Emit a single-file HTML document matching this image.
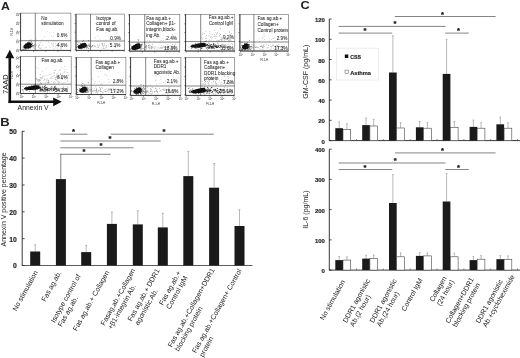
<!DOCTYPE html><html><head><meta charset="utf-8"><title>Figure</title>
<style>html,body{margin:0;padding:0;background:#fff}svg{display:block;filter:blur(0.3px)}text{font-family:"Liberation Sans",sans-serif;fill:#222}</style></head><body>
<svg width="520" height="358" viewBox="0 0 520 358">
<rect width="520" height="358" fill="#fff"/>
<text x="1.0" y="9.8" font-size="11.3" font-weight="bold" text-anchor="start" fill="#111" textLength="8.9" lengthAdjust="spacingAndGlyphs">A</text>
<text x="0.3" y="126.2" font-size="11.3" font-weight="bold" text-anchor="start" fill="#111" textLength="9.4" lengthAdjust="spacingAndGlyphs">B</text>
<text x="300.5" y="9.3" font-size="11.3" font-weight="bold" text-anchor="start" fill="#111" textLength="9.2" lengthAdjust="spacingAndGlyphs">C</text>
<rect x="20.6" y="13.1" width="50.3" height="37.3" fill="#fff" stroke="#666" stroke-width="0.6"/>
<path d="M20.6 13.1V50.4H70.9" fill="none" stroke="#333" stroke-width="0.9"/>
<line x1="35.3" y1="13.1" x2="35.3" y2="50.4" stroke="#333" stroke-width="0.6"/>
<line x1="20.6" y1="40.7" x2="70.9" y2="40.7" stroke="#333" stroke-width="0.6"/>
<ellipse cx="27.9" cy="45.9" rx="4.6" ry="2.5" fill="#0d0d0d" transform="rotate(-16 27.9 45.9)"/>
<ellipse cx="29.0" cy="45.1" rx="2.8" ry="2.3" fill="#0d0d0d" transform="rotate(-24 27.9 45.9)"/>
<circle cx="27.3" cy="47.3" r="0.45" fill="#222"/>
<circle cx="26.9" cy="45.4" r="0.45" fill="#222"/>
<circle cx="24.6" cy="46.3" r="0.45" fill="#222"/>
<circle cx="31.9" cy="45.8" r="0.45" fill="#222"/>
<circle cx="31.5" cy="45.5" r="0.45" fill="#222"/>
<circle cx="29.3" cy="46.0" r="0.45" fill="#222"/>
<circle cx="22.8" cy="49.5" r="0.45" fill="#222"/>
<circle cx="29.9" cy="46.6" r="0.45" fill="#222"/>
<circle cx="24.6" cy="45.7" r="0.45" fill="#222"/>
<circle cx="28.8" cy="45.5" r="0.45" fill="#222"/>
<circle cx="29.2" cy="43.9" r="0.45" fill="#222"/>
<circle cx="29.1" cy="46.5" r="0.45" fill="#222"/>
<circle cx="30.5" cy="48.1" r="0.45" fill="#222"/>
<circle cx="25.3" cy="44.8" r="0.45" fill="#222"/>
<circle cx="26.6" cy="46.0" r="0.45" fill="#222"/>
<circle cx="30.1" cy="45.9" r="0.45" fill="#222"/>
<circle cx="25.7" cy="44.1" r="0.45" fill="#222"/>
<circle cx="26.9" cy="49.2" r="0.45" fill="#222"/>
<circle cx="25.3" cy="47.2" r="0.45" fill="#222"/>
<circle cx="28.3" cy="42.0" r="0.45" fill="#222"/>
<circle cx="28.9" cy="48.9" r="0.45" fill="#222"/>
<circle cx="27.0" cy="44.1" r="0.45" fill="#222"/>
<circle cx="29.5" cy="45.3" r="0.45" fill="#222"/>
<circle cx="23.5" cy="49.2" r="0.45" fill="#222"/>
<circle cx="30.7" cy="47.5" r="0.45" fill="#222"/>
<circle cx="32.9" cy="45.4" r="0.45" fill="#222"/>
<circle cx="27.4" cy="42.8" r="0.45" fill="#222"/>
<circle cx="29.5" cy="43.9" r="0.45" fill="#222"/>
<circle cx="25.5" cy="43.4" r="0.45" fill="#222"/>
<circle cx="24.3" cy="45.6" r="0.45" fill="#222"/>
<circle cx="30.8" cy="39.9" r="0.45" fill="#222"/>
<circle cx="23.1" cy="47.9" r="0.45" fill="#222"/>
<circle cx="33.1" cy="45.9" r="0.45" fill="#222"/>
<circle cx="28.6" cy="43.8" r="0.45" fill="#222"/>
<circle cx="24.8" cy="49.2" r="0.45" fill="#222"/>
<circle cx="31.6" cy="45.2" r="0.45" fill="#222"/>
<circle cx="29.0" cy="46.7" r="0.45" fill="#222"/>
<circle cx="33.6" cy="45.8" r="0.45" fill="#222"/>
<circle cx="29.9" cy="46.7" r="0.45" fill="#222"/>
<circle cx="31.4" cy="46.2" r="0.45" fill="#222"/>
<circle cx="29.5" cy="40.9" r="0.45" fill="#222"/>
<circle cx="27.9" cy="48.4" r="0.45" fill="#222"/>
<circle cx="29.6" cy="45.0" r="0.45" fill="#222"/>
<circle cx="29.4" cy="47.1" r="0.45" fill="#222"/>
<circle cx="29.0" cy="48.4" r="0.45" fill="#222"/>
<circle cx="25.4" cy="45.6" r="0.45" fill="#222"/>
<circle cx="31.4" cy="45.0" r="0.45" fill="#222"/>
<circle cx="25.5" cy="48.9" r="0.45" fill="#222"/>
<circle cx="32.5" cy="43.5" r="0.45" fill="#222"/>
<circle cx="23.1" cy="46.9" r="0.45" fill="#222"/>
<circle cx="27.2" cy="45.4" r="0.45" fill="#222"/>
<circle cx="31.9" cy="42.2" r="0.45" fill="#222"/>
<circle cx="31.2" cy="41.7" r="0.45" fill="#222"/>
<circle cx="25.6" cy="48.1" r="0.45" fill="#222"/>
<circle cx="32.2" cy="46.8" r="0.45" fill="#222"/>
<circle cx="29.1" cy="45.9" r="0.45" fill="#222"/>
<circle cx="28.7" cy="47.1" r="0.45" fill="#222"/>
<circle cx="27.4" cy="46.7" r="0.45" fill="#222"/>
<circle cx="29.8" cy="45.4" r="0.45" fill="#222"/>
<circle cx="30.8" cy="46.5" r="0.45" fill="#222"/>
<circle cx="34.8" cy="44.7" r="0.45" fill="#222"/>
<circle cx="26.2" cy="45.4" r="0.45" fill="#222"/>
<circle cx="28.4" cy="48.1" r="0.45" fill="#222"/>
<circle cx="39.5" cy="48.0" r="0.42" fill="#888"/>
<circle cx="61.1" cy="48.0" r="0.42" fill="#888"/>
<circle cx="42.5" cy="45.3" r="0.42" fill="#888"/>
<circle cx="32.9" cy="46.0" r="0.42" fill="#888"/>
<circle cx="38.9" cy="45.7" r="0.42" fill="#888"/>
<circle cx="34.2" cy="48.8" r="0.42" fill="#888"/>
<circle cx="31.6" cy="47.7" r="0.42" fill="#888"/>
<circle cx="33.9" cy="45.4" r="0.42" fill="#888"/>
<circle cx="45.0" cy="47.8" r="0.42" fill="#888"/>
<circle cx="60.6" cy="46.3" r="0.42" fill="#888"/>
<circle cx="56.2" cy="45.6" r="0.42" fill="#888"/>
<circle cx="39.5" cy="44.8" r="0.42" fill="#888"/>
<circle cx="34.3" cy="46.2" r="0.42" fill="#888"/>
<circle cx="53.1" cy="44.1" r="0.42" fill="#888"/>
<circle cx="38.5" cy="46.4" r="0.42" fill="#888"/>
<circle cx="60.8" cy="48.7" r="0.42" fill="#888"/>
<circle cx="55.8" cy="46.9" r="0.42" fill="#888"/>
<circle cx="51.7" cy="43.3" r="0.42" fill="#888"/>
<circle cx="35.8" cy="44.6" r="0.42" fill="#888"/>
<circle cx="31.7" cy="45.8" r="0.42" fill="#888"/>
<circle cx="31.7" cy="45.7" r="0.42" fill="#888"/>
<circle cx="50.0" cy="47.1" r="0.42" fill="#888"/>
<circle cx="59.7" cy="42.6" r="0.42" fill="#888"/>
<circle cx="60.9" cy="47.1" r="0.42" fill="#888"/>
<circle cx="59.7" cy="45.3" r="0.42" fill="#888"/>
<circle cx="35.8" cy="46.7" r="0.42" fill="#888"/>
<circle cx="35.0" cy="46.5" r="0.42" fill="#888"/>
<circle cx="57.6" cy="48.0" r="0.42" fill="#888"/>
<circle cx="55.3" cy="43.8" r="0.42" fill="#888"/>
<circle cx="53.8" cy="46.2" r="0.42" fill="#888"/>
<circle cx="32.6" cy="44.2" r="0.42" fill="#888"/>
<circle cx="53.2" cy="43.2" r="0.42" fill="#888"/>
<circle cx="52.0" cy="45.0" r="0.42" fill="#888"/>
<circle cx="53.5" cy="46.1" r="0.42" fill="#888"/>
<circle cx="38.6" cy="47.2" r="0.42" fill="#888"/>
<circle cx="40.4" cy="42.1" r="0.42" fill="#888"/>
<circle cx="40.6" cy="48.2" r="0.42" fill="#888"/>
<circle cx="34.4" cy="45.2" r="0.42" fill="#888"/>
<circle cx="33.5" cy="47.8" r="0.42" fill="#888"/>
<circle cx="54.1" cy="48.6" r="0.42" fill="#888"/>
<circle cx="33.9" cy="47.9" r="0.42" fill="#888"/>
<circle cx="48.8" cy="42.2" r="0.42" fill="#888"/>
<circle cx="39.1" cy="45.2" r="0.42" fill="#888"/>
<circle cx="31.5" cy="45.7" r="0.42" fill="#888"/>
<circle cx="60.3" cy="44.9" r="0.42" fill="#888"/>
<circle cx="58.8" cy="44.5" r="0.42" fill="#888"/>
<circle cx="41.5" cy="47.9" r="0.42" fill="#888"/>
<circle cx="35.4" cy="43.9" r="0.42" fill="#888"/>
<circle cx="36.4" cy="45.7" r="0.42" fill="#888"/>
<circle cx="46.4" cy="47.0" r="0.42" fill="#888"/>
<circle cx="44.8" cy="37.0" r="0.38" fill="#999"/>
<circle cx="66.0" cy="38.4" r="0.38" fill="#999"/>
<circle cx="47.8" cy="31.3" r="0.38" fill="#999"/>
<circle cx="65.8" cy="37.8" r="0.38" fill="#999"/>
<circle cx="50.0" cy="33.0" r="0.38" fill="#999"/>
<circle cx="53.6" cy="36.1" r="0.38" fill="#999"/>
<circle cx="53.4" cy="32.7" r="0.38" fill="#999"/>
<circle cx="42.3" cy="39.3" r="0.38" fill="#999"/>
<circle cx="36.4" cy="38.9" r="0.38" fill="#999"/>
<circle cx="51.7" cy="36.1" r="0.38" fill="#999"/>
<text x="41.3" y="19.7" font-size="4.7" font-weight="normal" text-anchor="start" fill="#333" stroke="#333" stroke-width="0.04">No</text>
<text x="41.3" y="24.7" font-size="4.7" font-weight="normal" text-anchor="start" fill="#333" stroke="#333" stroke-width="0.04">stimulation</text>
<text x="67.5" y="36.5" font-size="4.7" font-weight="normal" text-anchor="end" fill="#333" stroke="#333" stroke-width="0.04">0.6%</text>
<text x="67.5" y="46.5" font-size="4.7" font-weight="normal" text-anchor="end" fill="#333" stroke="#333" stroke-width="0.04">4.6%</text>
<line x1="21.2" y1="50.4" x2="21.2" y2="51.9" stroke="#333" stroke-width="0.5"/>
<line x1="19.1" y1="49.8" x2="20.6" y2="49.8" stroke="#333" stroke-width="0.5"/>
<line x1="24.9" y1="50.4" x2="24.9" y2="51.199999999999996" stroke="#777" stroke-width="0.35"/>
<line x1="19.8" y1="47.1" x2="20.6" y2="47.1" stroke="#777" stroke-width="0.35"/>
<line x1="27.1" y1="50.4" x2="27.1" y2="51.199999999999996" stroke="#777" stroke-width="0.35"/>
<line x1="19.8" y1="45.5" x2="20.6" y2="45.5" stroke="#777" stroke-width="0.35"/>
<line x1="29.8" y1="50.4" x2="29.8" y2="51.199999999999996" stroke="#777" stroke-width="0.35"/>
<line x1="19.8" y1="43.5" x2="20.6" y2="43.5" stroke="#777" stroke-width="0.35"/>
<line x1="31.6" y1="50.4" x2="31.6" y2="51.199999999999996" stroke="#777" stroke-width="0.35"/>
<line x1="19.8" y1="42.2" x2="20.6" y2="42.2" stroke="#777" stroke-width="0.35"/>
<text x="18.4" y="51.2" font-size="2.7" text-anchor="middle" fill="#666" transform="rotate(-90 18.4 50.4)">10<tspan dy="-1.1" font-size="1.9">0</tspan></text>
<line x1="33.5" y1="50.4" x2="33.5" y2="51.9" stroke="#333" stroke-width="0.5"/>
<line x1="19.1" y1="40.8" x2="20.6" y2="40.8" stroke="#333" stroke-width="0.5"/>
<line x1="37.2" y1="50.4" x2="37.2" y2="51.199999999999996" stroke="#777" stroke-width="0.35"/>
<line x1="19.8" y1="38.1" x2="20.6" y2="38.1" stroke="#777" stroke-width="0.35"/>
<line x1="39.3" y1="50.4" x2="39.3" y2="51.199999999999996" stroke="#777" stroke-width="0.35"/>
<line x1="19.8" y1="36.5" x2="20.6" y2="36.5" stroke="#777" stroke-width="0.35"/>
<line x1="42.1" y1="50.4" x2="42.1" y2="51.199999999999996" stroke="#777" stroke-width="0.35"/>
<line x1="19.8" y1="34.5" x2="20.6" y2="34.5" stroke="#777" stroke-width="0.35"/>
<line x1="43.8" y1="50.4" x2="43.8" y2="51.199999999999996" stroke="#777" stroke-width="0.35"/>
<line x1="19.8" y1="33.1" x2="20.6" y2="33.1" stroke="#777" stroke-width="0.35"/>
<text x="18.4" y="42.2" font-size="2.7" text-anchor="middle" fill="#666" transform="rotate(-90 18.4 41.4)">10<tspan dy="-1.1" font-size="1.9">1</tspan></text>
<line x1="45.8" y1="50.4" x2="45.8" y2="51.9" stroke="#333" stroke-width="0.5"/>
<line x1="19.1" y1="31.8" x2="20.6" y2="31.8" stroke="#333" stroke-width="0.5"/>
<line x1="49.4" y1="50.4" x2="49.4" y2="51.199999999999996" stroke="#777" stroke-width="0.35"/>
<line x1="19.8" y1="29.0" x2="20.6" y2="29.0" stroke="#777" stroke-width="0.35"/>
<line x1="51.6" y1="50.4" x2="51.6" y2="51.199999999999996" stroke="#777" stroke-width="0.35"/>
<line x1="19.8" y1="27.4" x2="20.6" y2="27.4" stroke="#777" stroke-width="0.35"/>
<line x1="54.3" y1="50.4" x2="54.3" y2="51.199999999999996" stroke="#777" stroke-width="0.35"/>
<line x1="19.8" y1="25.4" x2="20.6" y2="25.4" stroke="#777" stroke-width="0.35"/>
<line x1="56.1" y1="50.4" x2="56.1" y2="51.199999999999996" stroke="#777" stroke-width="0.35"/>
<line x1="19.8" y1="24.1" x2="20.6" y2="24.1" stroke="#777" stroke-width="0.35"/>
<text x="18.4" y="33.1" font-size="2.7" text-anchor="middle" fill="#666" transform="rotate(-90 18.4 32.4)">10<tspan dy="-1.1" font-size="1.9">2</tspan></text>
<line x1="58.0" y1="50.4" x2="58.0" y2="51.9" stroke="#333" stroke-width="0.5"/>
<line x1="19.1" y1="22.7" x2="20.6" y2="22.7" stroke="#333" stroke-width="0.5"/>
<line x1="61.7" y1="50.4" x2="61.7" y2="51.199999999999996" stroke="#777" stroke-width="0.35"/>
<line x1="19.8" y1="20.0" x2="20.6" y2="20.0" stroke="#777" stroke-width="0.35"/>
<line x1="63.9" y1="50.4" x2="63.9" y2="51.199999999999996" stroke="#777" stroke-width="0.35"/>
<line x1="19.8" y1="18.4" x2="20.6" y2="18.4" stroke="#777" stroke-width="0.35"/>
<line x1="66.6" y1="50.4" x2="66.6" y2="51.199999999999996" stroke="#777" stroke-width="0.35"/>
<line x1="19.8" y1="16.4" x2="20.6" y2="16.4" stroke="#777" stroke-width="0.35"/>
<line x1="68.4" y1="50.4" x2="68.4" y2="51.199999999999996" stroke="#777" stroke-width="0.35"/>
<line x1="19.8" y1="15.1" x2="20.6" y2="15.1" stroke="#777" stroke-width="0.35"/>
<text x="18.4" y="24.1" font-size="2.7" text-anchor="middle" fill="#666" transform="rotate(-90 18.4 23.3)">10<tspan dy="-1.1" font-size="1.9">3</tspan></text>
<line x1="70.3" y1="50.4" x2="70.3" y2="51.9" stroke="#333" stroke-width="0.5"/>
<line x1="19.1" y1="13.7" x2="20.6" y2="13.7" stroke="#333" stroke-width="0.5"/>
<text x="18.4" y="15.1" font-size="2.7" text-anchor="middle" fill="#666" transform="rotate(-90 18.4 14.3)">10<tspan dy="-1.1" font-size="1.9">4</tspan></text>
<text x="12.6" y="31.5" font-size="2.8" font-weight="normal" text-anchor="middle" fill="#444" transform="rotate(-90 12.6 31.5)">FL2-H</text>
<rect x="76.0" y="14.1" width="48.6" height="36.3" fill="#fff" stroke="#666" stroke-width="0.6"/>
<path d="M76.0 14.1V50.4H124.6" fill="none" stroke="#333" stroke-width="0.9"/>
<line x1="90.5" y1="14.1" x2="90.5" y2="50.4" stroke="#333" stroke-width="0.6"/>
<line x1="76.0" y1="41.0" x2="124.6" y2="41.0" stroke="#333" stroke-width="0.6"/>
<ellipse cx="82.4" cy="46.1" rx="4.9" ry="2.3" fill="#0d0d0d" transform="rotate(-16 82.4 46.1)"/>
<ellipse cx="83.7" cy="45.5" rx="3.0" ry="2.0" fill="#0d0d0d" transform="rotate(-24 82.4 46.1)"/>
<circle cx="81.0" cy="43.8" r="0.45" fill="#222"/>
<circle cx="81.1" cy="48.9" r="0.45" fill="#222"/>
<circle cx="86.5" cy="46.8" r="0.45" fill="#222"/>
<circle cx="83.0" cy="47.8" r="0.45" fill="#222"/>
<circle cx="82.3" cy="43.6" r="0.45" fill="#222"/>
<circle cx="85.4" cy="44.0" r="0.45" fill="#222"/>
<circle cx="78.8" cy="45.5" r="0.45" fill="#222"/>
<circle cx="76.9" cy="47.5" r="0.45" fill="#222"/>
<circle cx="78.5" cy="48.1" r="0.45" fill="#222"/>
<circle cx="79.0" cy="42.8" r="0.45" fill="#222"/>
<circle cx="84.9" cy="44.8" r="0.45" fill="#222"/>
<circle cx="83.2" cy="44.9" r="0.45" fill="#222"/>
<circle cx="85.7" cy="46.9" r="0.45" fill="#222"/>
<circle cx="85.0" cy="46.1" r="0.45" fill="#222"/>
<circle cx="87.6" cy="46.1" r="0.45" fill="#222"/>
<circle cx="82.8" cy="41.4" r="0.45" fill="#222"/>
<circle cx="86.4" cy="47.9" r="0.45" fill="#222"/>
<circle cx="81.1" cy="45.5" r="0.45" fill="#222"/>
<circle cx="88.3" cy="40.5" r="0.45" fill="#222"/>
<circle cx="79.5" cy="48.5" r="0.45" fill="#222"/>
<circle cx="89.1" cy="44.0" r="0.45" fill="#222"/>
<circle cx="85.0" cy="47.4" r="0.45" fill="#222"/>
<circle cx="79.2" cy="46.9" r="0.45" fill="#222"/>
<circle cx="84.0" cy="47.6" r="0.45" fill="#222"/>
<circle cx="82.2" cy="45.8" r="0.45" fill="#222"/>
<circle cx="78.6" cy="46.4" r="0.45" fill="#222"/>
<circle cx="85.7" cy="45.4" r="0.45" fill="#222"/>
<circle cx="78.9" cy="45.3" r="0.45" fill="#222"/>
<circle cx="92.6" cy="45.8" r="0.45" fill="#222"/>
<circle cx="83.2" cy="40.2" r="0.45" fill="#222"/>
<circle cx="85.0" cy="46.5" r="0.45" fill="#222"/>
<circle cx="88.7" cy="45.3" r="0.45" fill="#222"/>
<circle cx="82.5" cy="47.3" r="0.45" fill="#222"/>
<circle cx="83.2" cy="44.4" r="0.45" fill="#222"/>
<circle cx="88.2" cy="48.5" r="0.45" fill="#222"/>
<circle cx="77.1" cy="46.2" r="0.45" fill="#222"/>
<circle cx="83.6" cy="46.2" r="0.45" fill="#222"/>
<circle cx="80.5" cy="44.6" r="0.45" fill="#222"/>
<circle cx="90.6" cy="46.1" r="0.45" fill="#222"/>
<circle cx="77.4" cy="44.6" r="0.45" fill="#222"/>
<circle cx="89.1" cy="46.4" r="0.45" fill="#222"/>
<circle cx="89.4" cy="46.0" r="0.45" fill="#222"/>
<circle cx="79.5" cy="47.6" r="0.45" fill="#222"/>
<circle cx="82.5" cy="47.3" r="0.45" fill="#222"/>
<circle cx="79.8" cy="46.6" r="0.45" fill="#222"/>
<circle cx="84.3" cy="46.5" r="0.45" fill="#222"/>
<circle cx="84.8" cy="45.9" r="0.45" fill="#222"/>
<circle cx="81.8" cy="48.1" r="0.45" fill="#222"/>
<circle cx="82.1" cy="44.4" r="0.45" fill="#222"/>
<circle cx="80.2" cy="46.8" r="0.45" fill="#222"/>
<circle cx="82.2" cy="46.6" r="0.45" fill="#222"/>
<circle cx="82.6" cy="46.5" r="0.45" fill="#222"/>
<circle cx="81.2" cy="43.7" r="0.45" fill="#222"/>
<circle cx="84.6" cy="47.9" r="0.45" fill="#222"/>
<circle cx="83.9" cy="45.3" r="0.45" fill="#222"/>
<circle cx="83.5" cy="43.7" r="0.45" fill="#222"/>
<circle cx="79.6" cy="48.6" r="0.45" fill="#222"/>
<circle cx="77.0" cy="41.8" r="0.45" fill="#222"/>
<circle cx="80.3" cy="43.7" r="0.45" fill="#222"/>
<circle cx="80.0" cy="48.0" r="0.45" fill="#222"/>
<circle cx="84.3" cy="46.0" r="0.45" fill="#222"/>
<circle cx="87.3" cy="46.0" r="0.42" fill="#888"/>
<circle cx="89.1" cy="44.9" r="0.42" fill="#888"/>
<circle cx="87.5" cy="47.7" r="0.42" fill="#888"/>
<circle cx="104.1" cy="43.6" r="0.42" fill="#888"/>
<circle cx="92.1" cy="46.2" r="0.42" fill="#888"/>
<circle cx="97.2" cy="47.3" r="0.42" fill="#888"/>
<circle cx="89.0" cy="45.0" r="0.42" fill="#888"/>
<circle cx="114.8" cy="46.5" r="0.42" fill="#888"/>
<circle cx="115.2" cy="45.0" r="0.42" fill="#888"/>
<circle cx="115.0" cy="45.8" r="0.42" fill="#888"/>
<circle cx="92.8" cy="46.1" r="0.42" fill="#888"/>
<circle cx="94.9" cy="46.2" r="0.42" fill="#888"/>
<circle cx="97.7" cy="45.1" r="0.42" fill="#888"/>
<circle cx="98.6" cy="46.1" r="0.42" fill="#888"/>
<circle cx="86.3" cy="46.0" r="0.42" fill="#888"/>
<circle cx="95.4" cy="46.7" r="0.42" fill="#888"/>
<circle cx="86.8" cy="47.4" r="0.42" fill="#888"/>
<circle cx="90.8" cy="46.3" r="0.42" fill="#888"/>
<circle cx="101.3" cy="43.6" r="0.42" fill="#888"/>
<circle cx="103.7" cy="45.6" r="0.42" fill="#888"/>
<circle cx="105.7" cy="47.2" r="0.42" fill="#888"/>
<circle cx="93.3" cy="45.1" r="0.42" fill="#888"/>
<circle cx="115.7" cy="47.5" r="0.42" fill="#888"/>
<circle cx="103.2" cy="48.0" r="0.42" fill="#888"/>
<circle cx="86.8" cy="47.7" r="0.42" fill="#888"/>
<circle cx="102.7" cy="43.4" r="0.42" fill="#888"/>
<circle cx="106.4" cy="46.4" r="0.42" fill="#888"/>
<circle cx="99.2" cy="45.3" r="0.42" fill="#888"/>
<circle cx="98.6" cy="47.5" r="0.42" fill="#888"/>
<circle cx="109.7" cy="43.8" r="0.42" fill="#888"/>
<circle cx="101.2" cy="47.9" r="0.42" fill="#888"/>
<circle cx="104.9" cy="44.7" r="0.42" fill="#888"/>
<circle cx="90.7" cy="46.9" r="0.42" fill="#888"/>
<circle cx="94.3" cy="46.3" r="0.42" fill="#888"/>
<circle cx="87.9" cy="47.1" r="0.42" fill="#888"/>
<circle cx="102.7" cy="44.5" r="0.42" fill="#888"/>
<circle cx="102.6" cy="45.4" r="0.42" fill="#888"/>
<circle cx="86.3" cy="44.5" r="0.42" fill="#888"/>
<circle cx="108.7" cy="46.1" r="0.42" fill="#888"/>
<circle cx="99.6" cy="44.3" r="0.42" fill="#888"/>
<circle cx="103.8" cy="48.3" r="0.42" fill="#888"/>
<circle cx="91.3" cy="47.1" r="0.42" fill="#888"/>
<circle cx="87.3" cy="45.9" r="0.42" fill="#888"/>
<circle cx="90.1" cy="48.5" r="0.42" fill="#888"/>
<circle cx="106.6" cy="47.8" r="0.42" fill="#888"/>
<circle cx="94.9" cy="45.8" r="0.42" fill="#888"/>
<circle cx="97.8" cy="45.1" r="0.42" fill="#888"/>
<circle cx="102.3" cy="43.8" r="0.42" fill="#888"/>
<circle cx="103.2" cy="46.8" r="0.42" fill="#888"/>
<circle cx="91.3" cy="46.5" r="0.42" fill="#888"/>
<circle cx="106.7" cy="45.4" r="0.42" fill="#888"/>
<circle cx="86.4" cy="47.9" r="0.42" fill="#888"/>
<circle cx="87.1" cy="45.8" r="0.42" fill="#888"/>
<circle cx="104.9" cy="48.3" r="0.42" fill="#888"/>
<circle cx="104.3" cy="45.6" r="0.42" fill="#888"/>
<circle cx="106.0" cy="32.3" r="0.38" fill="#999"/>
<circle cx="106.0" cy="29.6" r="0.38" fill="#999"/>
<circle cx="97.7" cy="30.5" r="0.38" fill="#999"/>
<circle cx="121.9" cy="39.3" r="0.38" fill="#999"/>
<circle cx="105.8" cy="40.0" r="0.38" fill="#999"/>
<circle cx="117.0" cy="33.0" r="0.38" fill="#999"/>
<circle cx="99.9" cy="39.0" r="0.38" fill="#999"/>
<circle cx="98.0" cy="36.0" r="0.38" fill="#999"/>
<circle cx="109.6" cy="38.9" r="0.38" fill="#999"/>
<circle cx="95.9" cy="23.4" r="0.38" fill="#999"/>
<circle cx="95.6" cy="37.9" r="0.38" fill="#999"/>
<circle cx="117.0" cy="25.9" r="0.38" fill="#999"/>
<text x="96.3" y="19.7" font-size="4.7" font-weight="normal" text-anchor="start" fill="#333" stroke="#333" stroke-width="0.04">Isotype</text>
<text x="96.3" y="25.4" font-size="4.7" font-weight="normal" text-anchor="start" fill="#333" stroke="#333" stroke-width="0.04">control of</text>
<text x="96.3" y="31.2" font-size="4.7" font-weight="normal" text-anchor="start" fill="#333" stroke="#333" stroke-width="0.04">Fas ag.ab.</text>
<text x="121" y="40.0" font-size="4.7" font-weight="normal" text-anchor="end" fill="#333" stroke="#333" stroke-width="0.04">0.9%</text>
<text x="120.5" y="46.7" font-size="4.7" font-weight="normal" text-anchor="end" fill="#333" stroke="#333" stroke-width="0.04">5.1%</text>
<line x1="76.6" y1="50.4" x2="76.6" y2="51.9" stroke="#333" stroke-width="0.5"/>
<line x1="74.5" y1="49.8" x2="76.0" y2="49.8" stroke="#333" stroke-width="0.5"/>
<line x1="80.2" y1="50.4" x2="80.2" y2="51.199999999999996" stroke="#777" stroke-width="0.35"/>
<line x1="75.2" y1="47.2" x2="76.0" y2="47.2" stroke="#777" stroke-width="0.35"/>
<line x1="82.3" y1="50.4" x2="82.3" y2="51.199999999999996" stroke="#777" stroke-width="0.35"/>
<line x1="75.2" y1="45.6" x2="76.0" y2="45.6" stroke="#777" stroke-width="0.35"/>
<line x1="84.9" y1="50.4" x2="84.9" y2="51.199999999999996" stroke="#777" stroke-width="0.35"/>
<line x1="75.2" y1="43.7" x2="76.0" y2="43.7" stroke="#777" stroke-width="0.35"/>
<line x1="86.6" y1="50.4" x2="86.6" y2="51.199999999999996" stroke="#777" stroke-width="0.35"/>
<line x1="75.2" y1="42.4" x2="76.0" y2="42.4" stroke="#777" stroke-width="0.35"/>
<line x1="88.4" y1="50.4" x2="88.4" y2="51.9" stroke="#333" stroke-width="0.5"/>
<line x1="74.5" y1="41.0" x2="76.0" y2="41.0" stroke="#333" stroke-width="0.5"/>
<line x1="92.0" y1="50.4" x2="92.0" y2="51.199999999999996" stroke="#777" stroke-width="0.35"/>
<line x1="75.2" y1="38.4" x2="76.0" y2="38.4" stroke="#777" stroke-width="0.35"/>
<line x1="94.1" y1="50.4" x2="94.1" y2="51.199999999999996" stroke="#777" stroke-width="0.35"/>
<line x1="75.2" y1="36.8" x2="76.0" y2="36.8" stroke="#777" stroke-width="0.35"/>
<line x1="96.7" y1="50.4" x2="96.7" y2="51.199999999999996" stroke="#777" stroke-width="0.35"/>
<line x1="75.2" y1="34.9" x2="76.0" y2="34.9" stroke="#777" stroke-width="0.35"/>
<line x1="98.5" y1="50.4" x2="98.5" y2="51.199999999999996" stroke="#777" stroke-width="0.35"/>
<line x1="75.2" y1="33.6" x2="76.0" y2="33.6" stroke="#777" stroke-width="0.35"/>
<line x1="100.3" y1="50.4" x2="100.3" y2="51.9" stroke="#333" stroke-width="0.5"/>
<line x1="74.5" y1="32.2" x2="76.0" y2="32.2" stroke="#333" stroke-width="0.5"/>
<line x1="103.9" y1="50.4" x2="103.9" y2="51.199999999999996" stroke="#777" stroke-width="0.35"/>
<line x1="75.2" y1="29.6" x2="76.0" y2="29.6" stroke="#777" stroke-width="0.35"/>
<line x1="106.0" y1="50.4" x2="106.0" y2="51.199999999999996" stroke="#777" stroke-width="0.35"/>
<line x1="75.2" y1="28.1" x2="76.0" y2="28.1" stroke="#777" stroke-width="0.35"/>
<line x1="108.6" y1="50.4" x2="108.6" y2="51.199999999999996" stroke="#777" stroke-width="0.35"/>
<line x1="75.2" y1="26.1" x2="76.0" y2="26.1" stroke="#777" stroke-width="0.35"/>
<line x1="110.3" y1="50.4" x2="110.3" y2="51.199999999999996" stroke="#777" stroke-width="0.35"/>
<line x1="75.2" y1="24.8" x2="76.0" y2="24.8" stroke="#777" stroke-width="0.35"/>
<line x1="112.1" y1="50.4" x2="112.1" y2="51.9" stroke="#333" stroke-width="0.5"/>
<line x1="74.5" y1="23.5" x2="76.0" y2="23.5" stroke="#333" stroke-width="0.5"/>
<line x1="115.7" y1="50.4" x2="115.7" y2="51.199999999999996" stroke="#777" stroke-width="0.35"/>
<line x1="75.2" y1="20.8" x2="76.0" y2="20.8" stroke="#777" stroke-width="0.35"/>
<line x1="117.8" y1="50.4" x2="117.8" y2="51.199999999999996" stroke="#777" stroke-width="0.35"/>
<line x1="75.2" y1="19.3" x2="76.0" y2="19.3" stroke="#777" stroke-width="0.35"/>
<line x1="120.4" y1="50.4" x2="120.4" y2="51.199999999999996" stroke="#777" stroke-width="0.35"/>
<line x1="75.2" y1="17.3" x2="76.0" y2="17.3" stroke="#777" stroke-width="0.35"/>
<line x1="122.2" y1="50.4" x2="122.2" y2="51.199999999999996" stroke="#777" stroke-width="0.35"/>
<line x1="75.2" y1="16.1" x2="76.0" y2="16.1" stroke="#777" stroke-width="0.35"/>
<line x1="124.0" y1="50.4" x2="124.0" y2="51.9" stroke="#333" stroke-width="0.5"/>
<line x1="74.5" y1="14.7" x2="76.0" y2="14.7" stroke="#333" stroke-width="0.5"/>
<rect x="129.5" y="14.3" width="50.3" height="36.8" fill="#fff" stroke="#666" stroke-width="0.6"/>
<path d="M129.5 14.3V51.1H179.8" fill="none" stroke="#333" stroke-width="0.9"/>
<line x1="144.7" y1="14.3" x2="144.7" y2="51.1" stroke="#333" stroke-width="0.6"/>
<line x1="129.5" y1="42.1" x2="179.8" y2="42.1" stroke="#333" stroke-width="0.6"/>
<ellipse cx="136.4" cy="47.0" rx="5.2" ry="2.5" fill="#0d0d0d" transform="rotate(-16 136.4 47.0)"/>
<ellipse cx="137.7" cy="46.2" rx="3.1" ry="2.2" fill="#0d0d0d" transform="rotate(-24 136.4 47.0)"/>
<circle cx="135.8" cy="46.7" r="0.45" fill="#222"/>
<circle cx="134.4" cy="49.8" r="0.45" fill="#222"/>
<circle cx="133.9" cy="47.9" r="0.45" fill="#222"/>
<circle cx="135.7" cy="44.5" r="0.45" fill="#222"/>
<circle cx="136.5" cy="46.5" r="0.45" fill="#222"/>
<circle cx="138.0" cy="45.3" r="0.45" fill="#222"/>
<circle cx="139.1" cy="46.3" r="0.45" fill="#222"/>
<circle cx="136.2" cy="47.1" r="0.45" fill="#222"/>
<circle cx="141.9" cy="44.2" r="0.45" fill="#222"/>
<circle cx="138.1" cy="39.6" r="0.45" fill="#222"/>
<circle cx="144.5" cy="42.7" r="0.45" fill="#222"/>
<circle cx="134.0" cy="45.9" r="0.45" fill="#222"/>
<circle cx="138.0" cy="47.6" r="0.45" fill="#222"/>
<circle cx="137.2" cy="47.8" r="0.45" fill="#222"/>
<circle cx="134.2" cy="49.3" r="0.45" fill="#222"/>
<circle cx="135.2" cy="47.1" r="0.45" fill="#222"/>
<circle cx="141.1" cy="46.5" r="0.45" fill="#222"/>
<circle cx="134.6" cy="48.8" r="0.45" fill="#222"/>
<circle cx="130.8" cy="44.9" r="0.45" fill="#222"/>
<circle cx="137.2" cy="42.9" r="0.45" fill="#222"/>
<circle cx="138.0" cy="45.3" r="0.45" fill="#222"/>
<circle cx="139.5" cy="48.0" r="0.45" fill="#222"/>
<circle cx="139.1" cy="45.1" r="0.45" fill="#222"/>
<circle cx="138.9" cy="45.8" r="0.45" fill="#222"/>
<circle cx="141.6" cy="44.5" r="0.45" fill="#222"/>
<circle cx="140.6" cy="44.6" r="0.45" fill="#222"/>
<circle cx="138.0" cy="47.4" r="0.45" fill="#222"/>
<circle cx="139.2" cy="48.6" r="0.45" fill="#222"/>
<circle cx="134.2" cy="48.6" r="0.45" fill="#222"/>
<circle cx="145.1" cy="47.2" r="0.45" fill="#222"/>
<circle cx="136.6" cy="48.0" r="0.45" fill="#222"/>
<circle cx="138.8" cy="48.2" r="0.45" fill="#222"/>
<circle cx="138.7" cy="47.9" r="0.45" fill="#222"/>
<circle cx="137.9" cy="46.4" r="0.45" fill="#222"/>
<circle cx="142.1" cy="48.4" r="0.45" fill="#222"/>
<circle cx="131.8" cy="46.2" r="0.45" fill="#222"/>
<circle cx="137.8" cy="44.3" r="0.45" fill="#222"/>
<circle cx="135.7" cy="46.7" r="0.45" fill="#222"/>
<circle cx="137.3" cy="45.7" r="0.45" fill="#222"/>
<circle cx="146.6" cy="46.1" r="0.45" fill="#222"/>
<circle cx="138.7" cy="43.0" r="0.45" fill="#222"/>
<circle cx="131.1" cy="48.9" r="0.45" fill="#222"/>
<circle cx="139.3" cy="46.2" r="0.45" fill="#222"/>
<circle cx="138.7" cy="40.7" r="0.45" fill="#222"/>
<circle cx="140.3" cy="48.8" r="0.45" fill="#222"/>
<circle cx="130.4" cy="49.3" r="0.45" fill="#222"/>
<circle cx="136.2" cy="45.8" r="0.45" fill="#222"/>
<circle cx="137.9" cy="49.0" r="0.45" fill="#222"/>
<circle cx="138.6" cy="48.0" r="0.45" fill="#222"/>
<circle cx="139.5" cy="43.7" r="0.45" fill="#222"/>
<circle cx="131.1" cy="48.8" r="0.45" fill="#222"/>
<circle cx="132.1" cy="47.6" r="0.45" fill="#222"/>
<circle cx="136.2" cy="47.4" r="0.45" fill="#222"/>
<circle cx="133.7" cy="47.4" r="0.45" fill="#222"/>
<circle cx="138.2" cy="46.4" r="0.45" fill="#222"/>
<circle cx="141.6" cy="45.1" r="0.45" fill="#222"/>
<circle cx="135.4" cy="50.0" r="0.45" fill="#222"/>
<circle cx="158.3" cy="47.8" r="0.42" fill="#888"/>
<circle cx="151.0" cy="47.3" r="0.42" fill="#888"/>
<circle cx="140.6" cy="49.0" r="0.42" fill="#888"/>
<circle cx="148.1" cy="43.3" r="0.42" fill="#888"/>
<circle cx="160.8" cy="47.9" r="0.42" fill="#888"/>
<circle cx="171.2" cy="45.9" r="0.42" fill="#888"/>
<circle cx="146.3" cy="47.2" r="0.42" fill="#888"/>
<circle cx="174.7" cy="46.6" r="0.42" fill="#888"/>
<circle cx="140.7" cy="45.8" r="0.42" fill="#888"/>
<circle cx="155.1" cy="46.3" r="0.42" fill="#888"/>
<circle cx="146.7" cy="45.6" r="0.42" fill="#888"/>
<circle cx="161.8" cy="48.0" r="0.42" fill="#888"/>
<circle cx="140.9" cy="46.5" r="0.42" fill="#888"/>
<circle cx="149.3" cy="45.0" r="0.42" fill="#888"/>
<circle cx="144.9" cy="48.1" r="0.42" fill="#888"/>
<circle cx="167.3" cy="46.9" r="0.42" fill="#888"/>
<circle cx="145.1" cy="45.2" r="0.42" fill="#888"/>
<circle cx="175.1" cy="45.9" r="0.42" fill="#888"/>
<circle cx="145.9" cy="49.6" r="0.42" fill="#888"/>
<circle cx="145.6" cy="47.1" r="0.42" fill="#888"/>
<circle cx="174.3" cy="45.7" r="0.42" fill="#888"/>
<circle cx="155.0" cy="47.4" r="0.42" fill="#888"/>
<circle cx="152.0" cy="48.0" r="0.42" fill="#888"/>
<circle cx="161.7" cy="47.8" r="0.42" fill="#888"/>
<circle cx="151.2" cy="46.7" r="0.42" fill="#888"/>
<circle cx="145.3" cy="47.8" r="0.42" fill="#888"/>
<circle cx="141.3" cy="46.9" r="0.42" fill="#888"/>
<circle cx="141.4" cy="44.5" r="0.42" fill="#888"/>
<circle cx="171.1" cy="49.0" r="0.42" fill="#888"/>
<circle cx="164.5" cy="50.5" r="0.42" fill="#888"/>
<circle cx="149.0" cy="46.9" r="0.42" fill="#888"/>
<circle cx="144.5" cy="49.3" r="0.42" fill="#888"/>
<circle cx="140.9" cy="46.0" r="0.42" fill="#888"/>
<circle cx="161.7" cy="46.0" r="0.42" fill="#888"/>
<circle cx="149.1" cy="48.0" r="0.42" fill="#888"/>
<circle cx="144.1" cy="48.2" r="0.42" fill="#888"/>
<circle cx="149.7" cy="47.0" r="0.42" fill="#888"/>
<circle cx="174.4" cy="49.8" r="0.42" fill="#888"/>
<circle cx="145.2" cy="49.7" r="0.42" fill="#888"/>
<circle cx="149.9" cy="48.2" r="0.42" fill="#888"/>
<circle cx="152.6" cy="44.5" r="0.42" fill="#888"/>
<circle cx="141.2" cy="45.6" r="0.42" fill="#888"/>
<circle cx="172.8" cy="47.2" r="0.42" fill="#888"/>
<circle cx="144.7" cy="44.9" r="0.42" fill="#888"/>
<circle cx="140.9" cy="49.4" r="0.42" fill="#888"/>
<circle cx="151.8" cy="48.0" r="0.42" fill="#888"/>
<circle cx="141.1" cy="44.6" r="0.42" fill="#888"/>
<circle cx="141.0" cy="50.1" r="0.42" fill="#888"/>
<circle cx="146.7" cy="48.3" r="0.42" fill="#888"/>
<circle cx="165.2" cy="48.1" r="0.42" fill="#888"/>
<circle cx="147.1" cy="46.2" r="0.42" fill="#888"/>
<circle cx="174.5" cy="46.1" r="0.42" fill="#888"/>
<circle cx="163.8" cy="46.2" r="0.42" fill="#888"/>
<circle cx="148.6" cy="47.0" r="0.42" fill="#888"/>
<circle cx="165.5" cy="47.1" r="0.42" fill="#888"/>
<circle cx="172.6" cy="44.6" r="0.42" fill="#888"/>
<circle cx="140.8" cy="44.3" r="0.42" fill="#888"/>
<circle cx="145.9" cy="43.3" r="0.42" fill="#888"/>
<circle cx="174.4" cy="47.6" r="0.42" fill="#888"/>
<circle cx="151.0" cy="47.0" r="0.42" fill="#888"/>
<circle cx="154.9" cy="48.6" r="0.42" fill="#888"/>
<circle cx="173.2" cy="48.1" r="0.42" fill="#888"/>
<circle cx="164.8" cy="49.5" r="0.42" fill="#888"/>
<circle cx="168.4" cy="47.3" r="0.42" fill="#888"/>
<circle cx="148.9" cy="45.0" r="0.42" fill="#888"/>
<circle cx="148.7" cy="45.3" r="0.42" fill="#888"/>
<circle cx="141.8" cy="49.0" r="0.42" fill="#888"/>
<circle cx="144.9" cy="47.0" r="0.42" fill="#888"/>
<circle cx="141.5" cy="45.9" r="0.42" fill="#888"/>
<circle cx="140.9" cy="45.7" r="0.42" fill="#888"/>
<circle cx="175.6" cy="46.6" r="0.42" fill="#888"/>
<circle cx="171.1" cy="48.2" r="0.42" fill="#888"/>
<circle cx="141.9" cy="46.9" r="0.42" fill="#888"/>
<circle cx="142.2" cy="44.6" r="0.42" fill="#888"/>
<circle cx="153.1" cy="47.0" r="0.42" fill="#888"/>
<circle cx="146.0" cy="45.2" r="0.42" fill="#888"/>
<circle cx="162.1" cy="48.0" r="0.42" fill="#888"/>
<circle cx="165.2" cy="48.3" r="0.42" fill="#888"/>
<circle cx="142.8" cy="45.2" r="0.42" fill="#888"/>
<circle cx="169.2" cy="46.5" r="0.42" fill="#888"/>
<circle cx="150.5" cy="48.9" r="0.42" fill="#888"/>
<circle cx="164.8" cy="47.4" r="0.42" fill="#888"/>
<circle cx="146.3" cy="48.1" r="0.42" fill="#888"/>
<circle cx="143.6" cy="48.5" r="0.42" fill="#888"/>
<circle cx="148.9" cy="45.7" r="0.42" fill="#888"/>
<circle cx="151.3" cy="48.8" r="0.42" fill="#888"/>
<circle cx="145.9" cy="46.9" r="0.42" fill="#888"/>
<circle cx="167.8" cy="44.4" r="0.42" fill="#888"/>
<circle cx="142.4" cy="43.2" r="0.42" fill="#888"/>
<circle cx="154.2" cy="48.2" r="0.42" fill="#888"/>
<circle cx="172.5" cy="44.4" r="0.42" fill="#888"/>
<circle cx="141.1" cy="46.8" r="0.42" fill="#888"/>
<circle cx="144.6" cy="47.7" r="0.42" fill="#888"/>
<circle cx="175.2" cy="44.0" r="0.42" fill="#888"/>
<circle cx="150.5" cy="45.3" r="0.42" fill="#888"/>
<circle cx="170.4" cy="45.9" r="0.42" fill="#888"/>
<circle cx="166.5" cy="47.4" r="0.42" fill="#888"/>
<circle cx="174.0" cy="48.6" r="0.42" fill="#888"/>
<circle cx="159.8" cy="48.2" r="0.42" fill="#888"/>
<circle cx="145.5" cy="46.4" r="0.42" fill="#888"/>
<circle cx="145.1" cy="47.6" r="0.42" fill="#888"/>
<circle cx="146.6" cy="45.2" r="0.42" fill="#888"/>
<circle cx="145.0" cy="45.7" r="0.42" fill="#888"/>
<circle cx="140.6" cy="45.9" r="0.42" fill="#888"/>
<circle cx="144.5" cy="49.0" r="0.42" fill="#888"/>
<circle cx="148.4" cy="47.8" r="0.42" fill="#888"/>
<circle cx="157.0" cy="49.6" r="0.42" fill="#888"/>
<circle cx="141.5" cy="48.2" r="0.42" fill="#888"/>
<circle cx="157.1" cy="47.9" r="0.42" fill="#888"/>
<circle cx="160.6" cy="47.8" r="0.42" fill="#888"/>
<circle cx="162.9" cy="47.5" r="0.42" fill="#888"/>
<circle cx="151.8" cy="46.7" r="0.42" fill="#888"/>
<circle cx="174.3" cy="48.3" r="0.42" fill="#888"/>
<circle cx="148.4" cy="45.7" r="0.42" fill="#888"/>
<circle cx="152.0" cy="46.4" r="0.42" fill="#888"/>
<circle cx="170.3" cy="48.4" r="0.42" fill="#888"/>
<circle cx="144.9" cy="47.0" r="0.42" fill="#888"/>
<circle cx="164.3" cy="47.0" r="0.42" fill="#888"/>
<circle cx="172.0" cy="47.2" r="0.42" fill="#888"/>
<circle cx="152.3" cy="47.7" r="0.42" fill="#888"/>
<circle cx="174.0" cy="35.1" r="0.38" fill="#999"/>
<circle cx="160.5" cy="41.0" r="0.38" fill="#999"/>
<circle cx="163.4" cy="40.6" r="0.38" fill="#999"/>
<circle cx="166.3" cy="39.0" r="0.38" fill="#999"/>
<circle cx="165.7" cy="40.0" r="0.38" fill="#999"/>
<circle cx="157.6" cy="37.7" r="0.38" fill="#999"/>
<circle cx="154.8" cy="41.5" r="0.38" fill="#999"/>
<circle cx="162.4" cy="38.6" r="0.38" fill="#999"/>
<circle cx="161.4" cy="40.1" r="0.38" fill="#999"/>
<circle cx="171.5" cy="37.1" r="0.38" fill="#999"/>
<circle cx="149.8" cy="40.6" r="0.38" fill="#999"/>
<circle cx="176.0" cy="33.7" r="0.38" fill="#999"/>
<circle cx="147.4" cy="40.4" r="0.38" fill="#999"/>
<circle cx="175.4" cy="30.0" r="0.38" fill="#999"/>
<circle cx="165.6" cy="31.8" r="0.38" fill="#999"/>
<circle cx="172.2" cy="35.0" r="0.38" fill="#999"/>
<circle cx="152.8" cy="31.2" r="0.38" fill="#999"/>
<circle cx="158.7" cy="34.1" r="0.38" fill="#999"/>
<circle cx="151.6" cy="30.8" r="0.38" fill="#999"/>
<circle cx="152.7" cy="34.8" r="0.38" fill="#999"/>
<circle cx="158.0" cy="36.6" r="0.38" fill="#999"/>
<circle cx="149.7" cy="41.4" r="0.38" fill="#999"/>
<circle cx="174.5" cy="30.4" r="0.38" fill="#999"/>
<circle cx="147.0" cy="30.7" r="0.38" fill="#999"/>
<circle cx="146.9" cy="37.1" r="0.38" fill="#999"/>
<circle cx="172.6" cy="34.6" r="0.38" fill="#999"/>
<circle cx="163.4" cy="35.2" r="0.38" fill="#999"/>
<circle cx="165.8" cy="39.1" r="0.38" fill="#999"/>
<text x="146.2" y="19.5" font-size="4.7" font-weight="normal" text-anchor="start" fill="#333" stroke="#333" stroke-width="0.04">Fas ag.ab.+</text>
<text x="146.2" y="25.2" font-size="4.7" font-weight="normal" text-anchor="start" fill="#333" stroke="#333" stroke-width="0.04">Collagen+ β1-</text>
<text x="146.2" y="30.9" font-size="4.7" font-weight="normal" text-anchor="start" fill="#333" stroke="#333" stroke-width="0.04">integrin,block-</text>
<text x="146.2" y="36.6" font-size="4.7" font-weight="normal" text-anchor="start" fill="#333" stroke="#333" stroke-width="0.04">ing Ab.</text>
<text x="177" y="39.6" font-size="4.7" font-weight="normal" text-anchor="end" fill="#333" stroke="#333" stroke-width="0.04">2.4%</text>
<text x="177.5" y="49.6" font-size="4.7" font-weight="normal" text-anchor="end" fill="#333" stroke="#333" stroke-width="0.04">18.9%</text>
<line x1="130.1" y1="51.1" x2="130.1" y2="52.6" stroke="#333" stroke-width="0.5"/>
<line x1="128.0" y1="50.5" x2="129.5" y2="50.5" stroke="#333" stroke-width="0.5"/>
<line x1="133.8" y1="51.1" x2="133.8" y2="51.9" stroke="#777" stroke-width="0.35"/>
<line x1="128.7" y1="47.8" x2="129.5" y2="47.8" stroke="#777" stroke-width="0.35"/>
<line x1="136.0" y1="51.1" x2="136.0" y2="51.9" stroke="#777" stroke-width="0.35"/>
<line x1="128.7" y1="46.3" x2="129.5" y2="46.3" stroke="#777" stroke-width="0.35"/>
<line x1="138.7" y1="51.1" x2="138.7" y2="51.9" stroke="#777" stroke-width="0.35"/>
<line x1="128.7" y1="44.3" x2="129.5" y2="44.3" stroke="#777" stroke-width="0.35"/>
<line x1="140.5" y1="51.1" x2="140.5" y2="51.9" stroke="#777" stroke-width="0.35"/>
<line x1="128.7" y1="43.0" x2="129.5" y2="43.0" stroke="#777" stroke-width="0.35"/>
<line x1="142.4" y1="51.1" x2="142.4" y2="52.6" stroke="#333" stroke-width="0.5"/>
<line x1="128.0" y1="41.6" x2="129.5" y2="41.6" stroke="#333" stroke-width="0.5"/>
<line x1="146.1" y1="51.1" x2="146.1" y2="51.9" stroke="#777" stroke-width="0.35"/>
<line x1="128.7" y1="38.9" x2="129.5" y2="38.9" stroke="#777" stroke-width="0.35"/>
<line x1="148.2" y1="51.1" x2="148.2" y2="51.9" stroke="#777" stroke-width="0.35"/>
<line x1="128.7" y1="37.4" x2="129.5" y2="37.4" stroke="#777" stroke-width="0.35"/>
<line x1="151.0" y1="51.1" x2="151.0" y2="51.9" stroke="#777" stroke-width="0.35"/>
<line x1="128.7" y1="35.4" x2="129.5" y2="35.4" stroke="#777" stroke-width="0.35"/>
<line x1="152.7" y1="51.1" x2="152.7" y2="51.9" stroke="#777" stroke-width="0.35"/>
<line x1="128.7" y1="34.1" x2="129.5" y2="34.1" stroke="#777" stroke-width="0.35"/>
<line x1="154.7" y1="51.1" x2="154.7" y2="52.6" stroke="#333" stroke-width="0.5"/>
<line x1="128.0" y1="32.7" x2="129.5" y2="32.7" stroke="#333" stroke-width="0.5"/>
<line x1="158.3" y1="51.1" x2="158.3" y2="51.9" stroke="#777" stroke-width="0.35"/>
<line x1="128.7" y1="30.0" x2="129.5" y2="30.0" stroke="#777" stroke-width="0.35"/>
<line x1="160.5" y1="51.1" x2="160.5" y2="51.9" stroke="#777" stroke-width="0.35"/>
<line x1="128.7" y1="28.5" x2="129.5" y2="28.5" stroke="#777" stroke-width="0.35"/>
<line x1="163.2" y1="51.1" x2="163.2" y2="51.9" stroke="#777" stroke-width="0.35"/>
<line x1="128.7" y1="26.5" x2="129.5" y2="26.5" stroke="#777" stroke-width="0.35"/>
<line x1="165.0" y1="51.1" x2="165.0" y2="51.9" stroke="#777" stroke-width="0.35"/>
<line x1="128.7" y1="25.2" x2="129.5" y2="25.2" stroke="#777" stroke-width="0.35"/>
<line x1="166.9" y1="51.1" x2="166.9" y2="52.6" stroke="#333" stroke-width="0.5"/>
<line x1="128.0" y1="23.8" x2="129.5" y2="23.8" stroke="#333" stroke-width="0.5"/>
<line x1="170.6" y1="51.1" x2="170.6" y2="51.9" stroke="#777" stroke-width="0.35"/>
<line x1="128.7" y1="21.1" x2="129.5" y2="21.1" stroke="#777" stroke-width="0.35"/>
<line x1="172.8" y1="51.1" x2="172.8" y2="51.9" stroke="#777" stroke-width="0.35"/>
<line x1="128.7" y1="19.6" x2="129.5" y2="19.6" stroke="#777" stroke-width="0.35"/>
<line x1="175.5" y1="51.1" x2="175.5" y2="51.9" stroke="#777" stroke-width="0.35"/>
<line x1="128.7" y1="17.6" x2="129.5" y2="17.6" stroke="#777" stroke-width="0.35"/>
<line x1="177.3" y1="51.1" x2="177.3" y2="51.9" stroke="#777" stroke-width="0.35"/>
<line x1="128.7" y1="16.3" x2="129.5" y2="16.3" stroke="#777" stroke-width="0.35"/>
<line x1="179.2" y1="51.1" x2="179.2" y2="52.6" stroke="#333" stroke-width="0.5"/>
<line x1="128.0" y1="14.9" x2="129.5" y2="14.9" stroke="#333" stroke-width="0.5"/>
<rect x="185.6" y="14.3" width="49.2" height="36.7" fill="#fff" stroke="#666" stroke-width="0.6"/>
<path d="M185.6 14.3V51.0H234.8" fill="none" stroke="#333" stroke-width="0.9"/>
<line x1="200.7" y1="14.3" x2="200.7" y2="51.0" stroke="#333" stroke-width="0.6"/>
<line x1="185.6" y1="41.6" x2="234.8" y2="41.6" stroke="#333" stroke-width="0.6"/>
<ellipse cx="198.8" cy="45.8" rx="8.4" ry="1.9" fill="#0d0d0d" transform="rotate(-4 198.8 45.8)"/>
<ellipse cx="200.8" cy="45.2" rx="5.0" ry="1.7" fill="#0d0d0d" transform="rotate(-12 198.8 45.8)"/>
<circle cx="204.8" cy="43.8" r="0.45" fill="#222"/>
<circle cx="195.4" cy="45.0" r="0.45" fill="#222"/>
<circle cx="193.0" cy="45.9" r="0.45" fill="#222"/>
<circle cx="199.2" cy="44.3" r="0.45" fill="#222"/>
<circle cx="193.8" cy="46.5" r="0.45" fill="#222"/>
<circle cx="209.4" cy="45.5" r="0.45" fill="#222"/>
<circle cx="192.0" cy="47.2" r="0.45" fill="#222"/>
<circle cx="205.2" cy="46.1" r="0.45" fill="#222"/>
<circle cx="200.8" cy="45.0" r="0.45" fill="#222"/>
<circle cx="199.8" cy="43.7" r="0.45" fill="#222"/>
<circle cx="201.6" cy="48.2" r="0.45" fill="#222"/>
<circle cx="201.2" cy="48.3" r="0.45" fill="#222"/>
<circle cx="203.8" cy="45.9" r="0.45" fill="#222"/>
<circle cx="191.5" cy="48.4" r="0.45" fill="#222"/>
<circle cx="201.0" cy="42.5" r="0.45" fill="#222"/>
<circle cx="209.6" cy="47.4" r="0.45" fill="#222"/>
<circle cx="208.3" cy="48.1" r="0.45" fill="#222"/>
<circle cx="198.5" cy="46.3" r="0.45" fill="#222"/>
<circle cx="195.1" cy="48.2" r="0.45" fill="#222"/>
<circle cx="198.2" cy="49.8" r="0.45" fill="#222"/>
<circle cx="195.1" cy="47.7" r="0.45" fill="#222"/>
<circle cx="208.3" cy="45.8" r="0.45" fill="#222"/>
<circle cx="197.6" cy="44.1" r="0.45" fill="#222"/>
<circle cx="207.4" cy="47.3" r="0.45" fill="#222"/>
<circle cx="210.0" cy="44.5" r="0.45" fill="#222"/>
<circle cx="210.3" cy="46.4" r="0.45" fill="#222"/>
<circle cx="204.7" cy="46.5" r="0.45" fill="#222"/>
<circle cx="196.7" cy="45.8" r="0.45" fill="#222"/>
<circle cx="206.2" cy="45.1" r="0.45" fill="#222"/>
<circle cx="200.3" cy="46.2" r="0.45" fill="#222"/>
<circle cx="202.3" cy="48.1" r="0.45" fill="#222"/>
<circle cx="195.1" cy="47.0" r="0.45" fill="#222"/>
<circle cx="196.4" cy="46.2" r="0.45" fill="#222"/>
<circle cx="195.5" cy="43.5" r="0.45" fill="#222"/>
<circle cx="196.9" cy="43.6" r="0.45" fill="#222"/>
<circle cx="208.5" cy="42.9" r="0.45" fill="#222"/>
<circle cx="196.0" cy="46.7" r="0.45" fill="#222"/>
<circle cx="196.9" cy="48.5" r="0.45" fill="#222"/>
<circle cx="198.2" cy="43.3" r="0.45" fill="#222"/>
<circle cx="205.7" cy="44.9" r="0.45" fill="#222"/>
<circle cx="217.8" cy="43.0" r="0.45" fill="#222"/>
<circle cx="196.0" cy="46.2" r="0.45" fill="#222"/>
<circle cx="192.1" cy="47.7" r="0.45" fill="#222"/>
<circle cx="208.3" cy="48.4" r="0.45" fill="#222"/>
<circle cx="202.2" cy="45.5" r="0.45" fill="#222"/>
<circle cx="207.9" cy="47.6" r="0.45" fill="#222"/>
<circle cx="197.9" cy="45.1" r="0.45" fill="#222"/>
<circle cx="194.1" cy="46.7" r="0.45" fill="#222"/>
<circle cx="198.9" cy="47.3" r="0.45" fill="#222"/>
<circle cx="205.6" cy="43.4" r="0.45" fill="#222"/>
<circle cx="201.9" cy="46.4" r="0.45" fill="#222"/>
<circle cx="196.7" cy="46.4" r="0.45" fill="#222"/>
<circle cx="207.8" cy="45.3" r="0.45" fill="#222"/>
<circle cx="198.8" cy="45.3" r="0.45" fill="#222"/>
<circle cx="201.1" cy="44.9" r="0.45" fill="#222"/>
<circle cx="202.1" cy="43.5" r="0.45" fill="#222"/>
<circle cx="194.6" cy="46.9" r="0.45" fill="#222"/>
<circle cx="207.1" cy="44.3" r="0.45" fill="#222"/>
<circle cx="199.4" cy="47.1" r="0.45" fill="#222"/>
<circle cx="197.0" cy="46.5" r="0.45" fill="#222"/>
<circle cx="200.9" cy="43.3" r="0.45" fill="#222"/>
<circle cx="189.0" cy="46.9" r="0.45" fill="#222"/>
<circle cx="192.5" cy="46.3" r="0.45" fill="#222"/>
<circle cx="199.6" cy="44.4" r="0.45" fill="#222"/>
<circle cx="192.2" cy="44.8" r="0.45" fill="#222"/>
<circle cx="205.8" cy="41.3" r="0.45" fill="#222"/>
<circle cx="203.9" cy="45.4" r="0.45" fill="#222"/>
<circle cx="194.0" cy="46.6" r="0.45" fill="#222"/>
<circle cx="197.5" cy="44.1" r="0.45" fill="#222"/>
<circle cx="197.5" cy="46.0" r="0.45" fill="#222"/>
<circle cx="225.5" cy="47.2" r="0.42" fill="#777"/>
<circle cx="206.1" cy="43.3" r="0.42" fill="#777"/>
<circle cx="208.1" cy="45.6" r="0.42" fill="#777"/>
<circle cx="209.3" cy="45.3" r="0.42" fill="#777"/>
<circle cx="221.2" cy="45.6" r="0.42" fill="#777"/>
<circle cx="226.6" cy="47.3" r="0.42" fill="#777"/>
<circle cx="211.7" cy="47.8" r="0.42" fill="#777"/>
<circle cx="206.5" cy="48.7" r="0.42" fill="#777"/>
<circle cx="223.5" cy="45.0" r="0.42" fill="#777"/>
<circle cx="206.0" cy="48.1" r="0.42" fill="#777"/>
<circle cx="216.0" cy="44.6" r="0.42" fill="#777"/>
<circle cx="224.3" cy="45.7" r="0.42" fill="#777"/>
<circle cx="207.4" cy="47.0" r="0.42" fill="#777"/>
<circle cx="210.0" cy="48.0" r="0.42" fill="#777"/>
<circle cx="224.6" cy="47.0" r="0.42" fill="#777"/>
<circle cx="222.8" cy="48.0" r="0.42" fill="#777"/>
<circle cx="210.8" cy="44.7" r="0.42" fill="#777"/>
<circle cx="218.5" cy="44.3" r="0.42" fill="#777"/>
<circle cx="217.6" cy="47.7" r="0.42" fill="#777"/>
<circle cx="210.8" cy="44.3" r="0.42" fill="#777"/>
<circle cx="209.7" cy="43.7" r="0.42" fill="#777"/>
<circle cx="228.9" cy="47.9" r="0.42" fill="#777"/>
<circle cx="210.1" cy="46.8" r="0.42" fill="#777"/>
<circle cx="224.4" cy="49.0" r="0.42" fill="#777"/>
<circle cx="212.3" cy="45.9" r="0.42" fill="#777"/>
<circle cx="228.9" cy="46.2" r="0.42" fill="#777"/>
<circle cx="229.8" cy="47.7" r="0.42" fill="#777"/>
<circle cx="220.8" cy="45.9" r="0.42" fill="#777"/>
<circle cx="232.3" cy="44.6" r="0.42" fill="#777"/>
<circle cx="216.1" cy="47.9" r="0.42" fill="#777"/>
<circle cx="228.1" cy="44.7" r="0.42" fill="#777"/>
<circle cx="215.2" cy="46.4" r="0.42" fill="#777"/>
<circle cx="211.8" cy="44.8" r="0.42" fill="#777"/>
<circle cx="209.6" cy="46.3" r="0.42" fill="#777"/>
<circle cx="229.9" cy="46.3" r="0.42" fill="#777"/>
<circle cx="208.2" cy="47.4" r="0.42" fill="#777"/>
<circle cx="230.5" cy="46.8" r="0.42" fill="#777"/>
<circle cx="212.8" cy="46.9" r="0.42" fill="#777"/>
<circle cx="206.4" cy="47.0" r="0.42" fill="#777"/>
<circle cx="222.7" cy="45.2" r="0.42" fill="#777"/>
<circle cx="224.2" cy="45.0" r="0.42" fill="#777"/>
<circle cx="206.8" cy="45.5" r="0.42" fill="#777"/>
<circle cx="226.8" cy="45.9" r="0.42" fill="#777"/>
<circle cx="226.8" cy="47.1" r="0.42" fill="#777"/>
<circle cx="228.5" cy="46.4" r="0.42" fill="#777"/>
<circle cx="230.0" cy="47.4" r="0.42" fill="#777"/>
<circle cx="209.5" cy="46.5" r="0.42" fill="#777"/>
<circle cx="207.6" cy="49.5" r="0.42" fill="#777"/>
<circle cx="226.6" cy="47.3" r="0.42" fill="#777"/>
<circle cx="220.9" cy="47.7" r="0.42" fill="#777"/>
<circle cx="211.3" cy="44.8" r="0.42" fill="#777"/>
<circle cx="207.4" cy="48.8" r="0.42" fill="#777"/>
<circle cx="209.4" cy="48.2" r="0.42" fill="#777"/>
<circle cx="212.1" cy="46.4" r="0.42" fill="#777"/>
<circle cx="210.6" cy="46.8" r="0.42" fill="#777"/>
<circle cx="211.2" cy="46.4" r="0.42" fill="#777"/>
<circle cx="212.2" cy="45.3" r="0.42" fill="#777"/>
<circle cx="231.7" cy="43.8" r="0.42" fill="#777"/>
<circle cx="220.5" cy="46.6" r="0.42" fill="#777"/>
<circle cx="206.3" cy="45.3" r="0.42" fill="#777"/>
<circle cx="225.3" cy="47.5" r="0.42" fill="#777"/>
<circle cx="212.8" cy="46.2" r="0.42" fill="#777"/>
<circle cx="209.7" cy="44.9" r="0.42" fill="#777"/>
<circle cx="228.3" cy="49.0" r="0.42" fill="#777"/>
<circle cx="208.7" cy="48.2" r="0.42" fill="#777"/>
<circle cx="206.0" cy="47.5" r="0.42" fill="#777"/>
<circle cx="232.2" cy="49.1" r="0.42" fill="#777"/>
<circle cx="206.0" cy="45.0" r="0.42" fill="#777"/>
<circle cx="226.1" cy="46.8" r="0.42" fill="#777"/>
<circle cx="209.0" cy="45.3" r="0.42" fill="#777"/>
<circle cx="227.3" cy="46.7" r="0.42" fill="#777"/>
<circle cx="210.7" cy="47.8" r="0.42" fill="#777"/>
<circle cx="209.7" cy="46.3" r="0.42" fill="#777"/>
<circle cx="223.0" cy="46.0" r="0.42" fill="#777"/>
<circle cx="221.0" cy="46.7" r="0.42" fill="#777"/>
<circle cx="207.0" cy="47.2" r="0.42" fill="#777"/>
<circle cx="225.8" cy="44.4" r="0.42" fill="#777"/>
<circle cx="220.7" cy="45.8" r="0.42" fill="#777"/>
<circle cx="214.1" cy="47.9" r="0.42" fill="#777"/>
<circle cx="229.2" cy="49.4" r="0.42" fill="#777"/>
<circle cx="206.2" cy="48.3" r="0.42" fill="#777"/>
<circle cx="209.5" cy="46.4" r="0.42" fill="#777"/>
<circle cx="217.0" cy="49.9" r="0.42" fill="#777"/>
<circle cx="213.7" cy="47.5" r="0.42" fill="#777"/>
<circle cx="215.9" cy="46.0" r="0.42" fill="#777"/>
<circle cx="217.9" cy="46.8" r="0.42" fill="#777"/>
<circle cx="221.3" cy="44.2" r="0.42" fill="#777"/>
<circle cx="212.9" cy="46.3" r="0.42" fill="#777"/>
<circle cx="227.6" cy="47.5" r="0.42" fill="#777"/>
<circle cx="221.8" cy="46.7" r="0.42" fill="#777"/>
<circle cx="215.3" cy="45.8" r="0.42" fill="#777"/>
<circle cx="225.3" cy="46.0" r="0.42" fill="#777"/>
<circle cx="215.9" cy="46.3" r="0.42" fill="#777"/>
<circle cx="229.0" cy="46.8" r="0.42" fill="#777"/>
<circle cx="211.7" cy="47.7" r="0.42" fill="#777"/>
<circle cx="223.1" cy="47.2" r="0.42" fill="#777"/>
<circle cx="208.4" cy="46.0" r="0.42" fill="#777"/>
<circle cx="210.4" cy="45.9" r="0.42" fill="#777"/>
<circle cx="208.5" cy="48.3" r="0.42" fill="#777"/>
<circle cx="212.3" cy="48.2" r="0.42" fill="#777"/>
<circle cx="207.4" cy="47.4" r="0.42" fill="#777"/>
<circle cx="213.8" cy="46.5" r="0.42" fill="#777"/>
<circle cx="232.4" cy="47.4" r="0.42" fill="#777"/>
<circle cx="215.1" cy="44.4" r="0.42" fill="#777"/>
<circle cx="209.2" cy="46.2" r="0.42" fill="#777"/>
<circle cx="209.5" cy="46.2" r="0.42" fill="#777"/>
<circle cx="213.9" cy="48.2" r="0.42" fill="#777"/>
<circle cx="225.9" cy="47.0" r="0.42" fill="#777"/>
<circle cx="222.8" cy="44.6" r="0.42" fill="#777"/>
<circle cx="215.9" cy="46.7" r="0.42" fill="#777"/>
<circle cx="208.1" cy="45.5" r="0.42" fill="#777"/>
<circle cx="224.3" cy="45.8" r="0.42" fill="#777"/>
<circle cx="229.8" cy="44.9" r="0.42" fill="#777"/>
<circle cx="224.5" cy="47.5" r="0.42" fill="#777"/>
<circle cx="214.8" cy="47.0" r="0.42" fill="#777"/>
<circle cx="228.9" cy="49.1" r="0.42" fill="#777"/>
<circle cx="225.4" cy="45.8" r="0.42" fill="#777"/>
<circle cx="222.3" cy="43.9" r="0.42" fill="#777"/>
<circle cx="221.2" cy="45.5" r="0.42" fill="#777"/>
<circle cx="215.3" cy="46.8" r="0.5" fill="#222"/>
<circle cx="207.5" cy="44.5" r="0.5" fill="#222"/>
<circle cx="216.6" cy="47.6" r="0.5" fill="#222"/>
<circle cx="215.3" cy="46.5" r="0.5" fill="#222"/>
<circle cx="212.8" cy="47.9" r="0.5" fill="#222"/>
<circle cx="215.2" cy="44.9" r="0.5" fill="#222"/>
<circle cx="219.8" cy="47.6" r="0.5" fill="#222"/>
<circle cx="208.7" cy="45.2" r="0.5" fill="#222"/>
<circle cx="211.8" cy="44.6" r="0.5" fill="#222"/>
<circle cx="213.3" cy="46.9" r="0.5" fill="#222"/>
<circle cx="214.1" cy="46.4" r="0.5" fill="#222"/>
<circle cx="208.4" cy="47.1" r="0.5" fill="#222"/>
<circle cx="213.7" cy="43.5" r="0.5" fill="#222"/>
<circle cx="207.5" cy="45.1" r="0.5" fill="#222"/>
<circle cx="216.7" cy="45.8" r="0.5" fill="#222"/>
<circle cx="213.6" cy="44.9" r="0.5" fill="#222"/>
<circle cx="213.7" cy="44.6" r="0.5" fill="#222"/>
<circle cx="212.1" cy="47.3" r="0.5" fill="#222"/>
<circle cx="216.2" cy="46.2" r="0.5" fill="#222"/>
<circle cx="211.8" cy="46.6" r="0.5" fill="#222"/>
<circle cx="220.6" cy="45.8" r="0.5" fill="#222"/>
<circle cx="211.3" cy="47.5" r="0.5" fill="#222"/>
<circle cx="211.9" cy="46.9" r="0.5" fill="#222"/>
<circle cx="206.2" cy="45.3" r="0.5" fill="#222"/>
<circle cx="216.4" cy="47.2" r="0.5" fill="#222"/>
<circle cx="211.2" cy="46.4" r="0.5" fill="#222"/>
<circle cx="217.0" cy="47.4" r="0.5" fill="#222"/>
<circle cx="220.0" cy="45.6" r="0.5" fill="#222"/>
<circle cx="217.9" cy="46.3" r="0.5" fill="#222"/>
<circle cx="211.8" cy="46.7" r="0.5" fill="#222"/>
<circle cx="217.5" cy="47.2" r="0.5" fill="#222"/>
<circle cx="218.0" cy="45.5" r="0.5" fill="#222"/>
<circle cx="214.3" cy="45.4" r="0.5" fill="#222"/>
<circle cx="209.4" cy="47.7" r="0.5" fill="#222"/>
<circle cx="215.5" cy="46.2" r="0.5" fill="#222"/>
<circle cx="218.2" cy="47.1" r="0.5" fill="#222"/>
<circle cx="210.4" cy="45.2" r="0.5" fill="#222"/>
<circle cx="214.1" cy="48.2" r="0.5" fill="#222"/>
<circle cx="211.3" cy="48.2" r="0.5" fill="#222"/>
<circle cx="218.6" cy="46.4" r="0.5" fill="#222"/>
<circle cx="209.8" cy="47.8" r="0.5" fill="#222"/>
<circle cx="212.3" cy="46.5" r="0.5" fill="#222"/>
<circle cx="216.7" cy="46.6" r="0.5" fill="#222"/>
<circle cx="210.2" cy="46.5" r="0.5" fill="#222"/>
<circle cx="213.1" cy="47.6" r="0.5" fill="#222"/>
<circle cx="215.0" cy="35.4" r="0.38" fill="#808080"/>
<circle cx="213.0" cy="34.4" r="0.38" fill="#808080"/>
<circle cx="230.6" cy="39.8" r="0.38" fill="#808080"/>
<circle cx="227.4" cy="39.5" r="0.38" fill="#808080"/>
<circle cx="229.9" cy="40.4" r="0.38" fill="#808080"/>
<circle cx="227.6" cy="37.9" r="0.38" fill="#808080"/>
<circle cx="221.4" cy="40.2" r="0.38" fill="#808080"/>
<circle cx="231.3" cy="41.0" r="0.38" fill="#808080"/>
<circle cx="222.1" cy="41.1" r="0.38" fill="#808080"/>
<circle cx="206.1" cy="38.3" r="0.38" fill="#808080"/>
<circle cx="209.0" cy="40.2" r="0.38" fill="#808080"/>
<circle cx="206.4" cy="35.6" r="0.38" fill="#808080"/>
<circle cx="229.8" cy="40.2" r="0.38" fill="#808080"/>
<circle cx="229.4" cy="37.6" r="0.38" fill="#808080"/>
<circle cx="220.6" cy="39.4" r="0.38" fill="#808080"/>
<circle cx="229.5" cy="32.4" r="0.38" fill="#808080"/>
<circle cx="226.2" cy="39.0" r="0.38" fill="#808080"/>
<circle cx="223.2" cy="37.7" r="0.38" fill="#808080"/>
<circle cx="218.2" cy="40.8" r="0.38" fill="#808080"/>
<circle cx="229.2" cy="34.7" r="0.38" fill="#808080"/>
<circle cx="219.0" cy="40.7" r="0.38" fill="#808080"/>
<circle cx="206.0" cy="36.7" r="0.38" fill="#808080"/>
<circle cx="217.0" cy="34.8" r="0.38" fill="#808080"/>
<circle cx="206.2" cy="38.7" r="0.38" fill="#808080"/>
<circle cx="217.0" cy="33.6" r="0.38" fill="#808080"/>
<circle cx="228.5" cy="41.0" r="0.38" fill="#808080"/>
<circle cx="201.9" cy="37.5" r="0.38" fill="#808080"/>
<circle cx="219.2" cy="35.4" r="0.38" fill="#808080"/>
<circle cx="222.4" cy="38.0" r="0.38" fill="#808080"/>
<circle cx="214.7" cy="36.2" r="0.38" fill="#808080"/>
<circle cx="231.6" cy="33.5" r="0.38" fill="#808080"/>
<circle cx="221.5" cy="37.2" r="0.38" fill="#808080"/>
<circle cx="202.6" cy="34.1" r="0.38" fill="#808080"/>
<circle cx="230.7" cy="35.3" r="0.38" fill="#808080"/>
<circle cx="212.0" cy="34.0" r="0.38" fill="#808080"/>
<circle cx="216.8" cy="40.3" r="0.38" fill="#808080"/>
<circle cx="229.6" cy="31.8" r="0.38" fill="#808080"/>
<circle cx="221.1" cy="39.1" r="0.38" fill="#808080"/>
<circle cx="212.2" cy="37.4" r="0.38" fill="#808080"/>
<circle cx="216.5" cy="36.7" r="0.38" fill="#808080"/>
<circle cx="218.0" cy="40.6" r="0.38" fill="#808080"/>
<circle cx="215.2" cy="37.0" r="0.38" fill="#808080"/>
<circle cx="214.8" cy="30.5" r="0.38" fill="#808080"/>
<circle cx="210.8" cy="37.4" r="0.38" fill="#808080"/>
<circle cx="227.4" cy="35.3" r="0.38" fill="#808080"/>
<circle cx="210.1" cy="37.1" r="0.38" fill="#808080"/>
<circle cx="217.4" cy="32.5" r="0.38" fill="#808080"/>
<circle cx="226.3" cy="39.7" r="0.38" fill="#808080"/>
<circle cx="212.0" cy="39.0" r="0.38" fill="#808080"/>
<circle cx="219.9" cy="36.5" r="0.38" fill="#808080"/>
<circle cx="221.4" cy="40.7" r="0.38" fill="#808080"/>
<circle cx="224.2" cy="39.4" r="0.38" fill="#808080"/>
<circle cx="229.2" cy="39.3" r="0.38" fill="#808080"/>
<circle cx="211.0" cy="40.6" r="0.38" fill="#808080"/>
<circle cx="201.9" cy="36.1" r="0.38" fill="#808080"/>
<circle cx="220.6" cy="28.5" r="0.38" fill="#808080"/>
<circle cx="222.2" cy="37.9" r="0.38" fill="#808080"/>
<circle cx="220.7" cy="28.3" r="0.38" fill="#808080"/>
<circle cx="220.9" cy="34.6" r="0.38" fill="#808080"/>
<circle cx="220.2" cy="34.5" r="0.38" fill="#808080"/>
<circle cx="222.9" cy="39.0" r="0.38" fill="#808080"/>
<circle cx="215.9" cy="32.4" r="0.38" fill="#808080"/>
<circle cx="225.4" cy="38.0" r="0.38" fill="#808080"/>
<circle cx="202.9" cy="38.8" r="0.38" fill="#808080"/>
<circle cx="225.8" cy="33.6" r="0.38" fill="#808080"/>
<circle cx="213.2" cy="36.6" r="0.38" fill="#808080"/>
<circle cx="227.3" cy="39.3" r="0.38" fill="#808080"/>
<circle cx="209.7" cy="33.6" r="0.38" fill="#808080"/>
<circle cx="211.1" cy="36.5" r="0.38" fill="#808080"/>
<circle cx="215.1" cy="38.6" r="0.38" fill="#808080"/>
<circle cx="221.7" cy="39.3" r="0.38" fill="#808080"/>
<circle cx="219.3" cy="40.3" r="0.38" fill="#808080"/>
<circle cx="202.9" cy="33.1" r="0.38" fill="#808080"/>
<circle cx="219.6" cy="33.7" r="0.38" fill="#808080"/>
<circle cx="230.3" cy="40.1" r="0.38" fill="#808080"/>
<circle cx="213.7" cy="40.8" r="0.38" fill="#808080"/>
<circle cx="220.1" cy="25.5" r="0.38" fill="#808080"/>
<circle cx="216.5" cy="34.7" r="0.38" fill="#808080"/>
<circle cx="214.5" cy="34.2" r="0.38" fill="#808080"/>
<circle cx="208.3" cy="35.9" r="0.38" fill="#808080"/>
<circle cx="206.4" cy="40.5" r="0.38" fill="#808080"/>
<circle cx="223.0" cy="41.0" r="0.38" fill="#808080"/>
<circle cx="205.5" cy="38.6" r="0.38" fill="#808080"/>
<circle cx="228.7" cy="40.6" r="0.38" fill="#808080"/>
<circle cx="205.7" cy="31.6" r="0.38" fill="#808080"/>
<circle cx="209.2" cy="40.0" r="0.38" fill="#808080"/>
<circle cx="224.5" cy="40.4" r="0.38" fill="#808080"/>
<circle cx="225.8" cy="39.3" r="0.38" fill="#808080"/>
<circle cx="223.9" cy="35.1" r="0.38" fill="#808080"/>
<circle cx="204.3" cy="33.4" r="0.38" fill="#808080"/>
<circle cx="221.3" cy="39.4" r="0.38" fill="#808080"/>
<circle cx="230.7" cy="34.7" r="0.38" fill="#808080"/>
<circle cx="209.6" cy="31.8" r="0.38" fill="#808080"/>
<circle cx="202.1" cy="39.0" r="0.38" fill="#808080"/>
<circle cx="202.2" cy="34.6" r="0.38" fill="#808080"/>
<text x="208.7" y="19.2" font-size="4.7" font-weight="normal" text-anchor="start" fill="#333" stroke="#333" stroke-width="0.04">Fas ag.ab.+</text>
<text x="208.7" y="24.8" font-size="4.7" font-weight="normal" text-anchor="start" fill="#333" stroke="#333" stroke-width="0.04">Control IgM</text>
<text x="233.8" y="39.2" font-size="4.7" font-weight="normal" text-anchor="end" fill="#333" stroke="#333" stroke-width="0.04">9.2%</text>
<text x="233.8" y="49.8" font-size="4.7" font-weight="normal" text-anchor="end" fill="#333" stroke="#333" stroke-width="0.04">35.6%</text>
<line x1="186.2" y1="51.0" x2="186.2" y2="52.5" stroke="#333" stroke-width="0.5"/>
<line x1="184.1" y1="50.4" x2="185.6" y2="50.4" stroke="#333" stroke-width="0.5"/>
<line x1="189.8" y1="51.0" x2="189.8" y2="51.8" stroke="#777" stroke-width="0.35"/>
<line x1="184.79999999999998" y1="47.7" x2="185.6" y2="47.7" stroke="#777" stroke-width="0.35"/>
<line x1="191.9" y1="51.0" x2="191.9" y2="51.8" stroke="#777" stroke-width="0.35"/>
<line x1="184.79999999999998" y1="46.2" x2="185.6" y2="46.2" stroke="#777" stroke-width="0.35"/>
<line x1="194.6" y1="51.0" x2="194.6" y2="51.8" stroke="#777" stroke-width="0.35"/>
<line x1="184.79999999999998" y1="44.2" x2="185.6" y2="44.2" stroke="#777" stroke-width="0.35"/>
<line x1="196.3" y1="51.0" x2="196.3" y2="51.8" stroke="#777" stroke-width="0.35"/>
<line x1="184.79999999999998" y1="42.9" x2="185.6" y2="42.9" stroke="#777" stroke-width="0.35"/>
<line x1="198.2" y1="51.0" x2="198.2" y2="52.5" stroke="#333" stroke-width="0.5"/>
<line x1="184.1" y1="41.5" x2="185.6" y2="41.5" stroke="#333" stroke-width="0.5"/>
<line x1="201.8" y1="51.0" x2="201.8" y2="51.8" stroke="#777" stroke-width="0.35"/>
<line x1="184.79999999999998" y1="38.9" x2="185.6" y2="38.9" stroke="#777" stroke-width="0.35"/>
<line x1="203.9" y1="51.0" x2="203.9" y2="51.8" stroke="#777" stroke-width="0.35"/>
<line x1="184.79999999999998" y1="37.3" x2="185.6" y2="37.3" stroke="#777" stroke-width="0.35"/>
<line x1="206.6" y1="51.0" x2="206.6" y2="51.8" stroke="#777" stroke-width="0.35"/>
<line x1="184.79999999999998" y1="35.3" x2="185.6" y2="35.3" stroke="#777" stroke-width="0.35"/>
<line x1="208.3" y1="51.0" x2="208.3" y2="51.8" stroke="#777" stroke-width="0.35"/>
<line x1="184.79999999999998" y1="34.0" x2="185.6" y2="34.0" stroke="#777" stroke-width="0.35"/>
<line x1="210.2" y1="51.0" x2="210.2" y2="52.5" stroke="#333" stroke-width="0.5"/>
<line x1="184.1" y1="32.6" x2="185.6" y2="32.6" stroke="#333" stroke-width="0.5"/>
<line x1="213.8" y1="51.0" x2="213.8" y2="51.8" stroke="#777" stroke-width="0.35"/>
<line x1="184.79999999999998" y1="30.0" x2="185.6" y2="30.0" stroke="#777" stroke-width="0.35"/>
<line x1="215.9" y1="51.0" x2="215.9" y2="51.8" stroke="#777" stroke-width="0.35"/>
<line x1="184.79999999999998" y1="28.4" x2="185.6" y2="28.4" stroke="#777" stroke-width="0.35"/>
<line x1="218.6" y1="51.0" x2="218.6" y2="51.8" stroke="#777" stroke-width="0.35"/>
<line x1="184.79999999999998" y1="26.4" x2="185.6" y2="26.4" stroke="#777" stroke-width="0.35"/>
<line x1="220.3" y1="51.0" x2="220.3" y2="51.8" stroke="#777" stroke-width="0.35"/>
<line x1="184.79999999999998" y1="25.1" x2="185.6" y2="25.1" stroke="#777" stroke-width="0.35"/>
<line x1="222.2" y1="51.0" x2="222.2" y2="52.5" stroke="#333" stroke-width="0.5"/>
<line x1="184.1" y1="23.8" x2="185.6" y2="23.8" stroke="#333" stroke-width="0.5"/>
<line x1="225.8" y1="51.0" x2="225.8" y2="51.8" stroke="#777" stroke-width="0.35"/>
<line x1="184.79999999999998" y1="21.1" x2="185.6" y2="21.1" stroke="#777" stroke-width="0.35"/>
<line x1="227.9" y1="51.0" x2="227.9" y2="51.8" stroke="#777" stroke-width="0.35"/>
<line x1="184.79999999999998" y1="19.5" x2="185.6" y2="19.5" stroke="#777" stroke-width="0.35"/>
<line x1="230.6" y1="51.0" x2="230.6" y2="51.8" stroke="#777" stroke-width="0.35"/>
<line x1="184.79999999999998" y1="17.6" x2="185.6" y2="17.6" stroke="#777" stroke-width="0.35"/>
<line x1="232.3" y1="51.0" x2="232.3" y2="51.8" stroke="#777" stroke-width="0.35"/>
<line x1="184.79999999999998" y1="16.3" x2="185.6" y2="16.3" stroke="#777" stroke-width="0.35"/>
<line x1="234.2" y1="51.0" x2="234.2" y2="52.5" stroke="#333" stroke-width="0.5"/>
<line x1="184.1" y1="14.9" x2="185.6" y2="14.9" stroke="#333" stroke-width="0.5"/>
<rect x="239.9" y="14.3" width="48.5" height="36.7" fill="#fff" stroke="#666" stroke-width="0.6"/>
<path d="M239.9 14.3V51.0H288.4" fill="none" stroke="#333" stroke-width="0.9"/>
<line x1="253.9" y1="14.3" x2="253.9" y2="51.0" stroke="#333" stroke-width="0.6"/>
<line x1="239.9" y1="42.0" x2="288.4" y2="42.0" stroke="#333" stroke-width="0.6"/>
<ellipse cx="245.8" cy="46.8" rx="3.9" ry="2.6" fill="#0d0d0d" transform="rotate(-16 245.8 46.8)"/>
<ellipse cx="246.8" cy="46.0" rx="2.4" ry="2.4" fill="#0d0d0d" transform="rotate(-24 245.8 46.8)"/>
<circle cx="242.1" cy="49.8" r="0.45" fill="#222"/>
<circle cx="247.0" cy="46.3" r="0.45" fill="#222"/>
<circle cx="244.7" cy="49.1" r="0.45" fill="#222"/>
<circle cx="244.0" cy="49.7" r="0.45" fill="#222"/>
<circle cx="246.2" cy="44.2" r="0.45" fill="#222"/>
<circle cx="244.3" cy="46.6" r="0.45" fill="#222"/>
<circle cx="244.6" cy="47.9" r="0.45" fill="#222"/>
<circle cx="242.7" cy="45.5" r="0.45" fill="#222"/>
<circle cx="242.1" cy="45.6" r="0.45" fill="#222"/>
<circle cx="247.6" cy="47.7" r="0.45" fill="#222"/>
<circle cx="242.2" cy="47.6" r="0.45" fill="#222"/>
<circle cx="247.9" cy="50.2" r="0.45" fill="#222"/>
<circle cx="245.4" cy="48.0" r="0.45" fill="#222"/>
<circle cx="242.1" cy="42.3" r="0.45" fill="#222"/>
<circle cx="241.5" cy="49.8" r="0.45" fill="#222"/>
<circle cx="242.2" cy="46.8" r="0.45" fill="#222"/>
<circle cx="249.2" cy="47.8" r="0.45" fill="#222"/>
<circle cx="243.7" cy="46.0" r="0.45" fill="#222"/>
<circle cx="242.7" cy="47.7" r="0.45" fill="#222"/>
<circle cx="246.0" cy="46.5" r="0.45" fill="#222"/>
<circle cx="247.7" cy="42.2" r="0.45" fill="#222"/>
<circle cx="243.3" cy="48.1" r="0.45" fill="#222"/>
<circle cx="245.9" cy="49.1" r="0.45" fill="#222"/>
<circle cx="242.0" cy="50.2" r="0.45" fill="#222"/>
<circle cx="242.9" cy="46.9" r="0.45" fill="#222"/>
<circle cx="251.7" cy="46.5" r="0.45" fill="#222"/>
<circle cx="242.4" cy="49.8" r="0.45" fill="#222"/>
<circle cx="245.3" cy="49.8" r="0.45" fill="#222"/>
<circle cx="247.8" cy="46.7" r="0.45" fill="#222"/>
<circle cx="244.0" cy="47.3" r="0.45" fill="#222"/>
<circle cx="249.4" cy="44.5" r="0.45" fill="#222"/>
<circle cx="243.1" cy="48.1" r="0.45" fill="#222"/>
<circle cx="247.9" cy="46.2" r="0.45" fill="#222"/>
<circle cx="240.6" cy="47.2" r="0.45" fill="#222"/>
<circle cx="246.6" cy="48.1" r="0.45" fill="#222"/>
<circle cx="241.4" cy="48.4" r="0.45" fill="#222"/>
<circle cx="250.7" cy="49.7" r="0.45" fill="#222"/>
<circle cx="241.5" cy="45.1" r="0.45" fill="#222"/>
<circle cx="245.0" cy="45.6" r="0.45" fill="#222"/>
<circle cx="245.0" cy="47.6" r="0.45" fill="#222"/>
<circle cx="247.3" cy="45.6" r="0.45" fill="#222"/>
<circle cx="242.6" cy="45.3" r="0.45" fill="#222"/>
<circle cx="244.3" cy="45.8" r="0.45" fill="#222"/>
<circle cx="248.3" cy="45.2" r="0.45" fill="#222"/>
<circle cx="246.0" cy="43.7" r="0.45" fill="#222"/>
<circle cx="242.7" cy="49.7" r="0.45" fill="#222"/>
<circle cx="248.6" cy="44.3" r="0.45" fill="#222"/>
<circle cx="248.9" cy="46.6" r="0.45" fill="#222"/>
<circle cx="244.6" cy="43.8" r="0.45" fill="#222"/>
<circle cx="246.1" cy="46.4" r="0.45" fill="#222"/>
<circle cx="249.3" cy="40.2" r="0.45" fill="#222"/>
<circle cx="249.1" cy="46.4" r="0.45" fill="#222"/>
<circle cx="241.2" cy="50.1" r="0.45" fill="#222"/>
<circle cx="245.8" cy="48.5" r="0.45" fill="#222"/>
<circle cx="246.4" cy="47.1" r="0.45" fill="#222"/>
<circle cx="247.8" cy="49.4" r="0.45" fill="#222"/>
<circle cx="247.5" cy="48.3" r="0.45" fill="#222"/>
<circle cx="244.7" cy="50.4" r="0.45" fill="#222"/>
<circle cx="247.1" cy="45.4" r="0.45" fill="#222"/>
<circle cx="247.2" cy="48.3" r="0.45" fill="#222"/>
<circle cx="244.4" cy="43.8" r="0.45" fill="#222"/>
<circle cx="244.1" cy="45.1" r="0.45" fill="#222"/>
<circle cx="248.7" cy="49.6" r="0.45" fill="#222"/>
<circle cx="284.3" cy="50.2" r="0.42" fill="#888"/>
<circle cx="253.8" cy="48.0" r="0.42" fill="#888"/>
<circle cx="258.0" cy="47.2" r="0.42" fill="#888"/>
<circle cx="280.2" cy="49.3" r="0.42" fill="#888"/>
<circle cx="249.4" cy="45.3" r="0.42" fill="#888"/>
<circle cx="275.0" cy="46.4" r="0.42" fill="#888"/>
<circle cx="284.0" cy="44.8" r="0.42" fill="#888"/>
<circle cx="249.5" cy="48.4" r="0.42" fill="#888"/>
<circle cx="281.9" cy="48.9" r="0.42" fill="#888"/>
<circle cx="270.4" cy="46.3" r="0.42" fill="#888"/>
<circle cx="273.8" cy="48.8" r="0.42" fill="#888"/>
<circle cx="250.6" cy="46.4" r="0.42" fill="#888"/>
<circle cx="251.1" cy="47.9" r="0.42" fill="#888"/>
<circle cx="262.6" cy="47.4" r="0.42" fill="#888"/>
<circle cx="251.6" cy="47.9" r="0.42" fill="#888"/>
<circle cx="270.4" cy="49.3" r="0.42" fill="#888"/>
<circle cx="253.0" cy="47.1" r="0.42" fill="#888"/>
<circle cx="249.2" cy="47.9" r="0.42" fill="#888"/>
<circle cx="281.6" cy="46.4" r="0.42" fill="#888"/>
<circle cx="278.6" cy="47.5" r="0.42" fill="#888"/>
<circle cx="261.3" cy="46.4" r="0.42" fill="#888"/>
<circle cx="250.4" cy="49.5" r="0.42" fill="#888"/>
<circle cx="268.4" cy="45.7" r="0.42" fill="#888"/>
<circle cx="261.5" cy="45.4" r="0.42" fill="#888"/>
<circle cx="262.5" cy="49.3" r="0.42" fill="#888"/>
<circle cx="268.4" cy="47.6" r="0.42" fill="#888"/>
<circle cx="249.6" cy="47.7" r="0.42" fill="#888"/>
<circle cx="271.9" cy="46.1" r="0.42" fill="#888"/>
<circle cx="278.8" cy="46.6" r="0.42" fill="#888"/>
<circle cx="255.1" cy="46.2" r="0.42" fill="#888"/>
<circle cx="255.3" cy="47.4" r="0.42" fill="#888"/>
<circle cx="277.4" cy="46.4" r="0.42" fill="#888"/>
<circle cx="263.0" cy="47.7" r="0.42" fill="#888"/>
<circle cx="256.8" cy="47.5" r="0.42" fill="#888"/>
<circle cx="283.7" cy="46.5" r="0.42" fill="#888"/>
<circle cx="249.6" cy="48.7" r="0.42" fill="#888"/>
<circle cx="253.5" cy="45.5" r="0.42" fill="#888"/>
<circle cx="262.5" cy="46.6" r="0.42" fill="#888"/>
<circle cx="253.2" cy="48.0" r="0.42" fill="#888"/>
<circle cx="281.2" cy="46.6" r="0.42" fill="#888"/>
<circle cx="250.4" cy="46.1" r="0.42" fill="#888"/>
<circle cx="249.6" cy="50.0" r="0.42" fill="#888"/>
<circle cx="272.5" cy="45.8" r="0.42" fill="#888"/>
<circle cx="275.9" cy="46.5" r="0.42" fill="#888"/>
<circle cx="248.7" cy="47.6" r="0.42" fill="#888"/>
<circle cx="277.1" cy="46.0" r="0.42" fill="#888"/>
<circle cx="260.9" cy="46.7" r="0.42" fill="#888"/>
<circle cx="280.6" cy="47.3" r="0.42" fill="#888"/>
<circle cx="251.4" cy="48.8" r="0.42" fill="#888"/>
<circle cx="252.6" cy="47.2" r="0.42" fill="#888"/>
<circle cx="253.0" cy="44.6" r="0.42" fill="#888"/>
<circle cx="250.0" cy="48.7" r="0.42" fill="#888"/>
<circle cx="263.1" cy="48.0" r="0.42" fill="#888"/>
<circle cx="255.4" cy="47.5" r="0.42" fill="#888"/>
<circle cx="271.7" cy="48.9" r="0.42" fill="#888"/>
<circle cx="276.1" cy="46.0" r="0.42" fill="#888"/>
<circle cx="249.7" cy="46.4" r="0.42" fill="#888"/>
<circle cx="272.7" cy="44.9" r="0.42" fill="#888"/>
<circle cx="249.5" cy="48.2" r="0.42" fill="#888"/>
<circle cx="276.1" cy="45.4" r="0.42" fill="#888"/>
<circle cx="278.5" cy="49.4" r="0.42" fill="#888"/>
<circle cx="263.1" cy="50.2" r="0.42" fill="#888"/>
<circle cx="262.4" cy="47.2" r="0.42" fill="#888"/>
<circle cx="278.8" cy="46.8" r="0.42" fill="#888"/>
<circle cx="277.0" cy="47.9" r="0.42" fill="#888"/>
<circle cx="258.5" cy="47.6" r="0.42" fill="#888"/>
<circle cx="267.0" cy="48.1" r="0.42" fill="#888"/>
<circle cx="248.7" cy="45.3" r="0.42" fill="#888"/>
<circle cx="263.9" cy="46.7" r="0.42" fill="#888"/>
<circle cx="251.0" cy="46.3" r="0.42" fill="#888"/>
<circle cx="278.5" cy="44.2" r="0.42" fill="#888"/>
<circle cx="256.9" cy="46.5" r="0.42" fill="#888"/>
<circle cx="273.5" cy="45.5" r="0.42" fill="#888"/>
<circle cx="249.7" cy="49.5" r="0.42" fill="#888"/>
<circle cx="263.1" cy="44.2" r="0.42" fill="#888"/>
<circle cx="263.8" cy="45.1" r="0.42" fill="#888"/>
<circle cx="248.9" cy="46.5" r="0.42" fill="#888"/>
<circle cx="283.2" cy="47.1" r="0.42" fill="#888"/>
<circle cx="250.6" cy="47.8" r="0.42" fill="#888"/>
<circle cx="254.7" cy="47.1" r="0.42" fill="#888"/>
<circle cx="250.4" cy="46.6" r="0.42" fill="#888"/>
<circle cx="271.3" cy="47.0" r="0.42" fill="#888"/>
<circle cx="267.2" cy="47.2" r="0.42" fill="#888"/>
<circle cx="266.3" cy="44.6" r="0.42" fill="#888"/>
<circle cx="250.6" cy="46.6" r="0.42" fill="#888"/>
<circle cx="278.7" cy="46.8" r="0.42" fill="#888"/>
<circle cx="251.1" cy="46.5" r="0.42" fill="#888"/>
<circle cx="263.1" cy="45.7" r="0.42" fill="#888"/>
<circle cx="251.0" cy="46.9" r="0.42" fill="#888"/>
<circle cx="259.8" cy="48.2" r="0.42" fill="#888"/>
<circle cx="278.3" cy="48.4" r="0.42" fill="#888"/>
<circle cx="251.7" cy="44.7" r="0.42" fill="#888"/>
<circle cx="252.1" cy="45.8" r="0.42" fill="#888"/>
<circle cx="276.8" cy="48.3" r="0.42" fill="#888"/>
<circle cx="260.4" cy="46.3" r="0.42" fill="#888"/>
<circle cx="277.4" cy="45.4" r="0.42" fill="#888"/>
<circle cx="282.0" cy="46.7" r="0.42" fill="#888"/>
<circle cx="274.6" cy="46.3" r="0.42" fill="#888"/>
<circle cx="257.4" cy="47.8" r="0.42" fill="#888"/>
<circle cx="260.9" cy="49.6" r="0.42" fill="#888"/>
<circle cx="280.7" cy="46.6" r="0.42" fill="#888"/>
<circle cx="276.3" cy="47.2" r="0.42" fill="#888"/>
<circle cx="264.0" cy="46.5" r="0.42" fill="#888"/>
<circle cx="282.7" cy="47.9" r="0.42" fill="#888"/>
<circle cx="260.4" cy="46.4" r="0.42" fill="#888"/>
<circle cx="268.6" cy="45.7" r="0.42" fill="#888"/>
<circle cx="249.8" cy="48.3" r="0.42" fill="#888"/>
<circle cx="260.8" cy="46.6" r="0.42" fill="#888"/>
<circle cx="259.3" cy="41.5" r="0.38" fill="#999"/>
<circle cx="285.4" cy="38.8" r="0.38" fill="#999"/>
<circle cx="274.8" cy="25.3" r="0.38" fill="#999"/>
<circle cx="280.4" cy="30.6" r="0.38" fill="#999"/>
<circle cx="256.0" cy="31.8" r="0.38" fill="#999"/>
<circle cx="275.1" cy="40.5" r="0.38" fill="#999"/>
<circle cx="263.5" cy="31.0" r="0.38" fill="#999"/>
<circle cx="272.0" cy="32.8" r="0.38" fill="#999"/>
<circle cx="262.8" cy="37.0" r="0.38" fill="#999"/>
<circle cx="271.3" cy="25.8" r="0.38" fill="#999"/>
<circle cx="264.0" cy="34.5" r="0.38" fill="#999"/>
<circle cx="264.5" cy="39.4" r="0.38" fill="#999"/>
<circle cx="273.6" cy="38.7" r="0.38" fill="#999"/>
<circle cx="285.0" cy="36.0" r="0.38" fill="#999"/>
<circle cx="269.6" cy="41.0" r="0.38" fill="#999"/>
<circle cx="271.7" cy="39.4" r="0.38" fill="#999"/>
<circle cx="259.0" cy="38.6" r="0.38" fill="#999"/>
<circle cx="264.1" cy="36.7" r="0.38" fill="#999"/>
<circle cx="262.6" cy="38.3" r="0.38" fill="#999"/>
<circle cx="257.7" cy="28.7" r="0.38" fill="#999"/>
<circle cx="274.1" cy="37.7" r="0.38" fill="#999"/>
<circle cx="272.9" cy="38.8" r="0.38" fill="#999"/>
<circle cx="277.3" cy="37.7" r="0.38" fill="#999"/>
<circle cx="269.4" cy="32.3" r="0.38" fill="#999"/>
<circle cx="269.7" cy="38.6" r="0.38" fill="#999"/>
<text x="257.4" y="20.3" font-size="4.7" font-weight="normal" text-anchor="start" fill="#333" stroke="#333" stroke-width="0.04">Fas ag.ab.+</text>
<text x="257.4" y="26.1" font-size="4.7" font-weight="normal" text-anchor="start" fill="#333" stroke="#333" stroke-width="0.04">Collagen+</text>
<text x="257.4" y="32.0" font-size="4.7" font-weight="normal" text-anchor="start" fill="#333" stroke="#333" stroke-width="0.04">Control protein</text>
<text x="287.4" y="39.6" font-size="4.7" font-weight="normal" text-anchor="end" fill="#333" stroke="#333" stroke-width="0.04">2.9%</text>
<text x="287.6" y="49.8" font-size="4.7" font-weight="normal" text-anchor="end" fill="#333" stroke="#333" stroke-width="0.04">17.3%</text>
<line x1="240.5" y1="51.0" x2="240.5" y2="52.5" stroke="#333" stroke-width="0.5"/>
<line x1="238.4" y1="50.4" x2="239.9" y2="50.4" stroke="#333" stroke-width="0.5"/>
<line x1="244.1" y1="51.0" x2="244.1" y2="51.8" stroke="#777" stroke-width="0.35"/>
<line x1="239.1" y1="47.7" x2="239.9" y2="47.7" stroke="#777" stroke-width="0.35"/>
<line x1="246.1" y1="51.0" x2="246.1" y2="51.8" stroke="#777" stroke-width="0.35"/>
<line x1="239.1" y1="46.2" x2="239.9" y2="46.2" stroke="#777" stroke-width="0.35"/>
<line x1="248.8" y1="51.0" x2="248.8" y2="51.8" stroke="#777" stroke-width="0.35"/>
<line x1="239.1" y1="44.2" x2="239.9" y2="44.2" stroke="#777" stroke-width="0.35"/>
<line x1="250.5" y1="51.0" x2="250.5" y2="51.8" stroke="#777" stroke-width="0.35"/>
<line x1="239.1" y1="42.9" x2="239.9" y2="42.9" stroke="#777" stroke-width="0.35"/>
<text x="240.9" y="55.6" font-size="2.7" text-anchor="middle" fill="#666">10<tspan dy="-1.1" font-size="1.9">0</tspan></text>
<line x1="252.3" y1="51.0" x2="252.3" y2="52.5" stroke="#333" stroke-width="0.5"/>
<line x1="238.4" y1="41.5" x2="239.9" y2="41.5" stroke="#333" stroke-width="0.5"/>
<line x1="255.9" y1="51.0" x2="255.9" y2="51.8" stroke="#777" stroke-width="0.35"/>
<line x1="239.1" y1="38.9" x2="239.9" y2="38.9" stroke="#777" stroke-width="0.35"/>
<line x1="258.0" y1="51.0" x2="258.0" y2="51.8" stroke="#777" stroke-width="0.35"/>
<line x1="239.1" y1="37.3" x2="239.9" y2="37.3" stroke="#777" stroke-width="0.35"/>
<line x1="260.6" y1="51.0" x2="260.6" y2="51.8" stroke="#777" stroke-width="0.35"/>
<line x1="239.1" y1="35.3" x2="239.9" y2="35.3" stroke="#777" stroke-width="0.35"/>
<line x1="262.3" y1="51.0" x2="262.3" y2="51.8" stroke="#777" stroke-width="0.35"/>
<line x1="239.1" y1="34.0" x2="239.9" y2="34.0" stroke="#777" stroke-width="0.35"/>
<text x="252.7" y="55.6" font-size="2.7" text-anchor="middle" fill="#666">10<tspan dy="-1.1" font-size="1.9">1</tspan></text>
<line x1="264.1" y1="51.0" x2="264.1" y2="52.5" stroke="#333" stroke-width="0.5"/>
<line x1="238.4" y1="32.6" x2="239.9" y2="32.6" stroke="#333" stroke-width="0.5"/>
<line x1="267.7" y1="51.0" x2="267.7" y2="51.8" stroke="#777" stroke-width="0.35"/>
<line x1="239.1" y1="30.0" x2="239.9" y2="30.0" stroke="#777" stroke-width="0.35"/>
<line x1="269.8" y1="51.0" x2="269.8" y2="51.8" stroke="#777" stroke-width="0.35"/>
<line x1="239.1" y1="28.4" x2="239.9" y2="28.4" stroke="#777" stroke-width="0.35"/>
<line x1="272.4" y1="51.0" x2="272.4" y2="51.8" stroke="#777" stroke-width="0.35"/>
<line x1="239.1" y1="26.4" x2="239.9" y2="26.4" stroke="#777" stroke-width="0.35"/>
<line x1="274.1" y1="51.0" x2="274.1" y2="51.8" stroke="#777" stroke-width="0.35"/>
<line x1="239.1" y1="25.1" x2="239.9" y2="25.1" stroke="#777" stroke-width="0.35"/>
<text x="264.5" y="55.6" font-size="2.7" text-anchor="middle" fill="#666">10<tspan dy="-1.1" font-size="1.9">2</tspan></text>
<line x1="276.0" y1="51.0" x2="276.0" y2="52.5" stroke="#333" stroke-width="0.5"/>
<line x1="238.4" y1="23.8" x2="239.9" y2="23.8" stroke="#333" stroke-width="0.5"/>
<line x1="279.5" y1="51.0" x2="279.5" y2="51.8" stroke="#777" stroke-width="0.35"/>
<line x1="239.1" y1="21.1" x2="239.9" y2="21.1" stroke="#777" stroke-width="0.35"/>
<line x1="281.6" y1="51.0" x2="281.6" y2="51.8" stroke="#777" stroke-width="0.35"/>
<line x1="239.1" y1="19.5" x2="239.9" y2="19.5" stroke="#777" stroke-width="0.35"/>
<line x1="284.2" y1="51.0" x2="284.2" y2="51.8" stroke="#777" stroke-width="0.35"/>
<line x1="239.1" y1="17.6" x2="239.9" y2="17.6" stroke="#777" stroke-width="0.35"/>
<line x1="286.0" y1="51.0" x2="286.0" y2="51.8" stroke="#777" stroke-width="0.35"/>
<line x1="239.1" y1="16.3" x2="239.9" y2="16.3" stroke="#777" stroke-width="0.35"/>
<text x="276.4" y="55.6" font-size="2.7" text-anchor="middle" fill="#666">10<tspan dy="-1.1" font-size="1.9">3</tspan></text>
<line x1="287.8" y1="51.0" x2="287.8" y2="52.5" stroke="#333" stroke-width="0.5"/>
<line x1="238.4" y1="14.9" x2="239.9" y2="14.9" stroke="#333" stroke-width="0.5"/>
<text x="288.2" y="55.6" font-size="2.7" text-anchor="middle" fill="#666">10<tspan dy="-1.1" font-size="1.9">4</tspan></text>
<text x="264.1" y="60.6" font-size="2.8" font-weight="normal" text-anchor="middle" fill="#444" >FL1-H</text>
<rect x="20.5" y="56.5" width="50.7" height="37.0" fill="#fff" stroke="#666" stroke-width="0.6"/>
<path d="M20.5 56.5V93.5H71.2" fill="none" stroke="#333" stroke-width="0.9"/>
<line x1="35.4" y1="56.5" x2="35.4" y2="93.5" stroke="#333" stroke-width="0.6"/>
<line x1="20.5" y1="84.2" x2="71.2" y2="84.2" stroke="#333" stroke-width="0.6"/>
<ellipse cx="32.5" cy="88.1" rx="8.7" ry="1.8" fill="#0d0d0d" transform="rotate(-3 32.5 88.1)"/>
<ellipse cx="34.6" cy="87.5" rx="5.2" ry="1.6" fill="#0d0d0d" transform="rotate(-11 32.5 88.1)"/>
<circle cx="30.8" cy="89.4" r="0.45" fill="#222"/>
<circle cx="34.0" cy="90.0" r="0.45" fill="#222"/>
<circle cx="26.2" cy="89.9" r="0.45" fill="#222"/>
<circle cx="38.5" cy="87.9" r="0.45" fill="#222"/>
<circle cx="35.5" cy="87.0" r="0.45" fill="#222"/>
<circle cx="25.4" cy="87.8" r="0.45" fill="#222"/>
<circle cx="29.5" cy="91.1" r="0.45" fill="#222"/>
<circle cx="33.8" cy="88.6" r="0.45" fill="#222"/>
<circle cx="37.3" cy="86.5" r="0.45" fill="#222"/>
<circle cx="38.5" cy="88.4" r="0.45" fill="#222"/>
<circle cx="22.7" cy="89.6" r="0.45" fill="#222"/>
<circle cx="36.1" cy="88.7" r="0.45" fill="#222"/>
<circle cx="42.8" cy="86.9" r="0.45" fill="#222"/>
<circle cx="35.9" cy="89.2" r="0.45" fill="#222"/>
<circle cx="26.8" cy="90.4" r="0.45" fill="#222"/>
<circle cx="23.0" cy="86.4" r="0.45" fill="#222"/>
<circle cx="35.8" cy="86.1" r="0.45" fill="#222"/>
<circle cx="31.6" cy="85.3" r="0.45" fill="#222"/>
<circle cx="32.8" cy="86.1" r="0.45" fill="#222"/>
<circle cx="34.6" cy="85.4" r="0.45" fill="#222"/>
<circle cx="35.4" cy="87.5" r="0.45" fill="#222"/>
<circle cx="32.9" cy="88.0" r="0.45" fill="#222"/>
<circle cx="33.2" cy="85.8" r="0.45" fill="#222"/>
<circle cx="26.4" cy="87.6" r="0.45" fill="#222"/>
<circle cx="35.1" cy="84.6" r="0.45" fill="#222"/>
<circle cx="27.5" cy="87.3" r="0.45" fill="#222"/>
<circle cx="25.7" cy="89.0" r="0.45" fill="#222"/>
<circle cx="31.5" cy="86.8" r="0.45" fill="#222"/>
<circle cx="26.2" cy="89.8" r="0.45" fill="#222"/>
<circle cx="28.3" cy="89.3" r="0.45" fill="#222"/>
<circle cx="35.2" cy="84.7" r="0.45" fill="#222"/>
<circle cx="25.5" cy="88.5" r="0.45" fill="#222"/>
<circle cx="34.8" cy="89.3" r="0.45" fill="#222"/>
<circle cx="37.8" cy="89.6" r="0.45" fill="#222"/>
<circle cx="30.1" cy="87.9" r="0.45" fill="#222"/>
<circle cx="37.5" cy="87.1" r="0.45" fill="#222"/>
<circle cx="39.2" cy="85.0" r="0.45" fill="#222"/>
<circle cx="36.7" cy="87.6" r="0.45" fill="#222"/>
<circle cx="34.5" cy="88.0" r="0.45" fill="#222"/>
<circle cx="25.5" cy="87.7" r="0.45" fill="#222"/>
<circle cx="42.2" cy="86.2" r="0.45" fill="#222"/>
<circle cx="24.7" cy="88.3" r="0.45" fill="#222"/>
<circle cx="29.9" cy="86.7" r="0.45" fill="#222"/>
<circle cx="27.1" cy="90.2" r="0.45" fill="#222"/>
<circle cx="23.3" cy="91.9" r="0.45" fill="#222"/>
<circle cx="28.9" cy="86.4" r="0.45" fill="#222"/>
<circle cx="37.7" cy="88.8" r="0.45" fill="#222"/>
<circle cx="25.8" cy="89.7" r="0.45" fill="#222"/>
<circle cx="39.8" cy="87.3" r="0.45" fill="#222"/>
<circle cx="24.1" cy="89.4" r="0.45" fill="#222"/>
<circle cx="38.5" cy="87.8" r="0.45" fill="#222"/>
<circle cx="35.3" cy="89.3" r="0.45" fill="#222"/>
<circle cx="44.5" cy="87.0" r="0.45" fill="#222"/>
<circle cx="29.4" cy="88.2" r="0.45" fill="#222"/>
<circle cx="40.2" cy="86.1" r="0.45" fill="#222"/>
<circle cx="40.7" cy="83.0" r="0.45" fill="#222"/>
<circle cx="37.6" cy="86.7" r="0.45" fill="#222"/>
<circle cx="35.5" cy="89.1" r="0.45" fill="#222"/>
<circle cx="24.8" cy="88.4" r="0.45" fill="#222"/>
<circle cx="34.1" cy="89.0" r="0.45" fill="#222"/>
<circle cx="26.4" cy="86.7" r="0.45" fill="#222"/>
<circle cx="31.2" cy="87.8" r="0.45" fill="#222"/>
<circle cx="22.9" cy="90.2" r="0.45" fill="#222"/>
<circle cx="46.2" cy="89.2" r="0.42" fill="#777"/>
<circle cx="46.2" cy="89.1" r="0.42" fill="#777"/>
<circle cx="63.2" cy="87.3" r="0.42" fill="#777"/>
<circle cx="43.5" cy="88.1" r="0.42" fill="#777"/>
<circle cx="51.7" cy="88.1" r="0.42" fill="#777"/>
<circle cx="56.5" cy="88.9" r="0.42" fill="#777"/>
<circle cx="52.8" cy="91.2" r="0.42" fill="#777"/>
<circle cx="49.1" cy="89.2" r="0.42" fill="#777"/>
<circle cx="41.9" cy="90.6" r="0.42" fill="#777"/>
<circle cx="41.6" cy="91.4" r="0.42" fill="#777"/>
<circle cx="41.5" cy="90.1" r="0.42" fill="#777"/>
<circle cx="62.5" cy="90.9" r="0.42" fill="#777"/>
<circle cx="55.3" cy="89.4" r="0.42" fill="#777"/>
<circle cx="40.1" cy="88.7" r="0.42" fill="#777"/>
<circle cx="60.7" cy="88.2" r="0.42" fill="#777"/>
<circle cx="47.5" cy="91.4" r="0.42" fill="#777"/>
<circle cx="42.9" cy="89.2" r="0.42" fill="#777"/>
<circle cx="65.4" cy="89.9" r="0.42" fill="#777"/>
<circle cx="54.4" cy="88.3" r="0.42" fill="#777"/>
<circle cx="48.4" cy="90.6" r="0.42" fill="#777"/>
<circle cx="40.7" cy="90.8" r="0.42" fill="#777"/>
<circle cx="67.5" cy="88.0" r="0.42" fill="#777"/>
<circle cx="50.0" cy="88.4" r="0.42" fill="#777"/>
<circle cx="40.5" cy="88.5" r="0.42" fill="#777"/>
<circle cx="66.4" cy="90.0" r="0.42" fill="#777"/>
<circle cx="65.2" cy="88.2" r="0.42" fill="#777"/>
<circle cx="62.3" cy="88.6" r="0.42" fill="#777"/>
<circle cx="67.5" cy="91.2" r="0.42" fill="#777"/>
<circle cx="51.6" cy="90.3" r="0.42" fill="#777"/>
<circle cx="48.5" cy="88.9" r="0.42" fill="#777"/>
<circle cx="58.9" cy="89.5" r="0.42" fill="#777"/>
<circle cx="64.4" cy="90.5" r="0.42" fill="#777"/>
<circle cx="51.3" cy="89.5" r="0.42" fill="#777"/>
<circle cx="43.0" cy="88.2" r="0.42" fill="#777"/>
<circle cx="47.6" cy="90.8" r="0.42" fill="#777"/>
<circle cx="53.7" cy="90.6" r="0.42" fill="#777"/>
<circle cx="48.4" cy="90.5" r="0.42" fill="#777"/>
<circle cx="48.9" cy="90.0" r="0.42" fill="#777"/>
<circle cx="62.6" cy="89.6" r="0.42" fill="#777"/>
<circle cx="47.4" cy="89.3" r="0.42" fill="#777"/>
<circle cx="45.6" cy="90.2" r="0.42" fill="#777"/>
<circle cx="44.5" cy="91.4" r="0.42" fill="#777"/>
<circle cx="47.2" cy="89.7" r="0.42" fill="#777"/>
<circle cx="42.6" cy="89.1" r="0.42" fill="#777"/>
<circle cx="45.3" cy="88.6" r="0.42" fill="#777"/>
<circle cx="62.9" cy="90.4" r="0.42" fill="#777"/>
<circle cx="63.0" cy="90.4" r="0.42" fill="#777"/>
<circle cx="61.9" cy="90.0" r="0.42" fill="#777"/>
<circle cx="59.0" cy="90.4" r="0.42" fill="#777"/>
<circle cx="48.2" cy="90.2" r="0.42" fill="#777"/>
<circle cx="67.2" cy="89.0" r="0.42" fill="#777"/>
<circle cx="51.9" cy="89.5" r="0.42" fill="#777"/>
<circle cx="42.1" cy="90.9" r="0.42" fill="#777"/>
<circle cx="58.5" cy="89.0" r="0.42" fill="#777"/>
<circle cx="54.5" cy="92.5" r="0.42" fill="#777"/>
<circle cx="47.9" cy="89.3" r="0.42" fill="#777"/>
<circle cx="43.9" cy="91.3" r="0.42" fill="#777"/>
<circle cx="64.3" cy="90.5" r="0.42" fill="#777"/>
<circle cx="53.1" cy="90.5" r="0.42" fill="#777"/>
<circle cx="45.3" cy="89.5" r="0.42" fill="#777"/>
<circle cx="56.8" cy="87.8" r="0.42" fill="#777"/>
<circle cx="53.9" cy="88.7" r="0.42" fill="#777"/>
<circle cx="41.2" cy="90.6" r="0.42" fill="#777"/>
<circle cx="43.1" cy="90.0" r="0.42" fill="#777"/>
<circle cx="57.0" cy="88.2" r="0.42" fill="#777"/>
<circle cx="41.6" cy="87.9" r="0.42" fill="#777"/>
<circle cx="51.8" cy="88.7" r="0.42" fill="#777"/>
<circle cx="46.0" cy="90.4" r="0.42" fill="#777"/>
<circle cx="44.2" cy="89.8" r="0.42" fill="#777"/>
<circle cx="42.0" cy="89.0" r="0.42" fill="#777"/>
<circle cx="48.9" cy="88.1" r="0.42" fill="#777"/>
<circle cx="65.6" cy="89.7" r="0.42" fill="#777"/>
<circle cx="63.9" cy="86.2" r="0.42" fill="#777"/>
<circle cx="42.1" cy="89.2" r="0.42" fill="#777"/>
<circle cx="57.6" cy="89.6" r="0.42" fill="#777"/>
<circle cx="57.0" cy="88.3" r="0.42" fill="#777"/>
<circle cx="56.9" cy="90.5" r="0.42" fill="#777"/>
<circle cx="58.2" cy="89.3" r="0.42" fill="#777"/>
<circle cx="47.5" cy="92.2" r="0.42" fill="#777"/>
<circle cx="55.9" cy="89.6" r="0.42" fill="#777"/>
<circle cx="65.8" cy="89.9" r="0.42" fill="#777"/>
<circle cx="59.4" cy="89.1" r="0.42" fill="#777"/>
<circle cx="40.4" cy="88.8" r="0.42" fill="#777"/>
<circle cx="42.7" cy="89.7" r="0.42" fill="#777"/>
<circle cx="48.3" cy="90.5" r="0.42" fill="#777"/>
<circle cx="40.4" cy="88.5" r="0.42" fill="#777"/>
<circle cx="43.1" cy="91.2" r="0.42" fill="#777"/>
<circle cx="63.1" cy="87.1" r="0.42" fill="#777"/>
<circle cx="44.9" cy="88.2" r="0.42" fill="#777"/>
<circle cx="49.8" cy="88.7" r="0.42" fill="#777"/>
<circle cx="40.0" cy="88.0" r="0.42" fill="#777"/>
<circle cx="62.9" cy="89.5" r="0.42" fill="#777"/>
<circle cx="40.5" cy="88.0" r="0.42" fill="#777"/>
<circle cx="63.6" cy="88.9" r="0.42" fill="#777"/>
<circle cx="44.6" cy="89.0" r="0.42" fill="#777"/>
<circle cx="41.7" cy="89.5" r="0.42" fill="#777"/>
<circle cx="65.8" cy="88.3" r="0.42" fill="#777"/>
<circle cx="59.9" cy="91.2" r="0.42" fill="#777"/>
<circle cx="48.6" cy="90.4" r="0.42" fill="#777"/>
<circle cx="59.9" cy="89.8" r="0.42" fill="#777"/>
<circle cx="41.3" cy="88.2" r="0.42" fill="#777"/>
<circle cx="67.0" cy="86.2" r="0.42" fill="#777"/>
<circle cx="58.0" cy="90.8" r="0.42" fill="#777"/>
<circle cx="59.6" cy="90.3" r="0.42" fill="#777"/>
<circle cx="50.4" cy="87.4" r="0.42" fill="#777"/>
<circle cx="40.7" cy="88.7" r="0.42" fill="#777"/>
<circle cx="52.1" cy="87.7" r="0.42" fill="#777"/>
<circle cx="66.3" cy="91.0" r="0.42" fill="#777"/>
<circle cx="40.5" cy="91.1" r="0.42" fill="#777"/>
<circle cx="58.3" cy="89.7" r="0.42" fill="#777"/>
<circle cx="53.2" cy="88.2" r="0.42" fill="#777"/>
<circle cx="67.9" cy="88.0" r="0.42" fill="#777"/>
<circle cx="44.8" cy="87.8" r="0.42" fill="#777"/>
<circle cx="40.7" cy="88.3" r="0.42" fill="#777"/>
<circle cx="43.6" cy="90.5" r="0.42" fill="#777"/>
<circle cx="46.3" cy="90.8" r="0.42" fill="#777"/>
<circle cx="57.2" cy="91.0" r="0.42" fill="#777"/>
<circle cx="44.5" cy="89.3" r="0.42" fill="#777"/>
<circle cx="50.1" cy="91.1" r="0.42" fill="#777"/>
<circle cx="66.6" cy="88.5" r="0.42" fill="#777"/>
<circle cx="64.7" cy="90.3" r="0.42" fill="#777"/>
<circle cx="42.3" cy="88.0" r="0.42" fill="#777"/>
<circle cx="62.2" cy="88.7" r="0.42" fill="#777"/>
<circle cx="53.3" cy="89.3" r="0.42" fill="#777"/>
<circle cx="57.1" cy="88.3" r="0.42" fill="#777"/>
<circle cx="54.9" cy="86.8" r="0.42" fill="#777"/>
<circle cx="62.8" cy="89.9" r="0.42" fill="#777"/>
<circle cx="41.7" cy="88.9" r="0.42" fill="#777"/>
<circle cx="43.7" cy="90.6" r="0.42" fill="#777"/>
<circle cx="41.0" cy="88.9" r="0.5" fill="#222"/>
<circle cx="51.2" cy="89.9" r="0.5" fill="#222"/>
<circle cx="47.1" cy="89.9" r="0.5" fill="#222"/>
<circle cx="47.5" cy="89.8" r="0.5" fill="#222"/>
<circle cx="45.8" cy="89.3" r="0.5" fill="#222"/>
<circle cx="40.2" cy="89.5" r="0.5" fill="#222"/>
<circle cx="55.8" cy="89.1" r="0.5" fill="#222"/>
<circle cx="51.4" cy="88.5" r="0.5" fill="#222"/>
<circle cx="55.6" cy="88.5" r="0.5" fill="#222"/>
<circle cx="47.8" cy="88.8" r="0.5" fill="#222"/>
<circle cx="46.9" cy="89.7" r="0.5" fill="#222"/>
<circle cx="40.1" cy="90.6" r="0.5" fill="#222"/>
<circle cx="54.7" cy="87.9" r="0.5" fill="#222"/>
<circle cx="54.9" cy="87.6" r="0.5" fill="#222"/>
<circle cx="50.4" cy="89.0" r="0.5" fill="#222"/>
<circle cx="42.2" cy="90.0" r="0.5" fill="#222"/>
<circle cx="40.4" cy="89.4" r="0.5" fill="#222"/>
<circle cx="44.7" cy="86.6" r="0.5" fill="#222"/>
<circle cx="43.0" cy="87.4" r="0.5" fill="#222"/>
<circle cx="54.8" cy="87.1" r="0.5" fill="#222"/>
<circle cx="42.7" cy="89.6" r="0.5" fill="#222"/>
<circle cx="51.8" cy="86.7" r="0.5" fill="#222"/>
<circle cx="45.2" cy="90.0" r="0.5" fill="#222"/>
<circle cx="45.1" cy="91.3" r="0.5" fill="#222"/>
<circle cx="45.9" cy="87.9" r="0.5" fill="#222"/>
<circle cx="53.3" cy="88.7" r="0.5" fill="#222"/>
<circle cx="43.8" cy="90.7" r="0.5" fill="#222"/>
<circle cx="50.0" cy="89.5" r="0.5" fill="#222"/>
<circle cx="53.1" cy="88.3" r="0.5" fill="#222"/>
<circle cx="55.1" cy="86.3" r="0.5" fill="#222"/>
<circle cx="47.9" cy="88.3" r="0.5" fill="#222"/>
<circle cx="44.8" cy="89.1" r="0.5" fill="#222"/>
<circle cx="49.3" cy="90.8" r="0.5" fill="#222"/>
<circle cx="42.6" cy="90.0" r="0.5" fill="#222"/>
<circle cx="47.1" cy="89.6" r="0.5" fill="#222"/>
<circle cx="40.6" cy="88.9" r="0.5" fill="#222"/>
<circle cx="47.0" cy="89.8" r="0.5" fill="#222"/>
<circle cx="40.0" cy="91.0" r="0.5" fill="#222"/>
<circle cx="53.4" cy="90.5" r="0.5" fill="#222"/>
<circle cx="46.8" cy="87.2" r="0.5" fill="#222"/>
<circle cx="44.5" cy="88.2" r="0.5" fill="#222"/>
<circle cx="46.7" cy="87.7" r="0.5" fill="#222"/>
<circle cx="45.4" cy="87.3" r="0.5" fill="#222"/>
<circle cx="53.2" cy="89.8" r="0.5" fill="#222"/>
<circle cx="54.4" cy="89.6" r="0.5" fill="#222"/>
<circle cx="47.1" cy="90.0" r="0.5" fill="#222"/>
<circle cx="49.0" cy="88.6" r="0.5" fill="#222"/>
<circle cx="41.4" cy="89.7" r="0.5" fill="#222"/>
<circle cx="45.2" cy="85.7" r="0.5" fill="#222"/>
<circle cx="54.5" cy="89.9" r="0.5" fill="#222"/>
<circle cx="64.8" cy="66.0" r="0.38" fill="#808080"/>
<circle cx="56.7" cy="80.8" r="0.38" fill="#808080"/>
<circle cx="63.0" cy="73.9" r="0.38" fill="#808080"/>
<circle cx="56.4" cy="79.8" r="0.38" fill="#808080"/>
<circle cx="46.1" cy="68.1" r="0.38" fill="#808080"/>
<circle cx="52.2" cy="76.2" r="0.38" fill="#808080"/>
<circle cx="57.6" cy="81.7" r="0.38" fill="#808080"/>
<circle cx="65.4" cy="77.6" r="0.38" fill="#808080"/>
<circle cx="37.3" cy="79.7" r="0.38" fill="#808080"/>
<circle cx="51.1" cy="73.9" r="0.38" fill="#808080"/>
<circle cx="39.2" cy="80.1" r="0.38" fill="#808080"/>
<circle cx="55.4" cy="78.0" r="0.38" fill="#808080"/>
<circle cx="50.1" cy="74.8" r="0.38" fill="#808080"/>
<circle cx="49.4" cy="82.0" r="0.38" fill="#808080"/>
<circle cx="40.1" cy="77.5" r="0.38" fill="#808080"/>
<circle cx="54.4" cy="70.4" r="0.38" fill="#808080"/>
<circle cx="40.1" cy="80.2" r="0.38" fill="#808080"/>
<circle cx="39.5" cy="79.6" r="0.38" fill="#808080"/>
<circle cx="53.8" cy="83.6" r="0.38" fill="#808080"/>
<circle cx="54.6" cy="75.6" r="0.38" fill="#808080"/>
<circle cx="43.8" cy="80.6" r="0.38" fill="#808080"/>
<circle cx="53.2" cy="82.2" r="0.38" fill="#808080"/>
<circle cx="55.7" cy="77.4" r="0.38" fill="#808080"/>
<circle cx="38.8" cy="80.2" r="0.38" fill="#808080"/>
<circle cx="50.8" cy="77.9" r="0.38" fill="#808080"/>
<circle cx="59.8" cy="77.0" r="0.38" fill="#808080"/>
<circle cx="61.2" cy="67.6" r="0.38" fill="#808080"/>
<circle cx="60.1" cy="69.6" r="0.38" fill="#808080"/>
<circle cx="39.7" cy="80.3" r="0.38" fill="#808080"/>
<circle cx="42.0" cy="77.6" r="0.38" fill="#808080"/>
<circle cx="67.9" cy="72.5" r="0.38" fill="#808080"/>
<circle cx="40.9" cy="79.0" r="0.38" fill="#808080"/>
<circle cx="61.9" cy="78.9" r="0.38" fill="#808080"/>
<circle cx="48.6" cy="81.9" r="0.38" fill="#808080"/>
<circle cx="36.9" cy="79.7" r="0.38" fill="#808080"/>
<circle cx="46.2" cy="81.0" r="0.38" fill="#808080"/>
<circle cx="59.6" cy="70.6" r="0.38" fill="#808080"/>
<circle cx="56.8" cy="77.1" r="0.38" fill="#808080"/>
<circle cx="65.0" cy="69.3" r="0.38" fill="#808080"/>
<circle cx="65.0" cy="77.7" r="0.38" fill="#808080"/>
<circle cx="41.9" cy="83.5" r="0.38" fill="#808080"/>
<circle cx="61.4" cy="77.3" r="0.38" fill="#808080"/>
<circle cx="58.7" cy="82.1" r="0.38" fill="#808080"/>
<circle cx="48.6" cy="80.5" r="0.38" fill="#808080"/>
<circle cx="60.6" cy="73.1" r="0.38" fill="#808080"/>
<circle cx="37.8" cy="80.1" r="0.38" fill="#808080"/>
<circle cx="56.2" cy="76.5" r="0.38" fill="#808080"/>
<circle cx="62.7" cy="78.5" r="0.38" fill="#808080"/>
<circle cx="40.1" cy="74.3" r="0.38" fill="#808080"/>
<circle cx="44.8" cy="79.0" r="0.38" fill="#808080"/>
<circle cx="42.7" cy="71.1" r="0.38" fill="#808080"/>
<circle cx="55.5" cy="79.3" r="0.38" fill="#808080"/>
<circle cx="40.1" cy="80.3" r="0.38" fill="#808080"/>
<circle cx="62.7" cy="83.3" r="0.38" fill="#808080"/>
<circle cx="42.5" cy="78.2" r="0.38" fill="#808080"/>
<circle cx="58.9" cy="81.8" r="0.38" fill="#808080"/>
<circle cx="48.9" cy="74.9" r="0.38" fill="#808080"/>
<circle cx="54.1" cy="72.5" r="0.38" fill="#808080"/>
<circle cx="59.0" cy="77.6" r="0.38" fill="#808080"/>
<circle cx="36.9" cy="67.8" r="0.38" fill="#808080"/>
<circle cx="47.6" cy="78.9" r="0.38" fill="#808080"/>
<circle cx="65.0" cy="77.0" r="0.38" fill="#808080"/>
<circle cx="62.7" cy="79.4" r="0.38" fill="#808080"/>
<circle cx="63.2" cy="82.7" r="0.38" fill="#808080"/>
<circle cx="58.7" cy="77.5" r="0.38" fill="#808080"/>
<circle cx="41.6" cy="78.7" r="0.38" fill="#808080"/>
<circle cx="64.1" cy="72.6" r="0.38" fill="#808080"/>
<circle cx="56.4" cy="74.9" r="0.38" fill="#808080"/>
<circle cx="38.9" cy="81.4" r="0.38" fill="#808080"/>
<circle cx="65.7" cy="79.4" r="0.38" fill="#808080"/>
<circle cx="55.7" cy="79.6" r="0.38" fill="#808080"/>
<circle cx="48.2" cy="82.5" r="0.38" fill="#808080"/>
<circle cx="51.7" cy="77.6" r="0.38" fill="#808080"/>
<circle cx="48.0" cy="80.5" r="0.38" fill="#808080"/>
<circle cx="36.6" cy="78.2" r="0.38" fill="#808080"/>
<circle cx="37.1" cy="80.7" r="0.38" fill="#808080"/>
<circle cx="51.5" cy="81.6" r="0.38" fill="#808080"/>
<circle cx="41.2" cy="83.5" r="0.38" fill="#808080"/>
<circle cx="58.4" cy="82.9" r="0.38" fill="#808080"/>
<circle cx="52.8" cy="78.2" r="0.38" fill="#808080"/>
<circle cx="45.0" cy="75.9" r="0.38" fill="#808080"/>
<circle cx="67.8" cy="80.1" r="0.38" fill="#808080"/>
<circle cx="68.9" cy="74.9" r="0.38" fill="#808080"/>
<circle cx="61.7" cy="81.8" r="0.38" fill="#808080"/>
<circle cx="65.0" cy="82.2" r="0.38" fill="#808080"/>
<circle cx="57.2" cy="73.9" r="0.38" fill="#808080"/>
<circle cx="48.3" cy="81.2" r="0.38" fill="#808080"/>
<circle cx="65.0" cy="71.5" r="0.38" fill="#808080"/>
<circle cx="67.2" cy="81.2" r="0.38" fill="#808080"/>
<circle cx="61.4" cy="78.3" r="0.38" fill="#808080"/>
<circle cx="60.7" cy="73.8" r="0.38" fill="#808080"/>
<circle cx="47.9" cy="83.1" r="0.38" fill="#808080"/>
<circle cx="54.5" cy="81.6" r="0.38" fill="#808080"/>
<circle cx="47.5" cy="82.3" r="0.38" fill="#808080"/>
<circle cx="47.0" cy="75.7" r="0.38" fill="#808080"/>
<circle cx="48.4" cy="83.1" r="0.38" fill="#808080"/>
<circle cx="44.4" cy="83.1" r="0.38" fill="#808080"/>
<circle cx="40.8" cy="77.2" r="0.38" fill="#808080"/>
<circle cx="36.6" cy="78.4" r="0.38" fill="#808080"/>
<circle cx="51.0" cy="78.1" r="0.38" fill="#808080"/>
<circle cx="55.1" cy="82.3" r="0.38" fill="#808080"/>
<circle cx="38.6" cy="79.7" r="0.38" fill="#808080"/>
<circle cx="46.3" cy="79.6" r="0.38" fill="#808080"/>
<circle cx="54.5" cy="73.2" r="0.38" fill="#808080"/>
<circle cx="67.1" cy="75.2" r="0.38" fill="#808080"/>
<circle cx="55.5" cy="70.4" r="0.38" fill="#808080"/>
<circle cx="39.0" cy="79.7" r="0.38" fill="#808080"/>
<circle cx="68.8" cy="75.4" r="0.38" fill="#808080"/>
<circle cx="48.1" cy="82.6" r="0.38" fill="#808080"/>
<circle cx="64.9" cy="76.4" r="0.38" fill="#808080"/>
<circle cx="38.6" cy="68.8" r="0.38" fill="#808080"/>
<circle cx="45.4" cy="82.2" r="0.38" fill="#808080"/>
<circle cx="44.8" cy="79.5" r="0.38" fill="#808080"/>
<circle cx="45.2" cy="83.1" r="0.38" fill="#808080"/>
<circle cx="59.5" cy="82.3" r="0.38" fill="#808080"/>
<circle cx="43.0" cy="76.8" r="0.38" fill="#808080"/>
<circle cx="56.2" cy="77.1" r="0.38" fill="#808080"/>
<circle cx="42.9" cy="76.1" r="0.38" fill="#808080"/>
<circle cx="60.5" cy="74.5" r="0.38" fill="#808080"/>
<circle cx="39.0" cy="81.5" r="0.38" fill="#808080"/>
<text x="41.5" y="62.3" font-size="4.7" font-weight="normal" text-anchor="start" fill="#333" stroke="#333" stroke-width="0.04">Fas ag.ab.</text>
<text x="67.6" y="79.4" font-size="4.7" font-weight="normal" text-anchor="end" fill="#333" stroke="#333" stroke-width="0.04">8.0%</text>
<text x="68" y="92.0" font-size="4.7" font-weight="normal" text-anchor="end" fill="#333" stroke="#333" stroke-width="0.04">34.2%</text>
<line x1="21.1" y1="93.5" x2="21.1" y2="95.0" stroke="#333" stroke-width="0.5"/>
<line x1="19.0" y1="92.9" x2="20.5" y2="92.9" stroke="#333" stroke-width="0.5"/>
<line x1="24.8" y1="93.5" x2="24.8" y2="94.3" stroke="#777" stroke-width="0.35"/>
<line x1="19.7" y1="90.2" x2="20.5" y2="90.2" stroke="#777" stroke-width="0.35"/>
<line x1="27.0" y1="93.5" x2="27.0" y2="94.3" stroke="#777" stroke-width="0.35"/>
<line x1="19.7" y1="88.6" x2="20.5" y2="88.6" stroke="#777" stroke-width="0.35"/>
<line x1="29.7" y1="93.5" x2="29.7" y2="94.3" stroke="#777" stroke-width="0.35"/>
<line x1="19.7" y1="86.6" x2="20.5" y2="86.6" stroke="#777" stroke-width="0.35"/>
<line x1="31.6" y1="93.5" x2="31.6" y2="94.3" stroke="#777" stroke-width="0.35"/>
<line x1="19.7" y1="85.3" x2="20.5" y2="85.3" stroke="#777" stroke-width="0.35"/>
<text x="21.5" y="98.1" font-size="2.7" text-anchor="middle" fill="#666">10<tspan dy="-1.1" font-size="1.9">0</tspan></text>
<text x="18.3" y="94.3" font-size="2.7" text-anchor="middle" fill="#666" transform="rotate(-90 18.3 93.5)">10<tspan dy="-1.1" font-size="1.9">0</tspan></text>
<line x1="33.5" y1="93.5" x2="33.5" y2="95.0" stroke="#333" stroke-width="0.5"/>
<line x1="19.0" y1="84.0" x2="20.5" y2="84.0" stroke="#333" stroke-width="0.5"/>
<line x1="37.2" y1="93.5" x2="37.2" y2="94.3" stroke="#777" stroke-width="0.35"/>
<line x1="19.7" y1="81.3" x2="20.5" y2="81.3" stroke="#777" stroke-width="0.35"/>
<line x1="39.4" y1="93.5" x2="39.4" y2="94.3" stroke="#777" stroke-width="0.35"/>
<line x1="19.7" y1="79.7" x2="20.5" y2="79.7" stroke="#777" stroke-width="0.35"/>
<line x1="42.1" y1="93.5" x2="42.1" y2="94.3" stroke="#777" stroke-width="0.35"/>
<line x1="19.7" y1="77.7" x2="20.5" y2="77.7" stroke="#777" stroke-width="0.35"/>
<line x1="43.9" y1="93.5" x2="43.9" y2="94.3" stroke="#777" stroke-width="0.35"/>
<line x1="19.7" y1="76.4" x2="20.5" y2="76.4" stroke="#777" stroke-width="0.35"/>
<text x="33.9" y="98.1" font-size="2.7" text-anchor="middle" fill="#666">10<tspan dy="-1.1" font-size="1.9">1</tspan></text>
<text x="18.3" y="85.4" font-size="2.7" text-anchor="middle" fill="#666" transform="rotate(-90 18.3 84.5)">10<tspan dy="-1.1" font-size="1.9">1</tspan></text>
<line x1="45.9" y1="93.5" x2="45.9" y2="95.0" stroke="#333" stroke-width="0.5"/>
<line x1="19.0" y1="75.0" x2="20.5" y2="75.0" stroke="#333" stroke-width="0.5"/>
<line x1="49.6" y1="93.5" x2="49.6" y2="94.3" stroke="#777" stroke-width="0.35"/>
<line x1="19.7" y1="72.3" x2="20.5" y2="72.3" stroke="#777" stroke-width="0.35"/>
<line x1="51.8" y1="93.5" x2="51.8" y2="94.3" stroke="#777" stroke-width="0.35"/>
<line x1="19.7" y1="70.7" x2="20.5" y2="70.7" stroke="#777" stroke-width="0.35"/>
<line x1="54.5" y1="93.5" x2="54.5" y2="94.3" stroke="#777" stroke-width="0.35"/>
<line x1="19.7" y1="68.7" x2="20.5" y2="68.7" stroke="#777" stroke-width="0.35"/>
<line x1="56.3" y1="93.5" x2="56.3" y2="94.3" stroke="#777" stroke-width="0.35"/>
<line x1="19.7" y1="67.4" x2="20.5" y2="67.4" stroke="#777" stroke-width="0.35"/>
<text x="46.2" y="98.1" font-size="2.7" text-anchor="middle" fill="#666">10<tspan dy="-1.1" font-size="1.9">2</tspan></text>
<text x="18.3" y="76.4" font-size="2.7" text-anchor="middle" fill="#666" transform="rotate(-90 18.3 75.6)">10<tspan dy="-1.1" font-size="1.9">2</tspan></text>
<line x1="58.2" y1="93.5" x2="58.2" y2="95.0" stroke="#333" stroke-width="0.5"/>
<line x1="19.0" y1="66.1" x2="20.5" y2="66.1" stroke="#333" stroke-width="0.5"/>
<line x1="62.0" y1="93.5" x2="62.0" y2="94.3" stroke="#777" stroke-width="0.35"/>
<line x1="19.7" y1="63.4" x2="20.5" y2="63.4" stroke="#777" stroke-width="0.35"/>
<line x1="64.1" y1="93.5" x2="64.1" y2="94.3" stroke="#777" stroke-width="0.35"/>
<line x1="19.7" y1="61.8" x2="20.5" y2="61.8" stroke="#777" stroke-width="0.35"/>
<line x1="66.9" y1="93.5" x2="66.9" y2="94.3" stroke="#777" stroke-width="0.35"/>
<line x1="19.7" y1="59.8" x2="20.5" y2="59.8" stroke="#777" stroke-width="0.35"/>
<line x1="68.7" y1="93.5" x2="68.7" y2="94.3" stroke="#777" stroke-width="0.35"/>
<line x1="19.7" y1="58.5" x2="20.5" y2="58.5" stroke="#777" stroke-width="0.35"/>
<text x="58.6" y="98.1" font-size="2.7" text-anchor="middle" fill="#666">10<tspan dy="-1.1" font-size="1.9">3</tspan></text>
<text x="18.3" y="67.5" font-size="2.7" text-anchor="middle" fill="#666" transform="rotate(-90 18.3 66.7)">10<tspan dy="-1.1" font-size="1.9">3</tspan></text>
<line x1="70.6" y1="93.5" x2="70.6" y2="95.0" stroke="#333" stroke-width="0.5"/>
<line x1="19.0" y1="57.1" x2="20.5" y2="57.1" stroke="#333" stroke-width="0.5"/>
<text x="71.0" y="98.1" font-size="2.7" text-anchor="middle" fill="#666">10<tspan dy="-1.1" font-size="1.9">4</tspan></text>
<text x="18.3" y="58.5" font-size="2.7" text-anchor="middle" fill="#666" transform="rotate(-90 18.3 57.7)">10<tspan dy="-1.1" font-size="1.9">4</tspan></text>
<text x="12.6" y="75" font-size="2.8" font-weight="normal" text-anchor="middle" fill="#444" transform="rotate(-90 12.6 75)">FL2-H</text>
<rect x="76.3" y="57.3" width="49.6" height="37.2" fill="#fff" stroke="#666" stroke-width="0.6"/>
<path d="M76.3 57.3V94.5H125.9" fill="none" stroke="#333" stroke-width="0.9"/>
<line x1="91.2" y1="57.3" x2="91.2" y2="94.5" stroke="#333" stroke-width="0.6"/>
<line x1="76.3" y1="85.2" x2="125.9" y2="85.2" stroke="#333" stroke-width="0.6"/>
<ellipse cx="83.5" cy="90.0" rx="4.1" ry="2.5" fill="#0d0d0d" transform="rotate(-16 83.5 90.0)"/>
<ellipse cx="84.5" cy="89.2" rx="2.4" ry="2.2" fill="#0d0d0d" transform="rotate(-24 83.5 90.0)"/>
<circle cx="84.5" cy="85.1" r="0.45" fill="#222"/>
<circle cx="82.9" cy="91.3" r="0.45" fill="#222"/>
<circle cx="85.6" cy="92.2" r="0.45" fill="#222"/>
<circle cx="85.8" cy="86.9" r="0.45" fill="#222"/>
<circle cx="85.1" cy="88.8" r="0.45" fill="#222"/>
<circle cx="81.2" cy="88.7" r="0.45" fill="#222"/>
<circle cx="81.8" cy="88.5" r="0.45" fill="#222"/>
<circle cx="86.6" cy="90.0" r="0.45" fill="#222"/>
<circle cx="87.7" cy="89.8" r="0.45" fill="#222"/>
<circle cx="82.4" cy="92.8" r="0.45" fill="#222"/>
<circle cx="81.4" cy="89.5" r="0.45" fill="#222"/>
<circle cx="83.1" cy="90.2" r="0.45" fill="#222"/>
<circle cx="86.5" cy="87.7" r="0.45" fill="#222"/>
<circle cx="84.5" cy="89.7" r="0.45" fill="#222"/>
<circle cx="79.3" cy="88.7" r="0.45" fill="#222"/>
<circle cx="83.1" cy="91.1" r="0.45" fill="#222"/>
<circle cx="84.7" cy="90.8" r="0.45" fill="#222"/>
<circle cx="83.4" cy="89.0" r="0.45" fill="#222"/>
<circle cx="84.1" cy="87.5" r="0.45" fill="#222"/>
<circle cx="79.5" cy="90.4" r="0.45" fill="#222"/>
<circle cx="79.1" cy="90.0" r="0.45" fill="#222"/>
<circle cx="81.0" cy="89.4" r="0.45" fill="#222"/>
<circle cx="82.9" cy="88.3" r="0.45" fill="#222"/>
<circle cx="81.2" cy="86.6" r="0.45" fill="#222"/>
<circle cx="83.4" cy="88.0" r="0.45" fill="#222"/>
<circle cx="82.9" cy="83.5" r="0.45" fill="#222"/>
<circle cx="81.4" cy="91.2" r="0.45" fill="#222"/>
<circle cx="83.8" cy="90.1" r="0.45" fill="#222"/>
<circle cx="79.4" cy="91.7" r="0.45" fill="#222"/>
<circle cx="83.3" cy="87.8" r="0.45" fill="#222"/>
<circle cx="85.6" cy="89.3" r="0.45" fill="#222"/>
<circle cx="83.3" cy="89.0" r="0.45" fill="#222"/>
<circle cx="85.1" cy="89.8" r="0.45" fill="#222"/>
<circle cx="87.0" cy="90.1" r="0.45" fill="#222"/>
<circle cx="81.6" cy="90.0" r="0.45" fill="#222"/>
<circle cx="85.9" cy="88.5" r="0.45" fill="#222"/>
<circle cx="84.9" cy="90.8" r="0.45" fill="#222"/>
<circle cx="81.5" cy="85.1" r="0.45" fill="#222"/>
<circle cx="84.0" cy="90.4" r="0.45" fill="#222"/>
<circle cx="83.4" cy="88.2" r="0.45" fill="#222"/>
<circle cx="86.9" cy="88.7" r="0.45" fill="#222"/>
<circle cx="81.3" cy="89.0" r="0.45" fill="#222"/>
<circle cx="83.8" cy="87.3" r="0.45" fill="#222"/>
<circle cx="87.9" cy="91.2" r="0.45" fill="#222"/>
<circle cx="87.8" cy="90.2" r="0.45" fill="#222"/>
<circle cx="87.3" cy="90.1" r="0.45" fill="#222"/>
<circle cx="87.1" cy="87.8" r="0.45" fill="#222"/>
<circle cx="84.3" cy="91.6" r="0.45" fill="#222"/>
<circle cx="83.9" cy="92.5" r="0.45" fill="#222"/>
<circle cx="84.2" cy="91.4" r="0.45" fill="#222"/>
<circle cx="82.8" cy="86.7" r="0.45" fill="#222"/>
<circle cx="85.1" cy="92.6" r="0.45" fill="#222"/>
<circle cx="87.8" cy="92.8" r="0.45" fill="#222"/>
<circle cx="84.7" cy="88.2" r="0.45" fill="#222"/>
<circle cx="82.4" cy="85.8" r="0.45" fill="#222"/>
<circle cx="83.5" cy="92.1" r="0.45" fill="#222"/>
<circle cx="77.5" cy="92.2" r="0.45" fill="#222"/>
<circle cx="86.7" cy="92.2" r="0.45" fill="#222"/>
<circle cx="80.5" cy="89.3" r="0.45" fill="#222"/>
<circle cx="77.5" cy="89.3" r="0.45" fill="#222"/>
<circle cx="84.4" cy="88.6" r="0.45" fill="#222"/>
<circle cx="88.2" cy="82.7" r="0.45" fill="#222"/>
<circle cx="93.9" cy="91.0" r="0.42" fill="#888"/>
<circle cx="121.3" cy="90.4" r="0.42" fill="#888"/>
<circle cx="86.6" cy="91.0" r="0.42" fill="#888"/>
<circle cx="110.7" cy="89.8" r="0.42" fill="#888"/>
<circle cx="88.2" cy="91.4" r="0.42" fill="#888"/>
<circle cx="88.1" cy="92.2" r="0.42" fill="#888"/>
<circle cx="95.3" cy="92.3" r="0.42" fill="#888"/>
<circle cx="117.1" cy="89.1" r="0.42" fill="#888"/>
<circle cx="121.6" cy="91.3" r="0.42" fill="#888"/>
<circle cx="113.1" cy="90.5" r="0.42" fill="#888"/>
<circle cx="108.7" cy="92.0" r="0.42" fill="#888"/>
<circle cx="91.9" cy="90.7" r="0.42" fill="#888"/>
<circle cx="98.5" cy="90.5" r="0.42" fill="#888"/>
<circle cx="122.1" cy="90.4" r="0.42" fill="#888"/>
<circle cx="94.6" cy="90.8" r="0.42" fill="#888"/>
<circle cx="100.6" cy="89.7" r="0.42" fill="#888"/>
<circle cx="89.2" cy="89.4" r="0.42" fill="#888"/>
<circle cx="108.5" cy="90.7" r="0.42" fill="#888"/>
<circle cx="89.5" cy="90.1" r="0.42" fill="#888"/>
<circle cx="88.6" cy="88.5" r="0.42" fill="#888"/>
<circle cx="95.8" cy="86.9" r="0.42" fill="#888"/>
<circle cx="95.7" cy="90.3" r="0.42" fill="#888"/>
<circle cx="91.4" cy="93.3" r="0.42" fill="#888"/>
<circle cx="110.5" cy="89.6" r="0.42" fill="#888"/>
<circle cx="93.2" cy="90.8" r="0.42" fill="#888"/>
<circle cx="87.6" cy="91.3" r="0.42" fill="#888"/>
<circle cx="87.1" cy="88.7" r="0.42" fill="#888"/>
<circle cx="103.3" cy="90.2" r="0.42" fill="#888"/>
<circle cx="96.1" cy="92.5" r="0.42" fill="#888"/>
<circle cx="107.2" cy="90.4" r="0.42" fill="#888"/>
<circle cx="102.8" cy="88.1" r="0.42" fill="#888"/>
<circle cx="121.7" cy="89.6" r="0.42" fill="#888"/>
<circle cx="116.7" cy="89.9" r="0.42" fill="#888"/>
<circle cx="94.6" cy="88.8" r="0.42" fill="#888"/>
<circle cx="98.1" cy="91.7" r="0.42" fill="#888"/>
<circle cx="96.9" cy="90.0" r="0.42" fill="#888"/>
<circle cx="97.8" cy="93.6" r="0.42" fill="#888"/>
<circle cx="105.3" cy="91.3" r="0.42" fill="#888"/>
<circle cx="105.5" cy="89.7" r="0.42" fill="#888"/>
<circle cx="96.6" cy="90.3" r="0.42" fill="#888"/>
<circle cx="88.7" cy="91.2" r="0.42" fill="#888"/>
<circle cx="115.3" cy="90.9" r="0.42" fill="#888"/>
<circle cx="87.2" cy="87.0" r="0.42" fill="#888"/>
<circle cx="108.9" cy="89.3" r="0.42" fill="#888"/>
<circle cx="103.0" cy="92.2" r="0.42" fill="#888"/>
<circle cx="94.5" cy="90.3" r="0.42" fill="#888"/>
<circle cx="111.1" cy="90.2" r="0.42" fill="#888"/>
<circle cx="115.8" cy="88.2" r="0.42" fill="#888"/>
<circle cx="122.3" cy="90.1" r="0.42" fill="#888"/>
<circle cx="92.0" cy="88.6" r="0.42" fill="#888"/>
<circle cx="96.7" cy="88.5" r="0.42" fill="#888"/>
<circle cx="109.7" cy="88.8" r="0.42" fill="#888"/>
<circle cx="105.5" cy="91.4" r="0.42" fill="#888"/>
<circle cx="108.2" cy="89.3" r="0.42" fill="#888"/>
<circle cx="102.8" cy="92.1" r="0.42" fill="#888"/>
<circle cx="91.6" cy="89.4" r="0.42" fill="#888"/>
<circle cx="118.3" cy="89.5" r="0.42" fill="#888"/>
<circle cx="100.1" cy="89.9" r="0.42" fill="#888"/>
<circle cx="100.2" cy="88.5" r="0.42" fill="#888"/>
<circle cx="91.6" cy="92.4" r="0.42" fill="#888"/>
<circle cx="102.2" cy="92.9" r="0.42" fill="#888"/>
<circle cx="102.0" cy="87.5" r="0.42" fill="#888"/>
<circle cx="92.1" cy="89.8" r="0.42" fill="#888"/>
<circle cx="90.2" cy="91.0" r="0.42" fill="#888"/>
<circle cx="106.7" cy="88.8" r="0.42" fill="#888"/>
<circle cx="114.6" cy="92.6" r="0.42" fill="#888"/>
<circle cx="87.1" cy="88.4" r="0.42" fill="#888"/>
<circle cx="96.8" cy="91.6" r="0.42" fill="#888"/>
<circle cx="88.9" cy="87.8" r="0.42" fill="#888"/>
<circle cx="89.7" cy="90.2" r="0.42" fill="#888"/>
<circle cx="95.9" cy="90.9" r="0.42" fill="#888"/>
<circle cx="113.6" cy="88.6" r="0.42" fill="#888"/>
<circle cx="88.0" cy="90.0" r="0.42" fill="#888"/>
<circle cx="97.3" cy="92.6" r="0.42" fill="#888"/>
<circle cx="99.2" cy="90.2" r="0.42" fill="#888"/>
<circle cx="100.3" cy="91.0" r="0.42" fill="#888"/>
<circle cx="89.6" cy="87.8" r="0.42" fill="#888"/>
<circle cx="108.3" cy="89.0" r="0.42" fill="#888"/>
<circle cx="92.1" cy="91.6" r="0.42" fill="#888"/>
<circle cx="96.4" cy="89.5" r="0.42" fill="#888"/>
<circle cx="86.7" cy="91.5" r="0.42" fill="#888"/>
<circle cx="91.0" cy="89.8" r="0.42" fill="#888"/>
<circle cx="90.3" cy="90.0" r="0.42" fill="#888"/>
<circle cx="109.9" cy="90.0" r="0.42" fill="#888"/>
<circle cx="92.2" cy="91.6" r="0.42" fill="#888"/>
<circle cx="114.9" cy="92.0" r="0.42" fill="#888"/>
<circle cx="116.0" cy="91.4" r="0.42" fill="#888"/>
<circle cx="91.0" cy="87.9" r="0.42" fill="#888"/>
<circle cx="105.8" cy="91.5" r="0.42" fill="#888"/>
<circle cx="96.4" cy="91.8" r="0.42" fill="#888"/>
<circle cx="96.3" cy="90.7" r="0.42" fill="#888"/>
<circle cx="109.7" cy="89.8" r="0.42" fill="#888"/>
<circle cx="107.0" cy="91.7" r="0.42" fill="#888"/>
<circle cx="113.9" cy="89.4" r="0.42" fill="#888"/>
<circle cx="104.2" cy="91.4" r="0.42" fill="#888"/>
<circle cx="119.0" cy="91.7" r="0.42" fill="#888"/>
<circle cx="96.5" cy="89.6" r="0.42" fill="#888"/>
<circle cx="87.7" cy="89.1" r="0.42" fill="#888"/>
<circle cx="111.5" cy="88.9" r="0.42" fill="#888"/>
<circle cx="101.0" cy="91.5" r="0.42" fill="#888"/>
<circle cx="118.0" cy="90.3" r="0.42" fill="#888"/>
<circle cx="104.7" cy="89.9" r="0.42" fill="#888"/>
<circle cx="99.7" cy="87.5" r="0.42" fill="#888"/>
<circle cx="98.0" cy="90.9" r="0.42" fill="#888"/>
<circle cx="100.1" cy="91.5" r="0.42" fill="#888"/>
<circle cx="100.8" cy="89.2" r="0.42" fill="#888"/>
<circle cx="101.6" cy="91.3" r="0.42" fill="#888"/>
<circle cx="110.9" cy="88.3" r="0.42" fill="#888"/>
<circle cx="104.9" cy="74.5" r="0.38" fill="#999"/>
<circle cx="109.8" cy="82.0" r="0.38" fill="#999"/>
<circle cx="116.6" cy="84.3" r="0.38" fill="#999"/>
<circle cx="99.2" cy="81.2" r="0.38" fill="#999"/>
<circle cx="94.6" cy="83.4" r="0.38" fill="#999"/>
<circle cx="95.0" cy="81.7" r="0.38" fill="#999"/>
<circle cx="116.1" cy="82.5" r="0.38" fill="#999"/>
<circle cx="113.8" cy="83.8" r="0.38" fill="#999"/>
<circle cx="114.7" cy="82.4" r="0.38" fill="#999"/>
<circle cx="114.1" cy="84.4" r="0.38" fill="#999"/>
<circle cx="105.4" cy="63.3" r="0.38" fill="#999"/>
<circle cx="118.1" cy="72.2" r="0.38" fill="#999"/>
<circle cx="119.8" cy="80.8" r="0.38" fill="#999"/>
<circle cx="108.6" cy="79.7" r="0.38" fill="#999"/>
<circle cx="92.4" cy="79.1" r="0.38" fill="#999"/>
<circle cx="100.5" cy="84.3" r="0.38" fill="#999"/>
<circle cx="102.1" cy="84.3" r="0.38" fill="#999"/>
<circle cx="109.8" cy="70.9" r="0.38" fill="#999"/>
<circle cx="108.4" cy="82.7" r="0.38" fill="#999"/>
<circle cx="101.9" cy="83.6" r="0.38" fill="#999"/>
<circle cx="119.7" cy="80.3" r="0.38" fill="#999"/>
<circle cx="100.3" cy="71.6" r="0.38" fill="#999"/>
<circle cx="98.6" cy="76.5" r="0.38" fill="#999"/>
<circle cx="104.0" cy="81.9" r="0.38" fill="#999"/>
<circle cx="106.9" cy="75.5" r="0.38" fill="#999"/>
<text x="95.4" y="63.7" font-size="4.7" font-weight="normal" text-anchor="start" fill="#333" stroke="#333" stroke-width="0.04">Fas ag.ab.+</text>
<text x="95.4" y="69.3" font-size="4.7" font-weight="normal" text-anchor="start" fill="#333" stroke="#333" stroke-width="0.04">Collagen</text>
<text x="123.4" y="82.8" font-size="4.7" font-weight="normal" text-anchor="end" fill="#333" stroke="#333" stroke-width="0.04">2.8%</text>
<text x="123.6" y="92.6" font-size="4.7" font-weight="normal" text-anchor="end" fill="#333" stroke="#333" stroke-width="0.04">17.2%</text>
<line x1="76.9" y1="94.5" x2="76.9" y2="96.0" stroke="#333" stroke-width="0.5"/>
<line x1="74.8" y1="93.9" x2="76.3" y2="93.9" stroke="#333" stroke-width="0.5"/>
<line x1="80.5" y1="94.5" x2="80.5" y2="95.3" stroke="#777" stroke-width="0.35"/>
<line x1="75.5" y1="91.2" x2="76.3" y2="91.2" stroke="#777" stroke-width="0.35"/>
<line x1="82.7" y1="94.5" x2="82.7" y2="95.3" stroke="#777" stroke-width="0.35"/>
<line x1="75.5" y1="89.6" x2="76.3" y2="89.6" stroke="#777" stroke-width="0.35"/>
<line x1="85.4" y1="94.5" x2="85.4" y2="95.3" stroke="#777" stroke-width="0.35"/>
<line x1="75.5" y1="87.6" x2="76.3" y2="87.6" stroke="#777" stroke-width="0.35"/>
<line x1="87.1" y1="94.5" x2="87.1" y2="95.3" stroke="#777" stroke-width="0.35"/>
<line x1="75.5" y1="86.3" x2="76.3" y2="86.3" stroke="#777" stroke-width="0.35"/>
<text x="77.3" y="99.1" font-size="2.7" text-anchor="middle" fill="#666">10<tspan dy="-1.1" font-size="1.9">0</tspan></text>
<line x1="89.0" y1="94.5" x2="89.0" y2="96.0" stroke="#333" stroke-width="0.5"/>
<line x1="74.8" y1="84.9" x2="76.3" y2="84.9" stroke="#333" stroke-width="0.5"/>
<line x1="92.6" y1="94.5" x2="92.6" y2="95.3" stroke="#777" stroke-width="0.35"/>
<line x1="75.5" y1="82.2" x2="76.3" y2="82.2" stroke="#777" stroke-width="0.35"/>
<line x1="94.8" y1="94.5" x2="94.8" y2="95.3" stroke="#777" stroke-width="0.35"/>
<line x1="75.5" y1="80.6" x2="76.3" y2="80.6" stroke="#777" stroke-width="0.35"/>
<line x1="97.5" y1="94.5" x2="97.5" y2="95.3" stroke="#777" stroke-width="0.35"/>
<line x1="75.5" y1="78.6" x2="76.3" y2="78.6" stroke="#777" stroke-width="0.35"/>
<line x1="99.2" y1="94.5" x2="99.2" y2="95.3" stroke="#777" stroke-width="0.35"/>
<line x1="75.5" y1="77.3" x2="76.3" y2="77.3" stroke="#777" stroke-width="0.35"/>
<text x="89.4" y="99.1" font-size="2.7" text-anchor="middle" fill="#666">10<tspan dy="-1.1" font-size="1.9">1</tspan></text>
<line x1="101.1" y1="94.5" x2="101.1" y2="96.0" stroke="#333" stroke-width="0.5"/>
<line x1="74.8" y1="75.9" x2="76.3" y2="75.9" stroke="#333" stroke-width="0.5"/>
<line x1="104.7" y1="94.5" x2="104.7" y2="95.3" stroke="#777" stroke-width="0.35"/>
<line x1="75.5" y1="73.2" x2="76.3" y2="73.2" stroke="#777" stroke-width="0.35"/>
<line x1="106.9" y1="94.5" x2="106.9" y2="95.3" stroke="#777" stroke-width="0.35"/>
<line x1="75.5" y1="71.6" x2="76.3" y2="71.6" stroke="#777" stroke-width="0.35"/>
<line x1="109.6" y1="94.5" x2="109.6" y2="95.3" stroke="#777" stroke-width="0.35"/>
<line x1="75.5" y1="69.6" x2="76.3" y2="69.6" stroke="#777" stroke-width="0.35"/>
<line x1="111.3" y1="94.5" x2="111.3" y2="95.3" stroke="#777" stroke-width="0.35"/>
<line x1="75.5" y1="68.3" x2="76.3" y2="68.3" stroke="#777" stroke-width="0.35"/>
<text x="101.5" y="99.1" font-size="2.7" text-anchor="middle" fill="#666">10<tspan dy="-1.1" font-size="1.9">2</tspan></text>
<line x1="113.2" y1="94.5" x2="113.2" y2="96.0" stroke="#333" stroke-width="0.5"/>
<line x1="74.8" y1="66.9" x2="76.3" y2="66.9" stroke="#333" stroke-width="0.5"/>
<line x1="116.8" y1="94.5" x2="116.8" y2="95.3" stroke="#777" stroke-width="0.35"/>
<line x1="75.5" y1="64.2" x2="76.3" y2="64.2" stroke="#777" stroke-width="0.35"/>
<line x1="119.0" y1="94.5" x2="119.0" y2="95.3" stroke="#777" stroke-width="0.35"/>
<line x1="75.5" y1="62.6" x2="76.3" y2="62.6" stroke="#777" stroke-width="0.35"/>
<line x1="121.7" y1="94.5" x2="121.7" y2="95.3" stroke="#777" stroke-width="0.35"/>
<line x1="75.5" y1="60.6" x2="76.3" y2="60.6" stroke="#777" stroke-width="0.35"/>
<line x1="123.4" y1="94.5" x2="123.4" y2="95.3" stroke="#777" stroke-width="0.35"/>
<line x1="75.5" y1="59.3" x2="76.3" y2="59.3" stroke="#777" stroke-width="0.35"/>
<text x="113.6" y="99.1" font-size="2.7" text-anchor="middle" fill="#666">10<tspan dy="-1.1" font-size="1.9">3</tspan></text>
<line x1="125.3" y1="94.5" x2="125.3" y2="96.0" stroke="#333" stroke-width="0.5"/>
<line x1="74.8" y1="57.9" x2="76.3" y2="57.9" stroke="#333" stroke-width="0.5"/>
<text x="125.7" y="99.1" font-size="2.7" text-anchor="middle" fill="#666">10<tspan dy="-1.1" font-size="1.9">4</tspan></text>
<text x="101.1" y="104.1" font-size="2.8" font-weight="normal" text-anchor="middle" fill="#444" >FL1-H</text>
<rect x="130.6" y="57.3" width="50.3" height="38.1" fill="#fff" stroke="#666" stroke-width="0.6"/>
<path d="M130.6 57.3V95.4H180.9" fill="none" stroke="#333" stroke-width="0.9"/>
<line x1="145.7" y1="57.3" x2="145.7" y2="95.4" stroke="#333" stroke-width="0.6"/>
<line x1="130.6" y1="86.0" x2="180.9" y2="86.0" stroke="#333" stroke-width="0.6"/>
<ellipse cx="137.9" cy="91.0" rx="4.6" ry="2.5" fill="#0d0d0d" transform="rotate(-16 137.9 91.0)"/>
<ellipse cx="139.1" cy="90.2" rx="2.8" ry="2.2" fill="#0d0d0d" transform="rotate(-24 137.9 91.0)"/>
<circle cx="137.5" cy="88.2" r="0.45" fill="#222"/>
<circle cx="142.9" cy="91.3" r="0.45" fill="#222"/>
<circle cx="144.9" cy="88.3" r="0.45" fill="#222"/>
<circle cx="137.3" cy="90.0" r="0.45" fill="#222"/>
<circle cx="141.0" cy="87.5" r="0.45" fill="#222"/>
<circle cx="140.1" cy="89.5" r="0.45" fill="#222"/>
<circle cx="140.5" cy="90.8" r="0.45" fill="#222"/>
<circle cx="135.0" cy="90.8" r="0.45" fill="#222"/>
<circle cx="131.5" cy="90.6" r="0.45" fill="#222"/>
<circle cx="136.6" cy="93.8" r="0.45" fill="#222"/>
<circle cx="136.7" cy="92.0" r="0.45" fill="#222"/>
<circle cx="136.3" cy="88.3" r="0.45" fill="#222"/>
<circle cx="141.1" cy="94.7" r="0.45" fill="#222"/>
<circle cx="140.7" cy="93.1" r="0.45" fill="#222"/>
<circle cx="140.5" cy="92.6" r="0.45" fill="#222"/>
<circle cx="143.7" cy="85.3" r="0.45" fill="#222"/>
<circle cx="134.7" cy="88.3" r="0.45" fill="#222"/>
<circle cx="137.8" cy="90.1" r="0.45" fill="#222"/>
<circle cx="135.8" cy="92.8" r="0.45" fill="#222"/>
<circle cx="145.0" cy="92.3" r="0.45" fill="#222"/>
<circle cx="144.0" cy="89.6" r="0.45" fill="#222"/>
<circle cx="140.4" cy="93.8" r="0.45" fill="#222"/>
<circle cx="141.9" cy="92.3" r="0.45" fill="#222"/>
<circle cx="136.6" cy="90.4" r="0.45" fill="#222"/>
<circle cx="136.6" cy="94.5" r="0.45" fill="#222"/>
<circle cx="135.2" cy="92.2" r="0.45" fill="#222"/>
<circle cx="138.8" cy="90.5" r="0.45" fill="#222"/>
<circle cx="137.3" cy="92.2" r="0.45" fill="#222"/>
<circle cx="135.7" cy="92.0" r="0.45" fill="#222"/>
<circle cx="142.0" cy="88.5" r="0.45" fill="#222"/>
<circle cx="142.7" cy="92.7" r="0.45" fill="#222"/>
<circle cx="143.5" cy="87.3" r="0.45" fill="#222"/>
<circle cx="144.3" cy="91.7" r="0.45" fill="#222"/>
<circle cx="143.5" cy="91.8" r="0.45" fill="#222"/>
<circle cx="138.2" cy="93.3" r="0.45" fill="#222"/>
<circle cx="138.3" cy="89.8" r="0.45" fill="#222"/>
<circle cx="135.8" cy="90.6" r="0.45" fill="#222"/>
<circle cx="136.5" cy="87.6" r="0.45" fill="#222"/>
<circle cx="138.3" cy="87.6" r="0.45" fill="#222"/>
<circle cx="141.0" cy="93.6" r="0.45" fill="#222"/>
<circle cx="143.1" cy="93.5" r="0.45" fill="#222"/>
<circle cx="137.2" cy="89.2" r="0.45" fill="#222"/>
<circle cx="136.9" cy="89.0" r="0.45" fill="#222"/>
<circle cx="141.0" cy="84.5" r="0.45" fill="#222"/>
<circle cx="138.7" cy="93.1" r="0.45" fill="#222"/>
<circle cx="140.6" cy="92.4" r="0.45" fill="#222"/>
<circle cx="134.3" cy="91.0" r="0.45" fill="#222"/>
<circle cx="137.9" cy="92.2" r="0.45" fill="#222"/>
<circle cx="141.0" cy="93.8" r="0.45" fill="#222"/>
<circle cx="134.1" cy="92.9" r="0.45" fill="#222"/>
<circle cx="146.3" cy="91.8" r="0.45" fill="#222"/>
<circle cx="139.4" cy="92.8" r="0.45" fill="#222"/>
<circle cx="138.2" cy="94.3" r="0.45" fill="#222"/>
<circle cx="136.8" cy="93.4" r="0.45" fill="#222"/>
<circle cx="138.4" cy="89.1" r="0.45" fill="#222"/>
<circle cx="138.7" cy="90.7" r="0.45" fill="#222"/>
<circle cx="136.0" cy="92.0" r="0.45" fill="#222"/>
<circle cx="136.0" cy="94.4" r="0.45" fill="#222"/>
<circle cx="140.4" cy="92.8" r="0.45" fill="#222"/>
<circle cx="140.6" cy="91.0" r="0.45" fill="#222"/>
<circle cx="133.4" cy="91.7" r="0.45" fill="#222"/>
<circle cx="137.9" cy="89.9" r="0.45" fill="#222"/>
<circle cx="137.6" cy="90.3" r="0.45" fill="#222"/>
<circle cx="136.0" cy="89.6" r="0.45" fill="#222"/>
<circle cx="135.8" cy="89.1" r="0.45" fill="#222"/>
<circle cx="141.6" cy="90.7" r="0.45" fill="#222"/>
<circle cx="140.2" cy="92.4" r="0.45" fill="#222"/>
<circle cx="137.6" cy="93.8" r="0.45" fill="#222"/>
<circle cx="131.9" cy="91.4" r="0.45" fill="#222"/>
<circle cx="143.2" cy="91.2" r="0.42" fill="#888"/>
<circle cx="171.9" cy="92.4" r="0.42" fill="#888"/>
<circle cx="157.5" cy="92.3" r="0.42" fill="#888"/>
<circle cx="143.7" cy="90.2" r="0.42" fill="#888"/>
<circle cx="157.5" cy="91.3" r="0.42" fill="#888"/>
<circle cx="156.4" cy="90.4" r="0.42" fill="#888"/>
<circle cx="152.6" cy="91.8" r="0.42" fill="#888"/>
<circle cx="146.0" cy="91.9" r="0.42" fill="#888"/>
<circle cx="171.6" cy="91.9" r="0.42" fill="#888"/>
<circle cx="156.2" cy="91.3" r="0.42" fill="#888"/>
<circle cx="174.9" cy="90.9" r="0.42" fill="#888"/>
<circle cx="155.7" cy="91.6" r="0.42" fill="#888"/>
<circle cx="163.7" cy="89.2" r="0.42" fill="#888"/>
<circle cx="146.8" cy="91.1" r="0.42" fill="#888"/>
<circle cx="147.9" cy="90.2" r="0.42" fill="#888"/>
<circle cx="141.9" cy="89.7" r="0.42" fill="#888"/>
<circle cx="148.8" cy="92.2" r="0.42" fill="#888"/>
<circle cx="172.5" cy="92.8" r="0.42" fill="#888"/>
<circle cx="146.9" cy="92.1" r="0.42" fill="#888"/>
<circle cx="159.8" cy="91.6" r="0.42" fill="#888"/>
<circle cx="142.5" cy="88.8" r="0.42" fill="#888"/>
<circle cx="147.3" cy="87.6" r="0.42" fill="#888"/>
<circle cx="142.1" cy="88.6" r="0.42" fill="#888"/>
<circle cx="160.8" cy="90.1" r="0.42" fill="#888"/>
<circle cx="150.4" cy="88.5" r="0.42" fill="#888"/>
<circle cx="168.9" cy="87.8" r="0.42" fill="#888"/>
<circle cx="141.6" cy="91.9" r="0.42" fill="#888"/>
<circle cx="174.7" cy="89.8" r="0.42" fill="#888"/>
<circle cx="143.0" cy="91.9" r="0.42" fill="#888"/>
<circle cx="147.3" cy="90.9" r="0.42" fill="#888"/>
<circle cx="144.6" cy="88.9" r="0.42" fill="#888"/>
<circle cx="150.5" cy="91.7" r="0.42" fill="#888"/>
<circle cx="146.5" cy="91.9" r="0.42" fill="#888"/>
<circle cx="168.1" cy="90.3" r="0.42" fill="#888"/>
<circle cx="155.4" cy="88.5" r="0.42" fill="#888"/>
<circle cx="173.3" cy="91.1" r="0.42" fill="#888"/>
<circle cx="166.3" cy="90.4" r="0.42" fill="#888"/>
<circle cx="161.0" cy="90.3" r="0.42" fill="#888"/>
<circle cx="170.5" cy="91.3" r="0.42" fill="#888"/>
<circle cx="164.9" cy="90.5" r="0.42" fill="#888"/>
<circle cx="150.7" cy="93.1" r="0.42" fill="#888"/>
<circle cx="163.0" cy="94.4" r="0.42" fill="#888"/>
<circle cx="166.1" cy="93.0" r="0.42" fill="#888"/>
<circle cx="174.6" cy="93.2" r="0.42" fill="#888"/>
<circle cx="173.1" cy="91.0" r="0.42" fill="#888"/>
<circle cx="168.5" cy="88.3" r="0.42" fill="#888"/>
<circle cx="159.6" cy="88.5" r="0.42" fill="#888"/>
<circle cx="167.8" cy="92.2" r="0.42" fill="#888"/>
<circle cx="171.6" cy="89.9" r="0.42" fill="#888"/>
<circle cx="157.3" cy="94.7" r="0.42" fill="#888"/>
<circle cx="175.0" cy="94.0" r="0.42" fill="#888"/>
<circle cx="167.9" cy="93.7" r="0.42" fill="#888"/>
<circle cx="147.5" cy="91.7" r="0.42" fill="#888"/>
<circle cx="145.9" cy="90.2" r="0.42" fill="#888"/>
<circle cx="154.5" cy="91.2" r="0.42" fill="#888"/>
<circle cx="173.3" cy="92.8" r="0.42" fill="#888"/>
<circle cx="163.5" cy="90.7" r="0.42" fill="#888"/>
<circle cx="167.7" cy="89.6" r="0.42" fill="#888"/>
<circle cx="168.2" cy="89.6" r="0.42" fill="#888"/>
<circle cx="169.6" cy="87.8" r="0.42" fill="#888"/>
<circle cx="152.7" cy="93.0" r="0.42" fill="#888"/>
<circle cx="170.0" cy="92.2" r="0.42" fill="#888"/>
<circle cx="150.3" cy="88.7" r="0.42" fill="#888"/>
<circle cx="168.1" cy="89.5" r="0.42" fill="#888"/>
<circle cx="141.5" cy="90.8" r="0.42" fill="#888"/>
<circle cx="143.6" cy="91.1" r="0.42" fill="#888"/>
<circle cx="169.0" cy="89.3" r="0.42" fill="#888"/>
<circle cx="154.5" cy="92.1" r="0.42" fill="#888"/>
<circle cx="150.2" cy="91.4" r="0.42" fill="#888"/>
<circle cx="170.4" cy="92.5" r="0.42" fill="#888"/>
<circle cx="160.8" cy="90.9" r="0.42" fill="#888"/>
<circle cx="148.1" cy="91.7" r="0.42" fill="#888"/>
<circle cx="164.2" cy="89.0" r="0.42" fill="#888"/>
<circle cx="168.7" cy="91.9" r="0.42" fill="#888"/>
<circle cx="143.8" cy="90.9" r="0.42" fill="#888"/>
<circle cx="169.4" cy="90.7" r="0.42" fill="#888"/>
<circle cx="145.5" cy="90.6" r="0.42" fill="#888"/>
<circle cx="146.7" cy="92.7" r="0.42" fill="#888"/>
<circle cx="172.6" cy="89.8" r="0.42" fill="#888"/>
<circle cx="152.2" cy="87.4" r="0.42" fill="#888"/>
<circle cx="156.4" cy="91.1" r="0.42" fill="#888"/>
<circle cx="177.0" cy="92.1" r="0.42" fill="#888"/>
<circle cx="144.9" cy="93.7" r="0.42" fill="#888"/>
<circle cx="157.2" cy="92.0" r="0.42" fill="#888"/>
<circle cx="174.9" cy="91.1" r="0.42" fill="#888"/>
<circle cx="154.4" cy="91.5" r="0.42" fill="#888"/>
<circle cx="150.8" cy="90.0" r="0.42" fill="#888"/>
<circle cx="143.3" cy="88.3" r="0.42" fill="#888"/>
<circle cx="156.6" cy="90.1" r="0.42" fill="#888"/>
<circle cx="151.6" cy="94.0" r="0.42" fill="#888"/>
<circle cx="162.7" cy="89.7" r="0.42" fill="#888"/>
<circle cx="142.8" cy="89.9" r="0.42" fill="#888"/>
<circle cx="175.5" cy="90.0" r="0.42" fill="#888"/>
<circle cx="151.1" cy="90.0" r="0.42" fill="#888"/>
<circle cx="151.6" cy="89.3" r="0.42" fill="#888"/>
<circle cx="157.0" cy="89.6" r="0.42" fill="#888"/>
<circle cx="156.0" cy="88.2" r="0.42" fill="#888"/>
<circle cx="151.2" cy="91.6" r="0.42" fill="#888"/>
<circle cx="170.0" cy="91.0" r="0.42" fill="#888"/>
<circle cx="163.5" cy="89.6" r="0.42" fill="#888"/>
<circle cx="166.3" cy="90.5" r="0.42" fill="#888"/>
<circle cx="172.5" cy="90.8" r="0.42" fill="#888"/>
<circle cx="142.0" cy="88.6" r="0.42" fill="#888"/>
<circle cx="149.9" cy="93.5" r="0.42" fill="#888"/>
<circle cx="172.5" cy="93.9" r="0.42" fill="#888"/>
<circle cx="144.4" cy="89.4" r="0.42" fill="#888"/>
<circle cx="142.2" cy="90.1" r="0.42" fill="#888"/>
<circle cx="152.2" cy="91.1" r="0.42" fill="#888"/>
<circle cx="155.7" cy="75.5" r="0.38" fill="#999"/>
<circle cx="171.3" cy="83.3" r="0.38" fill="#999"/>
<circle cx="160.2" cy="77.0" r="0.38" fill="#999"/>
<circle cx="178.2" cy="78.0" r="0.38" fill="#999"/>
<circle cx="168.5" cy="75.3" r="0.38" fill="#999"/>
<circle cx="159.0" cy="74.8" r="0.38" fill="#999"/>
<circle cx="168.9" cy="83.0" r="0.38" fill="#999"/>
<circle cx="155.6" cy="80.7" r="0.38" fill="#999"/>
<circle cx="173.3" cy="77.7" r="0.38" fill="#999"/>
<circle cx="172.3" cy="83.3" r="0.38" fill="#999"/>
<circle cx="163.3" cy="82.4" r="0.38" fill="#999"/>
<circle cx="175.0" cy="79.5" r="0.38" fill="#999"/>
<circle cx="152.2" cy="75.7" r="0.38" fill="#999"/>
<circle cx="156.7" cy="79.9" r="0.38" fill="#999"/>
<circle cx="159.0" cy="83.6" r="0.38" fill="#999"/>
<circle cx="177.8" cy="81.1" r="0.38" fill="#999"/>
<circle cx="156.7" cy="84.4" r="0.38" fill="#999"/>
<circle cx="177.1" cy="83.5" r="0.38" fill="#999"/>
<circle cx="160.8" cy="79.7" r="0.38" fill="#999"/>
<circle cx="150.2" cy="85.1" r="0.38" fill="#999"/>
<text x="153.7" y="62.6" font-size="4.7" font-weight="normal" text-anchor="start" fill="#333" stroke="#333" stroke-width="0.04">Fas ag.ab.+</text>
<text x="153.7" y="68.2" font-size="4.7" font-weight="normal" text-anchor="start" fill="#333" stroke="#333" stroke-width="0.04">DDR1</text>
<text x="153.7" y="73.8" font-size="4.7" font-weight="normal" text-anchor="start" fill="#333" stroke="#333" stroke-width="0.04">agonistic Ab.</text>
<text x="177.4" y="82.8" font-size="4.7" font-weight="normal" text-anchor="end" fill="#333" stroke="#333" stroke-width="0.04">2.1%</text>
<text x="178.4" y="92.6" font-size="4.7" font-weight="normal" text-anchor="end" fill="#333" stroke="#333" stroke-width="0.04">16.6%</text>
<line x1="131.2" y1="95.4" x2="131.2" y2="96.9" stroke="#333" stroke-width="0.5"/>
<line x1="129.1" y1="94.8" x2="130.6" y2="94.8" stroke="#333" stroke-width="0.5"/>
<line x1="134.9" y1="95.4" x2="134.9" y2="96.2" stroke="#777" stroke-width="0.35"/>
<line x1="129.79999999999998" y1="92.0" x2="130.6" y2="92.0" stroke="#777" stroke-width="0.35"/>
<line x1="137.1" y1="95.4" x2="137.1" y2="96.2" stroke="#777" stroke-width="0.35"/>
<line x1="129.79999999999998" y1="90.4" x2="130.6" y2="90.4" stroke="#777" stroke-width="0.35"/>
<line x1="139.8" y1="95.4" x2="139.8" y2="96.2" stroke="#777" stroke-width="0.35"/>
<line x1="129.79999999999998" y1="88.4" x2="130.6" y2="88.4" stroke="#777" stroke-width="0.35"/>
<line x1="141.6" y1="95.4" x2="141.6" y2="96.2" stroke="#777" stroke-width="0.35"/>
<line x1="129.79999999999998" y1="87.0" x2="130.6" y2="87.0" stroke="#777" stroke-width="0.35"/>
<text x="131.6" y="100.0" font-size="2.7" text-anchor="middle" fill="#666">10<tspan dy="-1.1" font-size="1.9">0</tspan></text>
<line x1="143.5" y1="95.4" x2="143.5" y2="96.9" stroke="#333" stroke-width="0.5"/>
<line x1="129.1" y1="85.6" x2="130.6" y2="85.6" stroke="#333" stroke-width="0.5"/>
<line x1="147.2" y1="95.4" x2="147.2" y2="96.2" stroke="#777" stroke-width="0.35"/>
<line x1="129.79999999999998" y1="82.8" x2="130.6" y2="82.8" stroke="#777" stroke-width="0.35"/>
<line x1="149.3" y1="95.4" x2="149.3" y2="96.2" stroke="#777" stroke-width="0.35"/>
<line x1="129.79999999999998" y1="81.2" x2="130.6" y2="81.2" stroke="#777" stroke-width="0.35"/>
<line x1="152.1" y1="95.4" x2="152.1" y2="96.2" stroke="#777" stroke-width="0.35"/>
<line x1="129.79999999999998" y1="79.1" x2="130.6" y2="79.1" stroke="#777" stroke-width="0.35"/>
<line x1="153.8" y1="95.4" x2="153.8" y2="96.2" stroke="#777" stroke-width="0.35"/>
<line x1="129.79999999999998" y1="77.8" x2="130.6" y2="77.8" stroke="#777" stroke-width="0.35"/>
<text x="143.9" y="100.0" font-size="2.7" text-anchor="middle" fill="#666">10<tspan dy="-1.1" font-size="1.9">1</tspan></text>
<line x1="155.8" y1="95.4" x2="155.8" y2="96.9" stroke="#333" stroke-width="0.5"/>
<line x1="129.1" y1="76.4" x2="130.6" y2="76.4" stroke="#333" stroke-width="0.5"/>
<line x1="159.4" y1="95.4" x2="159.4" y2="96.2" stroke="#777" stroke-width="0.35"/>
<line x1="129.79999999999998" y1="73.6" x2="130.6" y2="73.6" stroke="#777" stroke-width="0.35"/>
<line x1="161.6" y1="95.4" x2="161.6" y2="96.2" stroke="#777" stroke-width="0.35"/>
<line x1="129.79999999999998" y1="71.9" x2="130.6" y2="71.9" stroke="#777" stroke-width="0.35"/>
<line x1="164.3" y1="95.4" x2="164.3" y2="96.2" stroke="#777" stroke-width="0.35"/>
<line x1="129.79999999999998" y1="69.9" x2="130.6" y2="69.9" stroke="#777" stroke-width="0.35"/>
<line x1="166.1" y1="95.4" x2="166.1" y2="96.2" stroke="#777" stroke-width="0.35"/>
<line x1="129.79999999999998" y1="68.6" x2="130.6" y2="68.6" stroke="#777" stroke-width="0.35"/>
<text x="156.2" y="100.0" font-size="2.7" text-anchor="middle" fill="#666">10<tspan dy="-1.1" font-size="1.9">2</tspan></text>
<line x1="168.0" y1="95.4" x2="168.0" y2="96.9" stroke="#333" stroke-width="0.5"/>
<line x1="129.1" y1="67.1" x2="130.6" y2="67.1" stroke="#333" stroke-width="0.5"/>
<line x1="171.7" y1="95.4" x2="171.7" y2="96.2" stroke="#777" stroke-width="0.35"/>
<line x1="129.79999999999998" y1="64.3" x2="130.6" y2="64.3" stroke="#777" stroke-width="0.35"/>
<line x1="173.9" y1="95.4" x2="173.9" y2="96.2" stroke="#777" stroke-width="0.35"/>
<line x1="129.79999999999998" y1="62.7" x2="130.6" y2="62.7" stroke="#777" stroke-width="0.35"/>
<line x1="176.6" y1="95.4" x2="176.6" y2="96.2" stroke="#777" stroke-width="0.35"/>
<line x1="129.79999999999998" y1="60.7" x2="130.6" y2="60.7" stroke="#777" stroke-width="0.35"/>
<line x1="178.4" y1="95.4" x2="178.4" y2="96.2" stroke="#777" stroke-width="0.35"/>
<line x1="129.79999999999998" y1="59.3" x2="130.6" y2="59.3" stroke="#777" stroke-width="0.35"/>
<text x="168.4" y="100.0" font-size="2.7" text-anchor="middle" fill="#666">10<tspan dy="-1.1" font-size="1.9">3</tspan></text>
<line x1="180.3" y1="95.4" x2="180.3" y2="96.9" stroke="#333" stroke-width="0.5"/>
<line x1="129.1" y1="57.9" x2="130.6" y2="57.9" stroke="#333" stroke-width="0.5"/>
<text x="180.7" y="100.0" font-size="2.7" text-anchor="middle" fill="#666">10<tspan dy="-1.1" font-size="1.9">4</tspan></text>
<text x="155.8" y="105.0" font-size="2.8" font-weight="normal" text-anchor="middle" fill="#444" >FL1-H</text>
<rect x="185.6" y="57.3" width="48.9" height="38.1" fill="#fff" stroke="#666" stroke-width="0.6"/>
<path d="M185.6 57.3V95.4H234.5" fill="none" stroke="#333" stroke-width="0.9"/>
<line x1="200.7" y1="57.3" x2="200.7" y2="95.4" stroke="#333" stroke-width="0.6"/>
<line x1="185.6" y1="86.0" x2="234.5" y2="86.0" stroke="#333" stroke-width="0.6"/>
<ellipse cx="198.8" cy="91.1" rx="8.4" ry="2.0" fill="#0d0d0d" transform="rotate(-5 198.8 91.1)"/>
<ellipse cx="200.8" cy="90.5" rx="5.0" ry="1.8" fill="#0d0d0d" transform="rotate(-13 198.8 91.1)"/>
<circle cx="204.7" cy="87.0" r="0.45" fill="#222"/>
<circle cx="209.4" cy="90.0" r="0.45" fill="#222"/>
<circle cx="203.1" cy="92.4" r="0.45" fill="#222"/>
<circle cx="195.1" cy="92.8" r="0.45" fill="#222"/>
<circle cx="191.1" cy="92.1" r="0.45" fill="#222"/>
<circle cx="193.5" cy="93.4" r="0.45" fill="#222"/>
<circle cx="207.2" cy="88.0" r="0.45" fill="#222"/>
<circle cx="200.1" cy="89.5" r="0.45" fill="#222"/>
<circle cx="189.5" cy="91.6" r="0.45" fill="#222"/>
<circle cx="204.8" cy="92.6" r="0.45" fill="#222"/>
<circle cx="194.9" cy="90.8" r="0.45" fill="#222"/>
<circle cx="207.3" cy="90.2" r="0.45" fill="#222"/>
<circle cx="209.8" cy="93.5" r="0.45" fill="#222"/>
<circle cx="201.6" cy="89.3" r="0.45" fill="#222"/>
<circle cx="196.5" cy="92.7" r="0.45" fill="#222"/>
<circle cx="196.9" cy="91.3" r="0.45" fill="#222"/>
<circle cx="200.9" cy="87.9" r="0.45" fill="#222"/>
<circle cx="195.5" cy="90.5" r="0.45" fill="#222"/>
<circle cx="192.9" cy="91.9" r="0.45" fill="#222"/>
<circle cx="195.8" cy="90.4" r="0.45" fill="#222"/>
<circle cx="207.4" cy="92.9" r="0.45" fill="#222"/>
<circle cx="196.8" cy="90.1" r="0.45" fill="#222"/>
<circle cx="188.3" cy="88.5" r="0.45" fill="#222"/>
<circle cx="207.9" cy="90.2" r="0.45" fill="#222"/>
<circle cx="192.8" cy="89.0" r="0.45" fill="#222"/>
<circle cx="205.8" cy="89.8" r="0.45" fill="#222"/>
<circle cx="202.2" cy="92.4" r="0.45" fill="#222"/>
<circle cx="192.9" cy="88.9" r="0.45" fill="#222"/>
<circle cx="197.6" cy="92.0" r="0.45" fill="#222"/>
<circle cx="196.8" cy="90.9" r="0.45" fill="#222"/>
<circle cx="200.6" cy="89.1" r="0.45" fill="#222"/>
<circle cx="202.7" cy="92.4" r="0.45" fill="#222"/>
<circle cx="191.1" cy="90.1" r="0.45" fill="#222"/>
<circle cx="195.6" cy="90.0" r="0.45" fill="#222"/>
<circle cx="196.7" cy="93.1" r="0.45" fill="#222"/>
<circle cx="189.6" cy="92.5" r="0.45" fill="#222"/>
<circle cx="195.6" cy="89.9" r="0.45" fill="#222"/>
<circle cx="189.1" cy="88.0" r="0.45" fill="#222"/>
<circle cx="198.9" cy="93.6" r="0.45" fill="#222"/>
<circle cx="192.7" cy="92.8" r="0.45" fill="#222"/>
<circle cx="190.6" cy="92.5" r="0.45" fill="#222"/>
<circle cx="196.4" cy="90.5" r="0.45" fill="#222"/>
<circle cx="189.2" cy="90.8" r="0.45" fill="#222"/>
<circle cx="195.7" cy="93.7" r="0.45" fill="#222"/>
<circle cx="202.3" cy="91.5" r="0.45" fill="#222"/>
<circle cx="194.3" cy="91.8" r="0.45" fill="#222"/>
<circle cx="203.3" cy="93.0" r="0.45" fill="#222"/>
<circle cx="204.3" cy="93.9" r="0.45" fill="#222"/>
<circle cx="196.8" cy="89.4" r="0.45" fill="#222"/>
<circle cx="206.5" cy="93.6" r="0.45" fill="#222"/>
<circle cx="204.0" cy="90.6" r="0.45" fill="#222"/>
<circle cx="199.2" cy="90.4" r="0.45" fill="#222"/>
<circle cx="196.2" cy="91.2" r="0.45" fill="#222"/>
<circle cx="200.7" cy="88.7" r="0.45" fill="#222"/>
<circle cx="201.4" cy="91.1" r="0.45" fill="#222"/>
<circle cx="197.1" cy="91.7" r="0.45" fill="#222"/>
<circle cx="196.1" cy="91.8" r="0.45" fill="#222"/>
<circle cx="207.4" cy="89.4" r="0.45" fill="#222"/>
<circle cx="203.4" cy="89.5" r="0.45" fill="#222"/>
<circle cx="196.9" cy="91.6" r="0.45" fill="#222"/>
<circle cx="194.8" cy="93.3" r="0.45" fill="#222"/>
<circle cx="189.0" cy="91.5" r="0.45" fill="#222"/>
<circle cx="198.4" cy="91.2" r="0.45" fill="#222"/>
<circle cx="197.1" cy="89.3" r="0.45" fill="#222"/>
<circle cx="198.8" cy="93.5" r="0.45" fill="#222"/>
<circle cx="202.1" cy="90.4" r="0.45" fill="#222"/>
<circle cx="190.4" cy="90.0" r="0.45" fill="#222"/>
<circle cx="203.1" cy="89.6" r="0.45" fill="#222"/>
<circle cx="212.4" cy="87.5" r="0.42" fill="#777"/>
<circle cx="232.5" cy="92.6" r="0.42" fill="#777"/>
<circle cx="208.0" cy="91.8" r="0.42" fill="#777"/>
<circle cx="215.7" cy="90.1" r="0.42" fill="#777"/>
<circle cx="215.7" cy="89.0" r="0.42" fill="#777"/>
<circle cx="212.7" cy="91.7" r="0.42" fill="#777"/>
<circle cx="211.2" cy="92.5" r="0.42" fill="#777"/>
<circle cx="209.2" cy="90.9" r="0.42" fill="#777"/>
<circle cx="215.2" cy="89.3" r="0.42" fill="#777"/>
<circle cx="209.3" cy="90.8" r="0.42" fill="#777"/>
<circle cx="210.8" cy="90.1" r="0.42" fill="#777"/>
<circle cx="218.7" cy="89.9" r="0.42" fill="#777"/>
<circle cx="224.5" cy="87.3" r="0.42" fill="#777"/>
<circle cx="231.2" cy="93.2" r="0.42" fill="#777"/>
<circle cx="223.6" cy="89.9" r="0.42" fill="#777"/>
<circle cx="206.7" cy="91.2" r="0.42" fill="#777"/>
<circle cx="228.3" cy="91.3" r="0.42" fill="#777"/>
<circle cx="223.7" cy="90.3" r="0.42" fill="#777"/>
<circle cx="213.0" cy="90.2" r="0.42" fill="#777"/>
<circle cx="208.6" cy="88.0" r="0.42" fill="#777"/>
<circle cx="211.8" cy="87.7" r="0.42" fill="#777"/>
<circle cx="206.5" cy="91.7" r="0.42" fill="#777"/>
<circle cx="229.5" cy="92.4" r="0.42" fill="#777"/>
<circle cx="226.3" cy="90.4" r="0.42" fill="#777"/>
<circle cx="207.5" cy="91.3" r="0.42" fill="#777"/>
<circle cx="208.4" cy="91.4" r="0.42" fill="#777"/>
<circle cx="232.7" cy="89.4" r="0.42" fill="#777"/>
<circle cx="229.9" cy="91.6" r="0.42" fill="#777"/>
<circle cx="226.9" cy="89.5" r="0.42" fill="#777"/>
<circle cx="207.9" cy="92.6" r="0.42" fill="#777"/>
<circle cx="217.2" cy="92.3" r="0.42" fill="#777"/>
<circle cx="209.5" cy="91.1" r="0.42" fill="#777"/>
<circle cx="229.8" cy="91.4" r="0.42" fill="#777"/>
<circle cx="215.2" cy="89.7" r="0.42" fill="#777"/>
<circle cx="224.0" cy="89.1" r="0.42" fill="#777"/>
<circle cx="227.6" cy="92.9" r="0.42" fill="#777"/>
<circle cx="208.0" cy="92.1" r="0.42" fill="#777"/>
<circle cx="219.5" cy="91.2" r="0.42" fill="#777"/>
<circle cx="213.6" cy="93.9" r="0.42" fill="#777"/>
<circle cx="225.7" cy="91.3" r="0.42" fill="#777"/>
<circle cx="215.9" cy="94.1" r="0.42" fill="#777"/>
<circle cx="217.9" cy="91.9" r="0.42" fill="#777"/>
<circle cx="206.9" cy="90.2" r="0.42" fill="#777"/>
<circle cx="229.0" cy="93.0" r="0.42" fill="#777"/>
<circle cx="216.5" cy="90.4" r="0.42" fill="#777"/>
<circle cx="210.3" cy="90.3" r="0.42" fill="#777"/>
<circle cx="229.7" cy="90.6" r="0.42" fill="#777"/>
<circle cx="219.6" cy="91.6" r="0.42" fill="#777"/>
<circle cx="207.8" cy="91.6" r="0.42" fill="#777"/>
<circle cx="219.5" cy="92.7" r="0.42" fill="#777"/>
<circle cx="221.0" cy="90.7" r="0.42" fill="#777"/>
<circle cx="206.8" cy="89.5" r="0.42" fill="#777"/>
<circle cx="223.8" cy="92.7" r="0.42" fill="#777"/>
<circle cx="214.2" cy="91.7" r="0.42" fill="#777"/>
<circle cx="222.1" cy="90.8" r="0.42" fill="#777"/>
<circle cx="221.4" cy="90.0" r="0.42" fill="#777"/>
<circle cx="222.7" cy="90.3" r="0.42" fill="#777"/>
<circle cx="229.9" cy="91.2" r="0.42" fill="#777"/>
<circle cx="219.9" cy="92.1" r="0.42" fill="#777"/>
<circle cx="232.5" cy="91.5" r="0.42" fill="#777"/>
<circle cx="210.0" cy="89.0" r="0.42" fill="#777"/>
<circle cx="227.0" cy="92.8" r="0.42" fill="#777"/>
<circle cx="220.9" cy="91.1" r="0.42" fill="#777"/>
<circle cx="207.2" cy="90.7" r="0.42" fill="#777"/>
<circle cx="232.2" cy="91.2" r="0.42" fill="#777"/>
<circle cx="206.5" cy="90.7" r="0.42" fill="#777"/>
<circle cx="210.2" cy="92.1" r="0.42" fill="#777"/>
<circle cx="222.1" cy="90.7" r="0.42" fill="#777"/>
<circle cx="230.6" cy="88.9" r="0.42" fill="#777"/>
<circle cx="210.8" cy="88.5" r="0.42" fill="#777"/>
<circle cx="208.4" cy="93.6" r="0.42" fill="#777"/>
<circle cx="207.4" cy="91.4" r="0.42" fill="#777"/>
<circle cx="232.1" cy="90.9" r="0.42" fill="#777"/>
<circle cx="226.4" cy="90.2" r="0.42" fill="#777"/>
<circle cx="208.6" cy="90.4" r="0.42" fill="#777"/>
<circle cx="225.8" cy="91.0" r="0.42" fill="#777"/>
<circle cx="229.2" cy="91.2" r="0.42" fill="#777"/>
<circle cx="227.9" cy="91.0" r="0.42" fill="#777"/>
<circle cx="218.6" cy="91.9" r="0.42" fill="#777"/>
<circle cx="220.5" cy="89.5" r="0.42" fill="#777"/>
<circle cx="219.7" cy="91.3" r="0.42" fill="#777"/>
<circle cx="206.6" cy="90.5" r="0.42" fill="#777"/>
<circle cx="218.3" cy="90.7" r="0.42" fill="#777"/>
<circle cx="206.0" cy="92.6" r="0.42" fill="#777"/>
<circle cx="224.4" cy="93.9" r="0.42" fill="#777"/>
<circle cx="226.6" cy="91.5" r="0.42" fill="#777"/>
<circle cx="215.8" cy="92.7" r="0.42" fill="#777"/>
<circle cx="209.5" cy="92.6" r="0.42" fill="#777"/>
<circle cx="215.0" cy="94.3" r="0.42" fill="#777"/>
<circle cx="218.3" cy="93.7" r="0.42" fill="#777"/>
<circle cx="213.0" cy="93.1" r="0.42" fill="#777"/>
<circle cx="227.8" cy="92.5" r="0.42" fill="#777"/>
<circle cx="227.8" cy="92.3" r="0.42" fill="#777"/>
<circle cx="211.7" cy="92.0" r="0.42" fill="#777"/>
<circle cx="225.0" cy="92.3" r="0.42" fill="#777"/>
<circle cx="232.3" cy="92.7" r="0.42" fill="#777"/>
<circle cx="225.2" cy="91.7" r="0.42" fill="#777"/>
<circle cx="207.6" cy="91.1" r="0.42" fill="#777"/>
<circle cx="222.7" cy="89.6" r="0.42" fill="#777"/>
<circle cx="215.7" cy="90.0" r="0.42" fill="#777"/>
<circle cx="214.4" cy="89.4" r="0.42" fill="#777"/>
<circle cx="230.1" cy="89.7" r="0.42" fill="#777"/>
<circle cx="224.0" cy="92.1" r="0.42" fill="#777"/>
<circle cx="227.4" cy="87.9" r="0.42" fill="#777"/>
<circle cx="223.5" cy="93.3" r="0.42" fill="#777"/>
<circle cx="227.9" cy="91.5" r="0.42" fill="#777"/>
<circle cx="215.0" cy="91.8" r="0.42" fill="#777"/>
<circle cx="231.0" cy="90.4" r="0.42" fill="#777"/>
<circle cx="215.3" cy="90.8" r="0.42" fill="#777"/>
<circle cx="210.5" cy="89.9" r="0.5" fill="#222"/>
<circle cx="211.2" cy="90.6" r="0.5" fill="#222"/>
<circle cx="212.6" cy="91.4" r="0.5" fill="#222"/>
<circle cx="220.6" cy="89.2" r="0.5" fill="#222"/>
<circle cx="217.3" cy="88.4" r="0.5" fill="#222"/>
<circle cx="218.4" cy="93.1" r="0.5" fill="#222"/>
<circle cx="210.1" cy="90.8" r="0.5" fill="#222"/>
<circle cx="209.7" cy="90.7" r="0.5" fill="#222"/>
<circle cx="209.4" cy="91.0" r="0.5" fill="#222"/>
<circle cx="219.2" cy="91.9" r="0.5" fill="#222"/>
<circle cx="217.4" cy="90.3" r="0.5" fill="#222"/>
<circle cx="217.5" cy="92.7" r="0.5" fill="#222"/>
<circle cx="213.9" cy="89.4" r="0.5" fill="#222"/>
<circle cx="207.6" cy="91.4" r="0.5" fill="#222"/>
<circle cx="215.3" cy="89.9" r="0.5" fill="#222"/>
<circle cx="211.5" cy="87.6" r="0.5" fill="#222"/>
<circle cx="208.4" cy="90.1" r="0.5" fill="#222"/>
<circle cx="213.9" cy="89.9" r="0.5" fill="#222"/>
<circle cx="219.9" cy="89.6" r="0.5" fill="#222"/>
<circle cx="212.1" cy="92.6" r="0.5" fill="#222"/>
<circle cx="220.4" cy="89.9" r="0.5" fill="#222"/>
<circle cx="207.3" cy="91.2" r="0.5" fill="#222"/>
<circle cx="219.5" cy="91.9" r="0.5" fill="#222"/>
<circle cx="206.2" cy="90.8" r="0.5" fill="#222"/>
<circle cx="220.7" cy="93.0" r="0.5" fill="#222"/>
<circle cx="208.6" cy="89.1" r="0.5" fill="#222"/>
<circle cx="216.3" cy="91.7" r="0.5" fill="#222"/>
<circle cx="217.1" cy="90.9" r="0.5" fill="#222"/>
<circle cx="209.8" cy="89.9" r="0.5" fill="#222"/>
<circle cx="206.4" cy="90.6" r="0.5" fill="#222"/>
<circle cx="209.9" cy="90.1" r="0.5" fill="#222"/>
<circle cx="220.3" cy="89.8" r="0.5" fill="#222"/>
<circle cx="215.7" cy="89.5" r="0.5" fill="#222"/>
<circle cx="214.9" cy="90.5" r="0.5" fill="#222"/>
<circle cx="206.9" cy="89.9" r="0.5" fill="#222"/>
<circle cx="207.0" cy="92.1" r="0.5" fill="#222"/>
<circle cx="208.1" cy="91.0" r="0.5" fill="#222"/>
<circle cx="207.7" cy="87.5" r="0.5" fill="#222"/>
<circle cx="216.2" cy="91.0" r="0.5" fill="#222"/>
<circle cx="210.1" cy="91.0" r="0.5" fill="#222"/>
<circle cx="204.8" cy="82.4" r="0.38" fill="#808080"/>
<circle cx="211.0" cy="79.1" r="0.38" fill="#808080"/>
<circle cx="215.4" cy="81.4" r="0.38" fill="#808080"/>
<circle cx="224.1" cy="75.9" r="0.38" fill="#808080"/>
<circle cx="212.2" cy="79.0" r="0.38" fill="#808080"/>
<circle cx="227.3" cy="76.3" r="0.38" fill="#808080"/>
<circle cx="208.7" cy="83.7" r="0.38" fill="#808080"/>
<circle cx="228.0" cy="83.1" r="0.38" fill="#808080"/>
<circle cx="210.3" cy="78.5" r="0.38" fill="#808080"/>
<circle cx="202.0" cy="81.5" r="0.38" fill="#808080"/>
<circle cx="206.6" cy="75.4" r="0.38" fill="#808080"/>
<circle cx="222.0" cy="79.2" r="0.38" fill="#808080"/>
<circle cx="207.3" cy="81.7" r="0.38" fill="#808080"/>
<circle cx="206.1" cy="73.8" r="0.38" fill="#808080"/>
<circle cx="213.5" cy="77.3" r="0.38" fill="#808080"/>
<circle cx="221.8" cy="82.3" r="0.38" fill="#808080"/>
<circle cx="203.7" cy="84.0" r="0.38" fill="#808080"/>
<circle cx="202.2" cy="83.9" r="0.38" fill="#808080"/>
<circle cx="231.4" cy="83.4" r="0.38" fill="#808080"/>
<circle cx="212.9" cy="85.0" r="0.38" fill="#808080"/>
<circle cx="226.0" cy="82.8" r="0.38" fill="#808080"/>
<circle cx="209.5" cy="81.4" r="0.38" fill="#808080"/>
<circle cx="205.1" cy="81.0" r="0.38" fill="#808080"/>
<circle cx="209.3" cy="84.3" r="0.38" fill="#808080"/>
<circle cx="213.4" cy="81.6" r="0.38" fill="#808080"/>
<circle cx="225.3" cy="85.0" r="0.38" fill="#808080"/>
<circle cx="208.4" cy="82.3" r="0.38" fill="#808080"/>
<circle cx="213.5" cy="80.8" r="0.38" fill="#808080"/>
<circle cx="216.2" cy="80.1" r="0.38" fill="#808080"/>
<circle cx="228.5" cy="78.5" r="0.38" fill="#808080"/>
<circle cx="227.5" cy="83.2" r="0.38" fill="#808080"/>
<circle cx="208.9" cy="80.2" r="0.38" fill="#808080"/>
<circle cx="205.3" cy="84.5" r="0.38" fill="#808080"/>
<circle cx="215.9" cy="85.0" r="0.38" fill="#808080"/>
<circle cx="205.3" cy="83.3" r="0.38" fill="#808080"/>
<circle cx="216.5" cy="83.8" r="0.38" fill="#808080"/>
<circle cx="215.3" cy="82.3" r="0.38" fill="#808080"/>
<circle cx="205.3" cy="81.2" r="0.38" fill="#808080"/>
<circle cx="216.2" cy="83.5" r="0.38" fill="#808080"/>
<circle cx="230.5" cy="83.7" r="0.38" fill="#808080"/>
<circle cx="208.6" cy="84.8" r="0.38" fill="#808080"/>
<circle cx="224.6" cy="76.2" r="0.38" fill="#808080"/>
<circle cx="231.3" cy="81.6" r="0.38" fill="#808080"/>
<circle cx="228.1" cy="76.3" r="0.38" fill="#808080"/>
<circle cx="217.9" cy="77.9" r="0.38" fill="#808080"/>
<circle cx="209.1" cy="80.7" r="0.38" fill="#808080"/>
<circle cx="208.2" cy="76.7" r="0.38" fill="#808080"/>
<circle cx="204.3" cy="84.4" r="0.38" fill="#808080"/>
<circle cx="215.9" cy="74.2" r="0.38" fill="#808080"/>
<circle cx="224.2" cy="80.6" r="0.38" fill="#808080"/>
<circle cx="211.5" cy="83.0" r="0.38" fill="#808080"/>
<circle cx="208.0" cy="83.0" r="0.38" fill="#808080"/>
<circle cx="205.4" cy="81.5" r="0.38" fill="#808080"/>
<circle cx="232.0" cy="82.4" r="0.38" fill="#808080"/>
<circle cx="202.0" cy="85.1" r="0.38" fill="#808080"/>
<circle cx="221.8" cy="84.4" r="0.38" fill="#808080"/>
<circle cx="216.2" cy="85.4" r="0.38" fill="#808080"/>
<circle cx="224.5" cy="81.9" r="0.38" fill="#808080"/>
<circle cx="217.1" cy="84.7" r="0.38" fill="#808080"/>
<circle cx="220.3" cy="83.9" r="0.38" fill="#808080"/>
<circle cx="226.5" cy="83.2" r="0.38" fill="#808080"/>
<circle cx="230.8" cy="84.9" r="0.38" fill="#808080"/>
<circle cx="213.0" cy="75.7" r="0.38" fill="#808080"/>
<circle cx="229.5" cy="84.0" r="0.38" fill="#808080"/>
<circle cx="220.1" cy="82.2" r="0.38" fill="#808080"/>
<circle cx="229.5" cy="82.5" r="0.38" fill="#808080"/>
<circle cx="202.8" cy="83.8" r="0.38" fill="#808080"/>
<circle cx="215.2" cy="83.4" r="0.38" fill="#808080"/>
<circle cx="224.8" cy="83.0" r="0.38" fill="#808080"/>
<circle cx="219.7" cy="80.8" r="0.38" fill="#808080"/>
<text x="204.0" y="63.7" font-size="4.7" font-weight="normal" text-anchor="start" fill="#333" stroke="#333" stroke-width="0.04">Fas ag.ab.+</text>
<text x="204.0" y="69.2" font-size="4.7" font-weight="normal" text-anchor="start" fill="#333" stroke="#333" stroke-width="0.04">Collagen+</text>
<text x="204.0" y="74.7" font-size="4.7" font-weight="normal" text-anchor="start" fill="#333" stroke="#333" stroke-width="0.04">DDR1 blocking</text>
<text x="204.0" y="80.2" font-size="4.7" font-weight="normal" text-anchor="start" fill="#333" stroke="#333" stroke-width="0.04">protein</text>
<text x="233.8" y="83.5" font-size="4.7" font-weight="normal" text-anchor="end" fill="#333" stroke="#333" stroke-width="0.04">7.8%</text>
<text x="233.2" y="92.6" font-size="4.7" font-weight="normal" text-anchor="end" fill="#333" stroke="#333" stroke-width="0.04">28.1%</text>
<line x1="186.2" y1="95.4" x2="186.2" y2="96.9" stroke="#333" stroke-width="0.5"/>
<line x1="184.1" y1="94.8" x2="185.6" y2="94.8" stroke="#333" stroke-width="0.5"/>
<line x1="189.8" y1="95.4" x2="189.8" y2="96.2" stroke="#777" stroke-width="0.35"/>
<line x1="184.79999999999998" y1="92.0" x2="185.6" y2="92.0" stroke="#777" stroke-width="0.35"/>
<line x1="191.9" y1="95.4" x2="191.9" y2="96.2" stroke="#777" stroke-width="0.35"/>
<line x1="184.79999999999998" y1="90.4" x2="185.6" y2="90.4" stroke="#777" stroke-width="0.35"/>
<line x1="194.5" y1="95.4" x2="194.5" y2="96.2" stroke="#777" stroke-width="0.35"/>
<line x1="184.79999999999998" y1="88.4" x2="185.6" y2="88.4" stroke="#777" stroke-width="0.35"/>
<line x1="196.3" y1="95.4" x2="196.3" y2="96.2" stroke="#777" stroke-width="0.35"/>
<line x1="184.79999999999998" y1="87.0" x2="185.6" y2="87.0" stroke="#777" stroke-width="0.35"/>
<text x="186.6" y="100.0" font-size="2.7" text-anchor="middle" fill="#666">10<tspan dy="-1.1" font-size="1.9">0</tspan></text>
<line x1="198.1" y1="95.4" x2="198.1" y2="96.9" stroke="#333" stroke-width="0.5"/>
<line x1="184.1" y1="85.6" x2="185.6" y2="85.6" stroke="#333" stroke-width="0.5"/>
<line x1="201.7" y1="95.4" x2="201.7" y2="96.2" stroke="#777" stroke-width="0.35"/>
<line x1="184.79999999999998" y1="82.8" x2="185.6" y2="82.8" stroke="#777" stroke-width="0.35"/>
<line x1="203.8" y1="95.4" x2="203.8" y2="96.2" stroke="#777" stroke-width="0.35"/>
<line x1="184.79999999999998" y1="81.2" x2="185.6" y2="81.2" stroke="#777" stroke-width="0.35"/>
<line x1="206.5" y1="95.4" x2="206.5" y2="96.2" stroke="#777" stroke-width="0.35"/>
<line x1="184.79999999999998" y1="79.1" x2="185.6" y2="79.1" stroke="#777" stroke-width="0.35"/>
<line x1="208.2" y1="95.4" x2="208.2" y2="96.2" stroke="#777" stroke-width="0.35"/>
<line x1="184.79999999999998" y1="77.8" x2="185.6" y2="77.8" stroke="#777" stroke-width="0.35"/>
<text x="198.5" y="100.0" font-size="2.7" text-anchor="middle" fill="#666">10<tspan dy="-1.1" font-size="1.9">1</tspan></text>
<line x1="210.0" y1="95.4" x2="210.0" y2="96.9" stroke="#333" stroke-width="0.5"/>
<line x1="184.1" y1="76.4" x2="185.6" y2="76.4" stroke="#333" stroke-width="0.5"/>
<line x1="213.6" y1="95.4" x2="213.6" y2="96.2" stroke="#777" stroke-width="0.35"/>
<line x1="184.79999999999998" y1="73.6" x2="185.6" y2="73.6" stroke="#777" stroke-width="0.35"/>
<line x1="215.7" y1="95.4" x2="215.7" y2="96.2" stroke="#777" stroke-width="0.35"/>
<line x1="184.79999999999998" y1="71.9" x2="185.6" y2="71.9" stroke="#777" stroke-width="0.35"/>
<line x1="218.4" y1="95.4" x2="218.4" y2="96.2" stroke="#777" stroke-width="0.35"/>
<line x1="184.79999999999998" y1="69.9" x2="185.6" y2="69.9" stroke="#777" stroke-width="0.35"/>
<line x1="220.1" y1="95.4" x2="220.1" y2="96.2" stroke="#777" stroke-width="0.35"/>
<line x1="184.79999999999998" y1="68.6" x2="185.6" y2="68.6" stroke="#777" stroke-width="0.35"/>
<text x="210.4" y="100.0" font-size="2.7" text-anchor="middle" fill="#666">10<tspan dy="-1.1" font-size="1.9">2</tspan></text>
<line x1="222.0" y1="95.4" x2="222.0" y2="96.9" stroke="#333" stroke-width="0.5"/>
<line x1="184.1" y1="67.1" x2="185.6" y2="67.1" stroke="#333" stroke-width="0.5"/>
<line x1="225.6" y1="95.4" x2="225.6" y2="96.2" stroke="#777" stroke-width="0.35"/>
<line x1="184.79999999999998" y1="64.3" x2="185.6" y2="64.3" stroke="#777" stroke-width="0.35"/>
<line x1="227.7" y1="95.4" x2="227.7" y2="96.2" stroke="#777" stroke-width="0.35"/>
<line x1="184.79999999999998" y1="62.7" x2="185.6" y2="62.7" stroke="#777" stroke-width="0.35"/>
<line x1="230.3" y1="95.4" x2="230.3" y2="96.2" stroke="#777" stroke-width="0.35"/>
<line x1="184.79999999999998" y1="60.7" x2="185.6" y2="60.7" stroke="#777" stroke-width="0.35"/>
<line x1="232.1" y1="95.4" x2="232.1" y2="96.2" stroke="#777" stroke-width="0.35"/>
<line x1="184.79999999999998" y1="59.3" x2="185.6" y2="59.3" stroke="#777" stroke-width="0.35"/>
<text x="222.4" y="100.0" font-size="2.7" text-anchor="middle" fill="#666">10<tspan dy="-1.1" font-size="1.9">3</tspan></text>
<line x1="233.9" y1="95.4" x2="233.9" y2="96.9" stroke="#333" stroke-width="0.5"/>
<line x1="184.1" y1="57.9" x2="185.6" y2="57.9" stroke="#333" stroke-width="0.5"/>
<text x="234.3" y="100.0" font-size="2.7" text-anchor="middle" fill="#666">10<tspan dy="-1.1" font-size="1.9">4</tspan></text>
<text x="210.1" y="105.0" font-size="2.8" font-weight="normal" text-anchor="middle" fill="#444" >FL1-H</text>
<line x1="9.8" y1="103.1" x2="9.8" y2="56" stroke="#111" stroke-width="2.6"/>
<polygon points="9.8,49.8 5.4,58.2 14.2,58.2" fill="#111"/>
<line x1="8.5" y1="101.8" x2="55" y2="101.8" stroke="#111" stroke-width="2.6"/>
<polygon points="61.8,101.8 53.2,97.4 53.2,106.2" fill="#111"/>
<text x="8" y="84.2" font-size="7.5" font-weight="normal" text-anchor="middle" fill="#222" transform="rotate(-90 8 84.2)">7AAD</text>
<text x="17.6" y="110.2" font-size="6.8" font-weight="normal" text-anchor="start" fill="#222" >Annexin V</text>
<line x1="22.2" y1="131" x2="22.2" y2="265.5" stroke="#222" stroke-width="0.9"/>
<line x1="21.8" y1="265.5" x2="252.5" y2="265.5" stroke="#333" stroke-width="0.8"/>
<line x1="22.2" y1="265.5" x2="24.599999999999998" y2="265.5" stroke="#222" stroke-width="0.8"/>
<text x="16.9" y="268.4" font-size="6.8" font-weight="bold" text-anchor="end" fill="#222" stroke="#222" stroke-width="0.15">0</text>
<line x1="22.2" y1="238.7" x2="24.599999999999998" y2="238.7" stroke="#222" stroke-width="0.8"/>
<text x="16.9" y="241.6" font-size="6.8" font-weight="bold" text-anchor="end" fill="#222" stroke="#222" stroke-width="0.15">10</text>
<line x1="22.2" y1="211.8" x2="24.599999999999998" y2="211.8" stroke="#222" stroke-width="0.8"/>
<text x="16.9" y="214.7" font-size="6.8" font-weight="bold" text-anchor="end" fill="#222" stroke="#222" stroke-width="0.15">20</text>
<line x1="22.2" y1="185.0" x2="24.599999999999998" y2="185.0" stroke="#222" stroke-width="0.8"/>
<text x="16.9" y="187.9" font-size="6.8" font-weight="bold" text-anchor="end" fill="#222" stroke="#222" stroke-width="0.15">30</text>
<line x1="22.2" y1="158.1" x2="24.599999999999998" y2="158.1" stroke="#222" stroke-width="0.8"/>
<text x="16.9" y="161.0" font-size="6.8" font-weight="bold" text-anchor="end" fill="#222" stroke="#222" stroke-width="0.15">40</text>
<line x1="22.2" y1="131.3" x2="24.599999999999998" y2="131.3" stroke="#222" stroke-width="0.8"/>
<text x="16.9" y="134.2" font-size="6.8" font-weight="bold" text-anchor="end" fill="#222" stroke="#222" stroke-width="0.15">50</text>
<text x="5.9" y="199.4" font-size="6.7" font-weight="normal" text-anchor="middle" fill="#333" textLength="94" lengthAdjust="spacingAndGlyphs" transform="rotate(-90 5.9 199.4)">Annexin V positive percentage</text>
<line x1="35.2" y1="244.8" x2="35.2" y2="251.5" stroke="#888" stroke-width="0.6"/>
<line x1="34.300000000000004" y1="244.8" x2="36.1" y2="244.8" stroke="#888" stroke-width="0.6"/>
<rect x="30.2" y="251.5" width="10" height="14.0" fill="#1a1a1a"/>
<line x1="60.9" y1="154.1" x2="60.9" y2="179.1" stroke="#888" stroke-width="0.6"/>
<line x1="60.0" y1="154.1" x2="61.8" y2="154.1" stroke="#888" stroke-width="0.6"/>
<rect x="55.9" y="179.1" width="10" height="86.4" fill="#1a1a1a"/>
<line x1="86.2" y1="245.4" x2="86.2" y2="252.1" stroke="#888" stroke-width="0.6"/>
<line x1="85.3" y1="245.4" x2="87.10000000000001" y2="245.4" stroke="#888" stroke-width="0.6"/>
<rect x="81.2" y="252.1" width="10" height="13.4" fill="#1a1a1a"/>
<line x1="111.9" y1="212.1" x2="111.9" y2="223.9" stroke="#888" stroke-width="0.6"/>
<line x1="111.0" y1="212.1" x2="112.80000000000001" y2="212.1" stroke="#888" stroke-width="0.6"/>
<rect x="106.9" y="223.9" width="10" height="41.6" fill="#1a1a1a"/>
<line x1="137.8" y1="210.7" x2="137.8" y2="224.4" stroke="#888" stroke-width="0.6"/>
<line x1="136.9" y1="210.7" x2="138.70000000000002" y2="210.7" stroke="#888" stroke-width="0.6"/>
<rect x="132.8" y="224.4" width="10" height="41.1" fill="#1a1a1a"/>
<line x1="162.8" y1="213.2" x2="162.8" y2="227.4" stroke="#888" stroke-width="0.6"/>
<line x1="161.9" y1="213.2" x2="163.70000000000002" y2="213.2" stroke="#888" stroke-width="0.6"/>
<rect x="157.8" y="227.4" width="10" height="38.1" fill="#1a1a1a"/>
<line x1="188.3" y1="151.4" x2="188.3" y2="176.1" stroke="#888" stroke-width="0.6"/>
<line x1="187.4" y1="151.4" x2="189.20000000000002" y2="151.4" stroke="#888" stroke-width="0.6"/>
<rect x="183.3" y="176.1" width="10" height="89.4" fill="#1a1a1a"/>
<line x1="214.1" y1="163.5" x2="214.1" y2="187.7" stroke="#888" stroke-width="0.6"/>
<line x1="213.2" y1="163.5" x2="215.0" y2="163.5" stroke="#888" stroke-width="0.6"/>
<rect x="209.1" y="187.7" width="10" height="77.8" fill="#1a1a1a"/>
<line x1="239.5" y1="209.7" x2="239.5" y2="226.0" stroke="#888" stroke-width="0.6"/>
<line x1="238.6" y1="209.7" x2="240.4" y2="209.7" stroke="#888" stroke-width="0.6"/>
<rect x="234.5" y="226.0" width="10" height="39.5" fill="#1a1a1a"/>
<line x1="60.3" y1="134.2" x2="87.4" y2="134.2" stroke="#777" stroke-width="0.9"/>
<text x="73.5" y="134.45" font-size="7.6" font-weight="bold" text-anchor="middle" fill="#111" stroke="#111" stroke-width="0.25">*</text>
<line x1="110.8" y1="134.2" x2="213.8" y2="134.2" stroke="#777" stroke-width="0.9"/>
<text x="163.9" y="134.45" font-size="7.6" font-weight="bold" text-anchor="middle" fill="#111" stroke="#111" stroke-width="0.25">*</text>
<line x1="60.3" y1="141.0" x2="160.7" y2="141.0" stroke="#777" stroke-width="0.9"/>
<text x="110" y="140.80" font-size="7.6" font-weight="bold" text-anchor="middle" fill="#111" stroke="#111" stroke-width="0.25">*</text>
<line x1="60.3" y1="147.8" x2="133.6" y2="147.8" stroke="#777" stroke-width="0.9"/>
<text x="100.9" y="147.65" font-size="7.6" font-weight="bold" text-anchor="middle" fill="#111" stroke="#111" stroke-width="0.25">*</text>
<line x1="60.3" y1="154.3" x2="110.6" y2="154.3" stroke="#777" stroke-width="0.9"/>
<text x="84" y="154.15" font-size="7.6" font-weight="bold" text-anchor="middle" fill="#111" stroke="#111" stroke-width="0.25">*</text>
<line x1="60.6" y1="154.3" x2="60.6" y2="179" stroke="#888" stroke-width="0.7"/>
<g transform="translate(38.2 272.2) rotate(-61)">
<text x="-45.0" y="0.0" font-size="7.1" fill="#333">No stimulation</text>
</g>
<g transform="translate(61.6 272.7) rotate(-61)">
<text x="-33.5" y="0.0" font-size="7.1" fill="#333">Fas ag.ab.</text>
</g>
<g transform="translate(80.9 276.0) rotate(-61)">
<text x="-54.1" y="0.0" font-size="7.1" fill="#333">Isotype control of</text>
<text x="-54.1" y="8.2" font-size="7.1" fill="#333">Fas ag.ab.</text>
</g>
<g transform="translate(109.6 272.2) rotate(-61)">
<text x="-67.7" y="0.0" font-size="7.1" fill="#333">Fas ag.ab.+ Collagen</text>
</g>
<g transform="translate(135.5 270.2) rotate(-61)">
<text x="-63.7" y="0.0" font-size="7.1" fill="#333">Fasag.ab.+Collagen</text>
<text x="-63.7" y="8.2" font-size="7.1" fill="#333">+β1-integrin Ab.</text>
</g>
<g transform="translate(160.0 270.2) rotate(-61)">
<text x="-59.0" y="0.0" font-size="7.1" fill="#333">Fas ag.ab.+ DDR1</text>
<text x="-59.0" y="8.2" font-size="7.1" fill="#333">agonistic Ab.</text>
</g>
<g transform="translate(181.2 272.7) rotate(-61)">
<text x="-37.7" y="0.0" font-size="7.1" fill="#333">Fas ag.ab.+</text>
<text x="-37.7" y="8.2" font-size="7.1" fill="#333">Control IgM</text>
</g>
<g transform="translate(214.9 269.8) rotate(-61)">
<text x="-89.2" y="0.0" font-size="7.1" fill="#333">Fas ag.ab.+Collagen+DDR1</text>
<text x="-89.2" y="8.2" font-size="7.1" fill="#333">blocking protein</text>
</g>
<g transform="translate(241.9 270.6) rotate(-61)">
<text x="-94.7" y="0.0" font-size="7.1" fill="#333">Fas ag.ab.+Collagen+ Control</text>
<text x="-94.7" y="8.2" font-size="7.1" fill="#333">protein</text>
</g>
<line x1="329.3" y1="19.0" x2="329.3" y2="140.6" stroke="#222" stroke-width="0.9"/>
<line x1="328.90000000000003" y1="140.6" x2="520" y2="140.6" stroke="#222" stroke-width="0.9"/>
<line x1="329.3" y1="140.6" x2="331.6" y2="140.6" stroke="#222" stroke-width="0.8"/>
<text x="324.90000000000003" y="143.6" font-size="6.0" font-weight="bold" text-anchor="end" fill="#222" stroke="#222" stroke-width="0.15">0</text>
<line x1="329.3" y1="120.3" x2="331.6" y2="120.3" stroke="#222" stroke-width="0.8"/>
<text x="324.90000000000003" y="123.3" font-size="6.0" font-weight="bold" text-anchor="end" fill="#222" stroke="#222" stroke-width="0.15">20</text>
<line x1="329.3" y1="100.1" x2="331.6" y2="100.1" stroke="#222" stroke-width="0.8"/>
<text x="324.90000000000003" y="103.1" font-size="6.0" font-weight="bold" text-anchor="end" fill="#222" stroke="#222" stroke-width="0.15">40</text>
<line x1="329.3" y1="79.8" x2="331.6" y2="79.8" stroke="#222" stroke-width="0.8"/>
<text x="324.90000000000003" y="82.8" font-size="6.0" font-weight="bold" text-anchor="end" fill="#222" stroke="#222" stroke-width="0.15">60</text>
<line x1="329.3" y1="59.5" x2="331.6" y2="59.5" stroke="#222" stroke-width="0.8"/>
<text x="324.90000000000003" y="62.5" font-size="6.0" font-weight="bold" text-anchor="end" fill="#222" stroke="#222" stroke-width="0.15">80</text>
<line x1="329.3" y1="39.3" x2="331.6" y2="39.3" stroke="#222" stroke-width="0.8"/>
<text x="324.90000000000003" y="42.3" font-size="6.0" font-weight="bold" text-anchor="end" fill="#222" stroke="#222" stroke-width="0.15">100</text>
<line x1="329.3" y1="19.0" x2="331.6" y2="19.0" stroke="#222" stroke-width="0.8"/>
<text x="324.90000000000003" y="22.0" font-size="6.0" font-weight="bold" text-anchor="end" fill="#222" stroke="#222" stroke-width="0.15">120</text>
<text x="308.2" y="71.7" font-size="7.05" font-weight="normal" text-anchor="middle" fill="#333" transform="rotate(-90 308.2 71.7)">GM-CSF (pg/mL)</text>
<line x1="339.2" y1="121.9" x2="339.2" y2="128.2" stroke="#888" stroke-width="0.6"/>
<line x1="338.4" y1="121.9" x2="340.0" y2="121.9" stroke="#888" stroke-width="0.6"/>
<rect x="335.3" y="128.2" width="7.7" height="12.4" fill="#1a1a1a"/>
<line x1="346.9" y1="123.8" x2="346.9" y2="129.5" stroke="#888" stroke-width="0.6"/>
<line x1="346.1" y1="123.8" x2="347.7" y2="123.8" stroke="#888" stroke-width="0.6"/>
<rect x="343.0" y="129.5" width="7.7" height="11.1" fill="#fff" stroke="#444" stroke-width="0.6"/>
<line x1="366.0" y1="118.0" x2="366.0" y2="125.1" stroke="#888" stroke-width="0.6"/>
<line x1="365.2" y1="118.0" x2="366.8" y2="118.0" stroke="#888" stroke-width="0.6"/>
<rect x="362.2" y="125.1" width="7.7" height="15.5" fill="#1a1a1a"/>
<line x1="373.7" y1="119.4" x2="373.7" y2="126.0" stroke="#888" stroke-width="0.6"/>
<line x1="372.9" y1="119.4" x2="374.5" y2="119.4" stroke="#888" stroke-width="0.6"/>
<rect x="369.9" y="126.0" width="7.7" height="14.6" fill="#fff" stroke="#444" stroke-width="0.6"/>
<line x1="392.9" y1="35.7" x2="392.9" y2="72.5" stroke="#888" stroke-width="0.6"/>
<line x1="392.1" y1="35.7" x2="393.7" y2="35.7" stroke="#888" stroke-width="0.6"/>
<rect x="389.0" y="72.5" width="7.7" height="68.1" fill="#1a1a1a"/>
<line x1="400.6" y1="122.7" x2="400.6" y2="128.0" stroke="#888" stroke-width="0.6"/>
<line x1="399.8" y1="122.7" x2="401.4" y2="122.7" stroke="#888" stroke-width="0.6"/>
<rect x="396.7" y="128.0" width="7.7" height="12.6" fill="#fff" stroke="#444" stroke-width="0.6"/>
<line x1="419.7" y1="121.5" x2="419.7" y2="127.3" stroke="#888" stroke-width="0.6"/>
<line x1="418.9" y1="121.5" x2="420.5" y2="121.5" stroke="#888" stroke-width="0.6"/>
<rect x="415.9" y="127.3" width="7.7" height="13.3" fill="#1a1a1a"/>
<line x1="427.4" y1="122.5" x2="427.4" y2="128.2" stroke="#888" stroke-width="0.6"/>
<line x1="426.6" y1="122.5" x2="428.2" y2="122.5" stroke="#888" stroke-width="0.6"/>
<rect x="423.6" y="128.2" width="7.7" height="12.4" fill="#fff" stroke="#444" stroke-width="0.6"/>
<line x1="446.6" y1="39.5" x2="446.6" y2="73.9" stroke="#888" stroke-width="0.6"/>
<line x1="445.8" y1="39.5" x2="447.4" y2="39.5" stroke="#888" stroke-width="0.6"/>
<rect x="442.7" y="73.9" width="7.7" height="66.7" fill="#1a1a1a"/>
<line x1="454.3" y1="121.5" x2="454.3" y2="127.3" stroke="#888" stroke-width="0.6"/>
<line x1="453.5" y1="121.5" x2="455.1" y2="121.5" stroke="#888" stroke-width="0.6"/>
<rect x="450.4" y="127.3" width="7.7" height="13.3" fill="#fff" stroke="#444" stroke-width="0.6"/>
<line x1="473.4" y1="120.1" x2="473.4" y2="126.9" stroke="#888" stroke-width="0.6"/>
<line x1="472.6" y1="120.1" x2="474.2" y2="120.1" stroke="#888" stroke-width="0.6"/>
<rect x="469.6" y="126.9" width="7.7" height="13.7" fill="#1a1a1a"/>
<line x1="481.1" y1="122.7" x2="481.1" y2="128.2" stroke="#888" stroke-width="0.6"/>
<line x1="480.3" y1="122.7" x2="481.9" y2="122.7" stroke="#888" stroke-width="0.6"/>
<rect x="477.2" y="128.2" width="7.7" height="12.4" fill="#fff" stroke="#444" stroke-width="0.6"/>
<line x1="500.3" y1="117.0" x2="500.3" y2="124.3" stroke="#888" stroke-width="0.6"/>
<line x1="499.5" y1="117.0" x2="501.1" y2="117.0" stroke="#888" stroke-width="0.6"/>
<rect x="496.4" y="124.3" width="7.7" height="16.3" fill="#1a1a1a"/>
<line x1="508.0" y1="122.7" x2="508.0" y2="128.2" stroke="#888" stroke-width="0.6"/>
<line x1="507.2" y1="122.7" x2="508.8" y2="122.7" stroke="#888" stroke-width="0.6"/>
<rect x="504.1" y="128.2" width="7.7" height="12.4" fill="#fff" stroke="#444" stroke-width="0.6"/>
<line x1="356.5" y1="140.6" x2="356.5" y2="139.0" stroke="#444" stroke-width="0.6"/>
<line x1="383.3" y1="140.6" x2="383.3" y2="139.0" stroke="#444" stroke-width="0.6"/>
<line x1="410.2" y1="140.6" x2="410.2" y2="139.0" stroke="#444" stroke-width="0.6"/>
<line x1="437.0" y1="140.6" x2="437.0" y2="139.0" stroke="#444" stroke-width="0.6"/>
<line x1="463.9" y1="140.6" x2="463.9" y2="139.0" stroke="#444" stroke-width="0.6"/>
<line x1="490.7" y1="140.6" x2="490.7" y2="139.0" stroke="#444" stroke-width="0.6"/>
<line x1="517.5" y1="140.6" x2="517.5" y2="139.0" stroke="#444" stroke-width="0.6"/>
<line x1="394.8" y1="16.5" x2="495.6" y2="16.5" stroke="#777" stroke-width="0.9"/>
<text x="442.5" y="16.65" font-size="7.6" font-weight="bold" text-anchor="middle" fill="#111" stroke="#111" stroke-width="0.25">*</text>
<line x1="338.7" y1="26.4" x2="445.6" y2="26.4" stroke="#777" stroke-width="0.9"/>
<text x="395" y="26.05" font-size="7.6" font-weight="bold" text-anchor="middle" fill="#111" stroke="#111" stroke-width="0.25">*</text>
<line x1="338.7" y1="33.1" x2="392.3" y2="33.1" stroke="#777" stroke-width="0.9"/>
<text x="365" y="32.95" font-size="7.6" font-weight="bold" text-anchor="middle" fill="#111" stroke="#111" stroke-width="0.25">*</text>
<line x1="445.3" y1="33.1" x2="468.8" y2="33.1" stroke="#777" stroke-width="0.9"/>
<text x="458.5" y="32.95" font-size="7.6" font-weight="bold" text-anchor="middle" fill="#111" stroke="#111" stroke-width="0.25">*</text>
<line x1="329.3" y1="149.3" x2="329.3" y2="270.1" stroke="#222" stroke-width="0.9"/>
<line x1="328.90000000000003" y1="270.1" x2="520" y2="270.1" stroke="#222" stroke-width="0.9"/>
<line x1="329.3" y1="270.1" x2="331.6" y2="270.1" stroke="#222" stroke-width="0.8"/>
<text x="324.90000000000003" y="273.1" font-size="6.0" font-weight="bold" text-anchor="end" fill="#222" stroke="#222" stroke-width="0.15">0</text>
<line x1="329.3" y1="239.9" x2="331.6" y2="239.9" stroke="#222" stroke-width="0.8"/>
<text x="324.90000000000003" y="242.9" font-size="6.0" font-weight="bold" text-anchor="end" fill="#222" stroke="#222" stroke-width="0.15">100</text>
<line x1="329.3" y1="209.6" x2="331.6" y2="209.6" stroke="#222" stroke-width="0.8"/>
<text x="324.90000000000003" y="212.6" font-size="6.0" font-weight="bold" text-anchor="end" fill="#222" stroke="#222" stroke-width="0.15">200</text>
<line x1="329.3" y1="179.4" x2="331.6" y2="179.4" stroke="#222" stroke-width="0.8"/>
<text x="324.90000000000003" y="182.4" font-size="6.0" font-weight="bold" text-anchor="end" fill="#222" stroke="#222" stroke-width="0.15">300</text>
<line x1="329.3" y1="149.2" x2="331.6" y2="149.2" stroke="#222" stroke-width="0.8"/>
<text x="324.90000000000003" y="152.2" font-size="6.0" font-weight="bold" text-anchor="end" fill="#222" stroke="#222" stroke-width="0.15">400</text>
<text x="308.2" y="209.6" font-size="7.05" font-weight="normal" text-anchor="middle" fill="#333" transform="rotate(-90 308.2 209.6)">IL-6 (pg/mL)</text>
<line x1="339.2" y1="256.5" x2="339.2" y2="260.1" stroke="#888" stroke-width="0.6"/>
<line x1="338.4" y1="256.5" x2="340.0" y2="256.5" stroke="#888" stroke-width="0.6"/>
<rect x="335.3" y="260.1" width="7.7" height="10.0" fill="#1a1a1a"/>
<line x1="346.9" y1="256.8" x2="346.9" y2="260.1" stroke="#888" stroke-width="0.6"/>
<line x1="346.1" y1="256.8" x2="347.7" y2="256.8" stroke="#888" stroke-width="0.6"/>
<rect x="343.0" y="260.1" width="7.7" height="10.0" fill="#fff" stroke="#444" stroke-width="0.6"/>
<line x1="366.0" y1="255.3" x2="366.0" y2="258.6" stroke="#888" stroke-width="0.6"/>
<line x1="365.2" y1="255.3" x2="366.8" y2="255.3" stroke="#888" stroke-width="0.6"/>
<rect x="362.2" y="258.6" width="7.7" height="11.5" fill="#1a1a1a"/>
<line x1="373.7" y1="255.0" x2="373.7" y2="258.6" stroke="#888" stroke-width="0.6"/>
<line x1="372.9" y1="255.0" x2="374.5" y2="255.0" stroke="#888" stroke-width="0.6"/>
<rect x="369.9" y="258.6" width="7.7" height="11.5" fill="#fff" stroke="#444" stroke-width="0.6"/>
<line x1="392.9" y1="174.6" x2="392.9" y2="203.0" stroke="#888" stroke-width="0.6"/>
<line x1="392.1" y1="174.6" x2="393.7" y2="174.6" stroke="#888" stroke-width="0.6"/>
<rect x="389.0" y="203.0" width="7.7" height="67.1" fill="#1a1a1a"/>
<line x1="400.6" y1="252.9" x2="400.6" y2="256.8" stroke="#888" stroke-width="0.6"/>
<line x1="399.8" y1="252.9" x2="401.4" y2="252.9" stroke="#888" stroke-width="0.6"/>
<rect x="396.7" y="256.8" width="7.7" height="13.3" fill="#fff" stroke="#444" stroke-width="0.6"/>
<line x1="419.7" y1="252.6" x2="419.7" y2="255.9" stroke="#888" stroke-width="0.6"/>
<line x1="418.9" y1="252.6" x2="420.5" y2="252.6" stroke="#888" stroke-width="0.6"/>
<rect x="415.9" y="255.9" width="7.7" height="14.2" fill="#1a1a1a"/>
<line x1="427.4" y1="252.9" x2="427.4" y2="255.9" stroke="#888" stroke-width="0.6"/>
<line x1="426.6" y1="252.9" x2="428.2" y2="252.9" stroke="#888" stroke-width="0.6"/>
<rect x="423.6" y="255.9" width="7.7" height="14.2" fill="#fff" stroke="#444" stroke-width="0.6"/>
<line x1="446.6" y1="173.4" x2="446.6" y2="201.5" stroke="#888" stroke-width="0.6"/>
<line x1="445.8" y1="173.4" x2="447.4" y2="173.4" stroke="#888" stroke-width="0.6"/>
<rect x="442.7" y="201.5" width="7.7" height="68.6" fill="#1a1a1a"/>
<line x1="454.3" y1="253.2" x2="454.3" y2="256.8" stroke="#888" stroke-width="0.6"/>
<line x1="453.5" y1="253.2" x2="455.1" y2="253.2" stroke="#888" stroke-width="0.6"/>
<rect x="450.4" y="256.8" width="7.7" height="13.3" fill="#fff" stroke="#444" stroke-width="0.6"/>
<line x1="473.4" y1="256.5" x2="473.4" y2="260.1" stroke="#888" stroke-width="0.6"/>
<line x1="472.6" y1="256.5" x2="474.2" y2="256.5" stroke="#888" stroke-width="0.6"/>
<rect x="469.6" y="260.1" width="7.7" height="10.0" fill="#1a1a1a"/>
<line x1="481.1" y1="255.6" x2="481.1" y2="259.2" stroke="#888" stroke-width="0.6"/>
<line x1="480.3" y1="255.6" x2="481.9" y2="255.6" stroke="#888" stroke-width="0.6"/>
<rect x="477.2" y="259.2" width="7.7" height="10.9" fill="#fff" stroke="#444" stroke-width="0.6"/>
<line x1="500.3" y1="255.6" x2="500.3" y2="259.2" stroke="#888" stroke-width="0.6"/>
<line x1="499.5" y1="255.6" x2="501.1" y2="255.6" stroke="#888" stroke-width="0.6"/>
<rect x="496.4" y="259.2" width="7.7" height="10.9" fill="#1a1a1a"/>
<line x1="508.0" y1="255.9" x2="508.0" y2="259.5" stroke="#888" stroke-width="0.6"/>
<line x1="507.2" y1="255.9" x2="508.8" y2="255.9" stroke="#888" stroke-width="0.6"/>
<rect x="504.1" y="259.5" width="7.7" height="10.6" fill="#fff" stroke="#444" stroke-width="0.6"/>
<line x1="356.5" y1="270.1" x2="356.5" y2="268.5" stroke="#444" stroke-width="0.6"/>
<line x1="383.3" y1="270.1" x2="383.3" y2="268.5" stroke="#444" stroke-width="0.6"/>
<line x1="410.2" y1="270.1" x2="410.2" y2="268.5" stroke="#444" stroke-width="0.6"/>
<line x1="437.0" y1="270.1" x2="437.0" y2="268.5" stroke="#444" stroke-width="0.6"/>
<line x1="463.9" y1="270.1" x2="463.9" y2="268.5" stroke="#444" stroke-width="0.6"/>
<line x1="490.7" y1="270.1" x2="490.7" y2="268.5" stroke="#444" stroke-width="0.6"/>
<line x1="517.5" y1="270.1" x2="517.5" y2="268.5" stroke="#444" stroke-width="0.6"/>
<line x1="395" y1="152.9" x2="495.6" y2="152.9" stroke="#777" stroke-width="0.9"/>
<text x="442.5" y="153.05" font-size="7.6" font-weight="bold" text-anchor="middle" fill="#111" stroke="#111" stroke-width="0.25">*</text>
<line x1="338.7" y1="163" x2="445.6" y2="163" stroke="#777" stroke-width="0.9"/>
<text x="395.2" y="162.80" font-size="7.6" font-weight="bold" text-anchor="middle" fill="#111" stroke="#111" stroke-width="0.25">*</text>
<line x1="338.7" y1="169.5" x2="392.3" y2="169.5" stroke="#777" stroke-width="0.9"/>
<text x="365" y="169.65" font-size="7.6" font-weight="bold" text-anchor="middle" fill="#111" stroke="#111" stroke-width="0.25">*</text>
<line x1="445.3" y1="169.5" x2="468.8" y2="169.5" stroke="#777" stroke-width="0.9"/>
<text x="458.5" y="169.65" font-size="7.6" font-weight="bold" text-anchor="middle" fill="#111" stroke="#111" stroke-width="0.25">*</text>
<rect x="336.5" y="48.2" width="41.9" height="31.8" fill="#fff" stroke="#e6e6e6" stroke-width="0.7"/>
<rect x="344.8" y="54.5" width="3.5" height="3.5" fill="#111"/>
<text x="350.2" y="58.9" font-size="6.1" font-weight="bold" text-anchor="start" fill="#111" textLength="10.8" lengthAdjust="spacingAndGlyphs" stroke="#111" stroke-width="0.15">CSS</text>
<rect x="345" y="70.1" width="3.2" height="3.2" fill="#fff" stroke="#555" stroke-width="0.5"/>
<text x="350.2" y="74.9" font-size="6.1" font-weight="bold" text-anchor="start" fill="#111" textLength="20.8" lengthAdjust="spacingAndGlyphs" stroke="#111" stroke-width="0.15">Asthma</text>
<g transform="translate(345.3 281.7) rotate(-61)">
<text x="-44.3" y="0.0" font-size="7.0" fill="#333">No stimulation</text>
</g>
<g transform="translate(370.2 280.7) rotate(-61)">
<text x="-48.6" y="0.0" font-size="7.0" fill="#333">DDR1 agonistic</text>
<text x="-48.6" y="8.2" font-size="7.0" fill="#333">Ab.(2 hour)</text>
</g>
<g transform="translate(397.0 280.7) rotate(-61)">
<text x="-48.6" y="0.0" font-size="7.0" fill="#333">DDR1 agonistic</text>
<text x="-48.6" y="8.2" font-size="7.0" fill="#333">Ab.(24 hour)</text>
</g>
<g transform="translate(422.8 280.0) rotate(-61)">
<text x="-36.2" y="0.0" font-size="7.0" fill="#333">Control IgM</text>
</g>
<g transform="translate(446.8 278.2) rotate(-61)">
<text x="-27.6" y="0.0" font-size="7.0" fill="#333">Collagen</text>
<text x="-27.6" y="8.2" font-size="7.0" fill="#333">(24 hour)</text>
</g>
<g transform="translate(474.0 279.2) rotate(-61)">
<text x="-50.8" y="0.0" font-size="7.0" fill="#333">Collagen+DDR1</text>
<text x="-50.8" y="8.2" font-size="7.0" fill="#333">blocking protein</text>
</g>
<g transform="translate(503.0 281.3) rotate(-61)">
<text x="-48.6" y="0.0" font-size="7.0" fill="#333">DDR1 agonistic</text>
<text x="-48.6" y="8.2" font-size="7.0" fill="#333">Ab.+cycloheximide</text>
</g>
</svg></body></html>
